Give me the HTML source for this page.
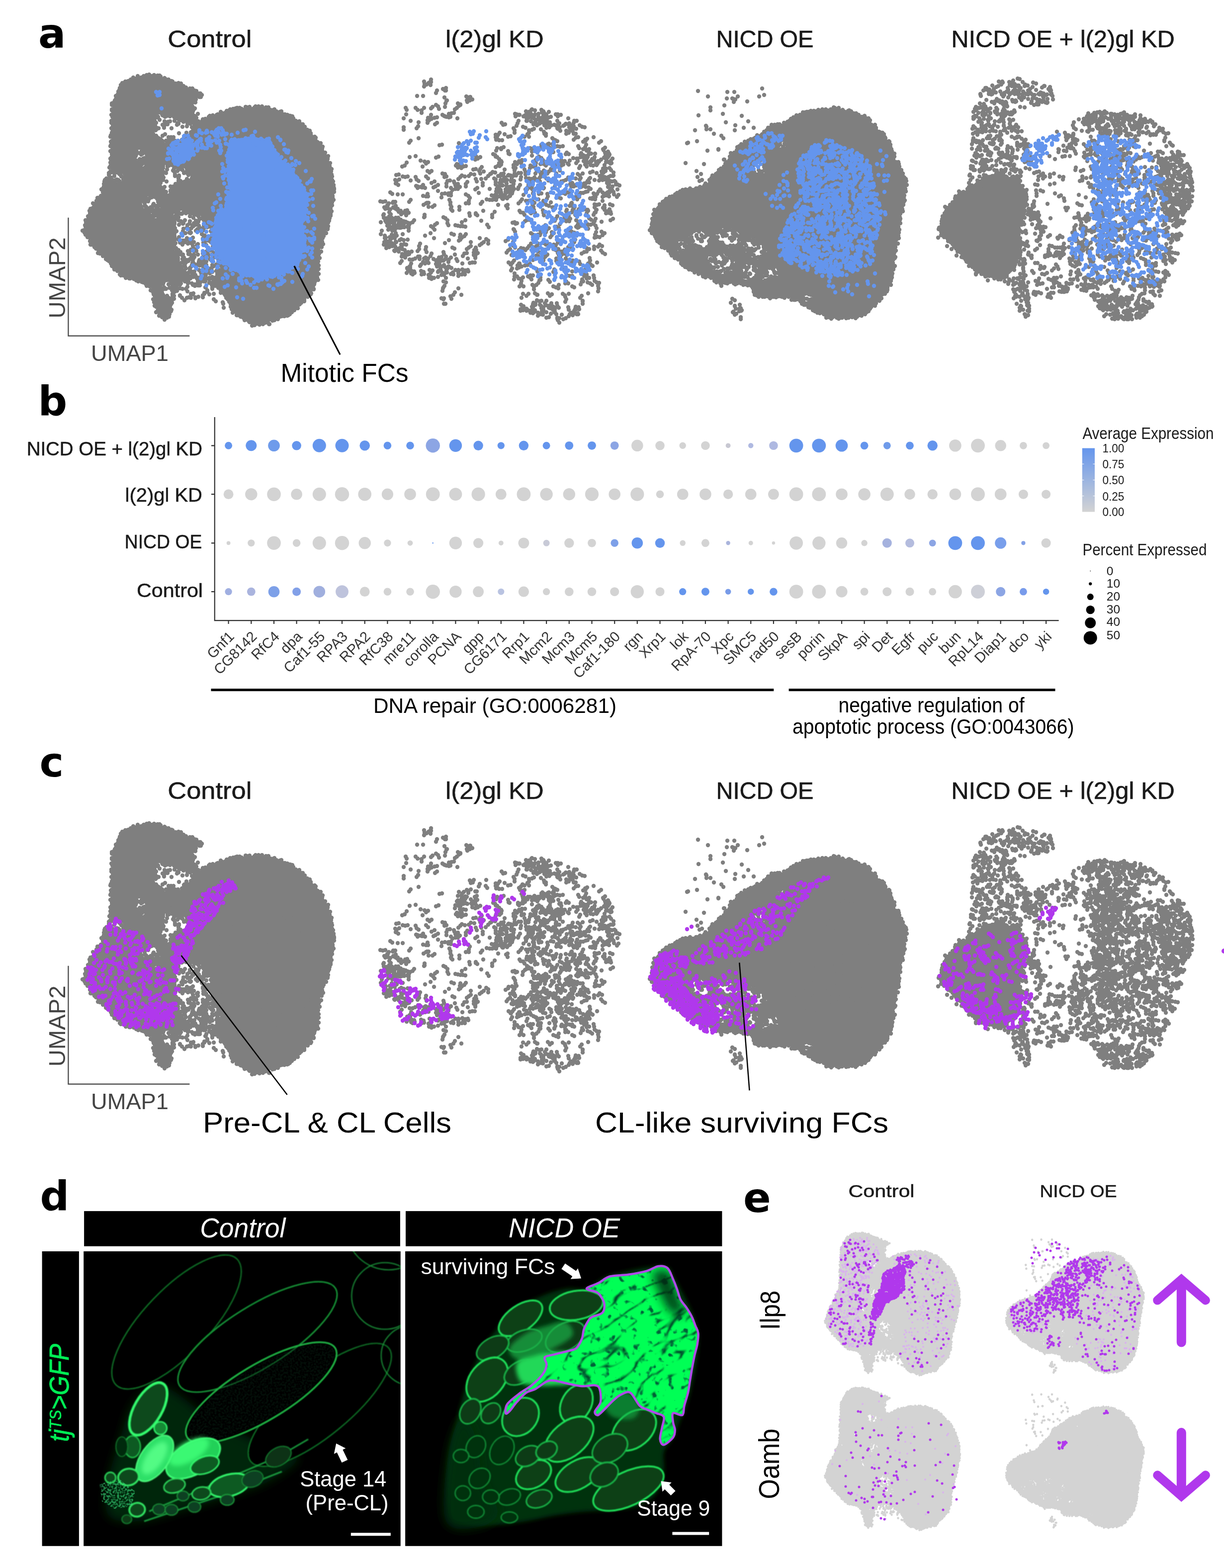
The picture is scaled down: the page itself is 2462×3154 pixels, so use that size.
<!DOCTYPE html><html><head><meta charset="utf-8"><title>Figure</title><style>html,body{margin:0;padding:0;background:#fff;overflow:hidden}svg{display:block}</style></head><body><svg width="2462" height="3154" viewBox="0 0 2462 3154" font-family='"Liberation Sans", Arial, Helvetica, sans-serif'><defs><g id="G_ctrl"><path d="M246.8 168.7C255.4 160.4 268.3 157.2 279 154.2C289.8 151.2 300.5 149.6 311.3 151C322 152.3 332.8 158.2 343.5 162.3C354.3 166.3 365.1 170.6 375.8 175.2C386.6 179.7 405.6 185.1 408.1 189.7C410.5 194.2 393.5 196.4 390.3 202.6C387.1 208.8 387.9 220.6 388.7 226.8C389.5 233 392.5 236.7 395.2 239.7C397.8 242.6 400 245.6 404.8 244.5C409.7 243.4 415.6 236.7 424.2 233.2C432.8 229.7 445.7 226.2 456.5 223.5C467.2 220.9 478 218.4 488.7 217.1C499.5 215.8 510.2 214.9 521 215.5C531.7 216 542.5 217.4 553.2 220.3C564 223.3 574.7 226.8 585.5 233.2C596.2 239.7 608.6 250.4 617.7 259C626.9 267.6 633.3 275.2 640.3 284.8C647.3 294.5 654.8 305.3 659.7 317.1C664.5 328.9 667.2 344 669.4 355.8C671.5 367.6 673.1 377.3 672.6 388.1C672 398.8 668.3 409.6 666.1 420.3C664 431.1 662.4 441.8 659.7 452.6C657 463.3 653.2 474.1 650 484.8C646.8 495.6 641.9 505.3 640.3 517.1C638.7 528.9 642.5 544 640.3 555.8C638.2 567.6 633.9 578.4 627.4 588.1C621 597.7 608.6 606.3 601.6 613.9C594.6 621.4 593.5 628.4 585.5 633.2C577.4 638.1 564 640.8 553.2 642.9C542.5 645.1 531.7 646.7 521 646.1C510.2 645.6 497.3 642.9 488.7 639.7C480.1 636.5 473.7 632.2 469.4 626.8C465.1 621.4 466.7 614.4 462.9 607.4C459.1 600.4 453.2 591.3 446.8 584.8C440.3 578.4 432.8 573 424.2 568.7C415.6 564.4 404.3 560.1 395.2 559C386 558 376.3 559 369.4 562.3C362.4 565.5 357 572.5 353.2 578.4C349.5 584.3 348.4 591.8 346.8 597.7C345.2 603.7 344.1 608 343.5 613.9C343 619.8 345.7 628.4 343.5 633.2C341.4 638.1 334.9 642.9 330.6 642.9C326.3 642.9 321 639.1 317.7 633.2C314.5 627.3 313.4 616 311.3 607.4C309.1 598.8 309.1 588.6 304.8 581.6C300.5 574.6 294.1 569.2 285.5 565.5C276.9 561.7 261.8 562.8 253.2 559C244.6 555.3 240.3 548.8 233.9 542.9C227.4 537 221.5 530.5 214.5 523.5C207.5 516.6 198.4 508.5 191.9 501C185.5 493.4 179.8 484.3 175.8 478.4C171.8 472.5 167.7 471.9 167.7 465.5C167.7 459 173.4 447.2 175.8 439.7C178.2 432.2 179.6 426.2 182.3 420.3C184.9 414.4 188.2 409.6 191.9 404.2C195.7 398.8 202.2 394 204.8 388.1C207.5 382.2 205.4 375.2 208.1 368.7C210.8 362.3 218.5 356.9 221 349.4C223.4 341.8 222 338.6 222.6 323.5C223.1 308.5 223.4 278.9 224.2 259C225 239.1 223.7 219.2 227.4 204.2C231.2 189.1 238.2 177 246.8 168.7Z" stroke="none"/><path d="M311.3 236.5C314.5 230 323.1 229.5 330.6 230C338.2 230.5 347.8 237 356.5 239.7C365.1 242.4 376.6 241.8 382.3 246.1C387.9 250.4 391.4 259.6 390.3 265.5C389.2 271.4 382.5 278.1 375.8 281.6C369.1 285.1 358.6 285.9 350 286.5C341.4 287 330.6 287.8 324.2 284.8C317.7 281.9 313.4 276.8 311.3 268.7C309.1 260.6 308.1 242.9 311.3 236.5Z" fill="#fff" stroke="none"/><path d="M330.6 333.2C337.1 327.3 351.1 330.5 359.7 333.2C368.3 335.9 379.6 344 382.3 349.4C384.9 354.7 380.6 362.3 375.8 365.5C371 368.7 359.1 364.9 353.2 368.7C347.3 372.5 344.6 384.8 340.3 388.1C336 391.3 330.6 391.3 327.4 388.1C324.2 384.8 320.4 377.8 321 368.7C321.5 359.6 324.2 339.1 330.6 333.2Z" fill="#fff" stroke="none"/><path d="M350 430C354.3 424.1 367.2 423 375.8 423.5C384.4 424.1 394.1 428.4 401.6 433.2C409.1 438.1 415.6 446.1 421 452.6C426.3 459 431.2 463.9 433.9 471.9C436.6 480 435.5 490.8 437.1 501C438.7 511.2 444.6 523 443.5 533.2C442.5 543.4 437.6 557.4 430.6 562.3C423.7 567.1 410.8 564.9 401.6 562.3C392.5 559.6 383.3 553.1 375.8 546.1C368.3 539.1 360.8 529.5 356.5 520.3C352.2 511.2 351.1 501.5 350 491.3C348.9 481.1 350 469.2 350 459C350 448.8 345.7 435.9 350 430Z" fill="#fff" stroke="none"/><path d="M324.2 571.9C327.2 568.2 339.2 566 343.5 568.7C347.8 571.4 350.5 583.2 350 588.1C349.5 592.9 344.4 597.2 340.3 597.7C336.3 598.3 328.5 595.6 325.8 591.3C323.1 587 321.2 575.7 324.2 571.9Z" fill="#fff" stroke="none"/><path d="M285.5 404.2C286.6 397.7 298.4 393.4 304.8 394.5C311.3 395.6 321.5 403.7 324.2 410.6C326.9 417.6 325.3 432.7 321 436.5C316.7 440.2 304.3 438.6 298.4 433.2C292.5 427.8 284.4 410.6 285.5 404.2Z" fill="#fff" stroke="none"/><path d="M272.6 304.2C275.8 301 285.5 299.9 288.7 304.2C291.9 308.5 293.5 324.6 291.9 330C290.3 335.4 282.8 337.5 279 336.5C275.3 335.4 270.4 328.9 269.4 323.5C268.3 318.2 269.4 307.4 272.6 304.2Z" fill="#fff" stroke="none"/><path d="M224.2 349.4C226.9 346.1 239.8 344 243.5 346.1C247.3 348.3 249.5 359 246.8 362.3C244.1 365.5 231.2 367.6 227.4 365.5C223.7 363.3 221.5 352.6 224.2 349.4Z" fill="#fff" stroke="none"/><path d="M491.9 639.7C494.6 638.6 510.8 645.6 521 646.1C531.2 646.7 550.5 641.8 553.2 642.9C555.9 644 545.2 651 537.1 652.6C529 654.2 512.4 654.7 504.8 652.6C497.3 650.4 489.2 640.8 491.9 639.7Z" fill="#fff" stroke="none"/><path d="M246 167h0M252 164h0M256 164h0M258 163h0M263 160h0M268 156h0M274 158h0M277 153h0M284 156h0M289 153h0M295 151h0M299 151h0M300 150h0M306 153h0M310 151h0M317 152h0M321 152h0M323 154h0M331 157h0M333 159h0M339 160h0M345 163h0M347 164h0M353 168h0M359 167h0M364 168h0M366 173h0M369 173h0M374 176h0M382 178h0M387 178h0M391 182h0M395 183h0M401 188h0M403 188h0M406 191h0M404 195h0M401 195h0M394 200h0M388 202h0M388 206h0M387 214h0M388 216h0M388 224h0M387 227h0M391 233h0M395 237h0M394 239h0M399 244h0M407 243h0M408 240h0M413 239h0M420 235h0M422 233h0M428 232h0M436 231h0M438 230h0M444 225h0M449 228h0M454 226h0M456 223h0M459 223h0M463 220h0M469 219h0M474 218h0M477 217h0M482 217h0M486 219h0M494 215h0M497 216h0M502 215h0M509 219h0M512 216h0M514 214h0M520 214h0M527 214h0M528 219h0M535 216h0M540 216h0M544 221h0M550 221h0M552 220h0M556 224h0M563 225h0M566 224h0M573 230h0M578 231h0M582 233h0M584 233h0M588 234h0M590 238h0M595 243h0M602 244h0M606 250h0M609 250h0M609 252h0M613 255h0M618 261h0M623 263h0M625 268h0M625 271h0M633 275h0M635 277h0M635 283h0M639 286h0M645 288h0M645 295h0M649 295h0M648 299h0M654 307h0M653 311h0M660 314h0M659 317h0M659 320h0M664 328h0M663 334h0M664 338h0M667 340h0M666 345h0M667 351h0M668 355h0M668 362h0M670 365h0M671 372h0M671 376h0M672 379h0M672 381h0M672 386h0M669 394h0M669 397h0M671 402h0M668 407h0M668 413h0M665 416h0M665 419h0M667 425h0M665 431h0M665 434h0M663 439h0M662 444h0M660 448h0M660 455h0M659 459h0M659 461h0M656 469h0M656 469h0M651 475h0M649 479h0M648 486h0M650 491h0M646 495h0M647 497h0M646 506h0M642 510h0M641 512h0M643 519h0M639 522h0M640 526h0M639 531h0M641 534h0M641 541h0M638 545h0M641 551h0M638 558h0M640 563h0M635 564h0M632 571h0M632 572h0M631 581h0M631 582h0M626 590h0M625 592h0M619 592h0M619 597h0M612 603h0M612 606h0M606 609h0M603 612h0M601 613h0M599 620h0M594 620h0M592 624h0M587 628h0M583 632h0M580 634h0M578 635h0M572 636h0M566 636h0M561 638h0M559 642h0M552 643h0M551 641h0M546 643h0M539 646h0M534 645h0M531 648h0M525 647h0M522 647h0M516 644h0M510 642h0M505 645h0M501 641h0M496 643h0M495 641h0M488 638h0M484 637h0M479 634h0M476 634h0M476 630h0M468 629h0M467 621h0M464 617h0M464 612h0M461 607h0M458 602h0M455 599h0M453 594h0M451 591h0M450 589h0M448 586h0M444 584h0M439 579h0M438 575h0M433 575h0M426 573h0M426 569h0M421 569h0M413 566h0M410 566h0M406 564h0M400 563h0M396 560h0M389 557h0M383 560h0M378 563h0M375 562h0M370 563h0M366 563h0M364 570h0M360 572h0M357 573h0M354 577h0M349 582h0M351 587h0M350 595h0M347 597h0M346 604h0M346 609h0M344 612h0M342 617h0M345 623h0M344 626h0M341 632h0M340 637h0M336 639h0M331 643h0M326 638h0M324 635h0M320 635h0M314 628h0M317 625h0M314 617h0M311 615h0M310 608h0M308 602h0M311 595h0M309 592h0M308 588h0M303 584h0M301 576h0M295 575h0M293 571h0M288 568h0M285 567h0M278 566h0M278 562h0M274 564h0M269 561h0M262 560h0M260 560h0M253 559h0M248 554h0M243 554h0M241 552h0M236 545h0M234 541h0M230 542h0M229 538h0M225 535h0M223 530h0M219 525h0M216 523h0M213 521h0M207 515h0M207 512h0M201 510h0M197 509h0M198 503h0M193 500h0M190 497h0M185 492h0M182 492h0M181 485h0M181 485h0M176 477h0M172 472h0M170 468h0M166 464h0M169 463h0M172 456h0M171 453h0M173 447h0M172 443h0M178 438h0M177 435h0M181 429h0M180 424h0M182 420h0M187 418h0M189 410h0M187 409h0M194 404h0M196 398h0M198 398h0M203 394h0M207 387h0M204 381h0M207 379h0M209 375h0M209 370h0M210 365h0M211 362h0M214 359h0M219 352h0M219 348h0M222 345h0M220 337h0M222 334h0M222 327h0M223 321h0M222 319h0M225 315h0M225 310h0M222 304h0M225 302h0M222 294h0M223 292h0M223 285h0M224 284h0M222 275h0M223 272h0M225 267h0M226 265h0M224 258h0M227 254h0M226 249h0M224 247h0M224 243h0M226 235h0M224 231h0M227 229h0M225 222h0M225 220h0M225 211h0M225 208h0M229 206h0M231 202h0M234 194h0M233 193h0M238 184h0M240 181h0M241 177h0M243 171h0M333 250h0M339 276h0M376 254h0M315 257h0M341 282h0M327 251h0M344 276h0M370 281h0M338 245h0M387 265h0M332 270h0M336 246h0M384 266h0M330 257h0M342 244h0M345 258h0M375 272h0M376 274h0M359 249h0M337 250h0M327 273h0M331 234h0M314 261h0M337 285h0M332 235h0M319 258h0M367 255h0M330 254h0M360 268h0M370 278h0M378 247h0M356 251h0M331 244h0M323 280h0M357 248h0M351 243h0M375 267h0M349 276h0M314 247h0M321 241h0M388 263h0M314 236h0M318 235h0M317 236h0M326 230h0M327 232h0M329 229h0M332 229h0M336 233h0M343 232h0M342 234h0M350 235h0M351 236h0M359 240h0M357 238h0M363 242h0M368 240h0M369 245h0M374 243h0M377 248h0M381 247h0M383 249h0M388 257h0M386 256h0M390 260h0M387 268h0M387 270h0M385 274h0M383 271h0M377 277h0M379 282h0M373 282h0M371 282h0M366 281h0M365 287h0M358 284h0M360 288h0M352 283h0M353 290h0M346 283h0M346 285h0M342 287h0M338 283h0M334 283h0M327 287h0M326 283h0M320 281h0M319 278h0M314 273h0M315 275h0M308 269h0M313 262h0M314 259h0M312 258h0M312 253h0M311 251h0M311 248h0M311 243h0M308 241h0M351 346h0M349 343h0M350 339h0M329 357h0M327 357h0M352 335h0M360 338h0M352 336h0M352 354h0M333 387h0M367 342h0M376 348h0M334 348h0M352 351h0M331 385h0M331 376h0M328 362h0M360 353h0M374 364h0M327 388h0M360 355h0M370 348h0M343 375h0M348 343h0M371 347h0M340 333h0M359 357h0M329 346h0M361 334h0M327 353h0M335 365h0M357 344h0M359 359h0M329 385h0M336 341h0M328 334h0M337 335h0M337 332h0M338 334h0M346 332h0M350 333h0M355 335h0M354 336h0M356 333h0M362 334h0M363 340h0M366 340h0M376 340h0M374 346h0M379 348h0M384 347h0M379 352h0M376 360h0M379 363h0M372 368h0M374 366h0M370 366h0M363 364h0M359 364h0M356 370h0M355 371h0M353 370h0M349 375h0M349 379h0M343 383h0M346 383h0M343 385h0M334 386h0M333 391h0M329 387h0M329 383h0M323 383h0M324 378h0M323 376h0M321 371h0M323 368h0M322 363h0M324 357h0M323 355h0M323 354h0M324 344h0M325 347h0M328 338h0M326 334h0M415 511h0M415 526h0M356 505h0M384 537h0M427 547h0M360 452h0M360 428h0M429 536h0M409 538h0M409 463h0M359 437h0M380 482h0M352 459h0M376 523h0M384 468h0M430 509h0M353 481h0M391 531h0M382 521h0M400 454h0M350 452h0M421 559h0M350 492h0M396 534h0M367 492h0M382 539h0M377 453h0M415 493h0M360 512h0M415 533h0M409 473h0M388 478h0M369 460h0M434 493h0M385 546h0M372 487h0M400 528h0M420 513h0M383 469h0M412 526h0M366 484h0M422 504h0M362 488h0M368 465h0M416 541h0M364 445h0M373 469h0M399 446h0M381 450h0M441 525h0M360 477h0M442 534h0M419 484h0M368 512h0M360 452h0M386 428h0M387 533h0M415 493h0M409 488h0M363 507h0M388 526h0M435 483h0M404 527h0M389 455h0M418 546h0M422 521h0M430 518h0M410 487h0M379 511h0M359 482h0M423 522h0M409 458h0M390 487h0M408 480h0M413 553h0M367 514h0M423 477h0M354 499h0M359 503h0M401 523h0M398 512h0M428 496h0M370 518h0M387 529h0M383 431h0M376 479h0M351 482h0M389 520h0M383 460h0M371 526h0M370 535h0M387 453h0M426 512h0M394 502h0M383 512h0M427 537h0M394 464h0M401 441h0M428 473h0M385 459h0M390 449h0M376 458h0M378 490h0M390 512h0M412 474h0M437 542h0M435 532h0M411 458h0M359 443h0M372 531h0M382 445h0M435 533h0M407 532h0M413 548h0M424 540h0M368 520h0M400 526h0M391 546h0M402 460h0M372 443h0M396 432h0M394 444h0M396 493h0M400 543h0M394 502h0M412 540h0M385 482h0M410 512h0M414 553h0M398 491h0M417 510h0M382 543h0M384 489h0M399 530h0M370 484h0M390 500h0M427 464h0M427 480h0M397 461h0M397 559h0M411 533h0M381 468h0M378 505h0M409 532h0M433 499h0M355 465h0M351 450h0M436 508h0M412 533h0M435 508h0M408 510h0M415 506h0M414 453h0M412 487h0M367 429h0M422 550h0M411 475h0M427 533h0M403 459h0M378 482h0M380 483h0M410 553h0M355 502h0M354 440h0M426 503h0M351 477h0M405 554h0M389 438h0M410 453h0M417 457h0M417 542h0M409 522h0M393 553h0M379 525h0M395 432h0M384 503h0M391 517h0M384 513h0M409 482h0M386 533h0M438 532h0M403 464h0M416 538h0M381 508h0M406 466h0M390 547h0M385 519h0M406 548h0M426 463h0M350 460h0M390 505h0M426 547h0M426 544h0M404 462h0M430 535h0M414 550h0M382 435h0M402 534h0M369 528h0M407 518h0M394 452h0M374 528h0M424 487h0M422 456h0M404 548h0M433 496h0M395 505h0M368 450h0M367 521h0M384 502h0M388 495h0M364 430h0M360 511h0M406 471h0M431 491h0M403 460h0M423 483h0M439 530h0M427 557h0M374 429h0M369 449h0M358 431h0M402 544h0M393 555h0M353 427h0M354 428h0M355 431h0M359 428h0M366 430h0M370 425h0M372 422h0M379 427h0M378 422h0M381 425h0M390 431h0M393 426h0M396 432h0M399 435h0M399 431h0M406 439h0M408 437h0M411 443h0M410 443h0M414 444h0M418 447h0M419 450h0M424 452h0M427 457h0M424 465h0M428 469h0M434 471h0M431 472h0M431 479h0M437 480h0M435 482h0M438 486h0M437 488h0M434 491h0M438 498h0M435 504h0M436 504h0M436 507h0M442 511h0M438 515h0M439 522h0M439 526h0M439 529h0M444 528h0M443 532h0M440 534h0M440 543h0M443 546h0M435 545h0M439 546h0M437 551h0M437 552h0M434 558h0M428 559h0M429 562h0M421 562h0M423 560h0M417 560h0M410 564h0M410 560h0M402 559h0M402 562h0M397 558h0M396 560h0M394 557h0M387 551h0M387 552h0M384 547h0M381 547h0M378 549h0M374 540h0M374 540h0M372 536h0M365 537h0M364 529h0M362 530h0M357 526h0M358 523h0M354 522h0M358 519h0M354 515h0M353 511h0M350 508h0M356 502h0M352 499h0M351 492h0M353 489h0M348 485h0M348 486h0M347 478h0M351 475h0M347 474h0M351 470h0M351 463h0M353 464h0M347 456h0M350 455h0M348 449h0M349 446h0M351 447h0M348 441h0M352 435h0M352 437h0M334 581h0M346 584h0M344 579h0M330 578h0M326 584h0M331 581h0M341 579h0M324 569h0M328 571h0M329 568h0M339 572h0M343 570h0M346 571h0M348 569h0M347 575h0M349 579h0M349 587h0M351 586h0M347 591h0M347 593h0M339 599h0M334 597h0M336 595h0M328 593h0M326 589h0M323 585h0M324 583h0M323 578h0M322 576h0M318 420h0M308 422h0M303 417h0M309 414h0M298 405h0M294 416h0M300 419h0M307 415h0M297 427h0M319 413h0M303 425h0M290 404h0M291 409h0M299 423h0M309 430h0M317 416h0M314 426h0M315 414h0M316 424h0M315 419h0M308 412h0M316 431h0M309 410h0M285 404h0M290 401h0M291 401h0M294 398h0M300 400h0M302 396h0M303 393h0M305 397h0M311 396h0M316 400h0M318 406h0M322 404h0M321 411h0M321 407h0M324 414h0M326 420h0M323 425h0M322 426h0M323 428h0M320 433h0M320 440h0M318 436h0M311 434h0M309 435h0M306 437h0M305 434h0M298 434h0M300 429h0M296 429h0M292 422h0M296 423h0M291 414h0M293 415h0M291 414h0M290 407h0M273 314h0M281 320h0M274 310h0M284 324h0M284 306h0M279 330h0M276 326h0M288 323h0M284 311h0M273 305h0M275 305h0M281 308h0M285 304h0M286 302h0M291 305h0M287 309h0M290 318h0M291 321h0M288 319h0M293 325h0M293 329h0M286 330h0M283 336h0M283 334h0M279 336h0M273 336h0M275 333h0M271 328h0M268 320h0M273 322h0M269 319h0M274 311h0M273 311h0M230 354h0M240 350h0M231 363h0M235 361h0M230 349h0M223 347h0M231 347h0M232 345h0M236 347h0M239 344h0M241 348h0M243 348h0M243 353h0M244 355h0M248 361h0M240 364h0M236 362h0M238 362h0M231 367h0M230 363h0M226 363h0M225 361h0M223 357h0M523 647h0M509 650h0M491 641h0M496 639h0M498 638h0M501 645h0M505 644h0M507 644h0M513 645h0M516 642h0M520 644h0M522 647h0M527 645h0M535 647h0M538 647h0M536 643h0M539 645h0M547 643h0M549 644h0M555 641h0M552 644h0M548 645h0M541 652h0M542 652h0M534 649h0M531 650h0M529 652h0M523 651h0M524 650h0M522 653h0M517 651h0M512 654h0M507 649h0M507 655h0M501 647h0M502 648h0M494 643h0M492 644h0M393 206h0M392 218h0M393 235h0M380 206h0M398 229h0M393 235h0M390 220h0M384 222h0M380 598h0M414 578h0M356 585h0M398 574h0M386 570h0M434 606h0M377 577h0M411 591h0M366 599h0M421 592h0M362 580h0M392 575h0M356 580h0M403 568h0M388 592h0M392 572h0M362 594h0M401 574h0M460 604h0M427 578h0M378 570h0M371 604h0M449 611h0M388 573h0M393 598h0M377 563h0M448 608h0M408 594h0M367 581h0M402 574h0M450 619h0M444 589h0M411 589h0M389 590h0M384 591h0M417 584h0M372 566h0M388 592h0M466 622h0M430 602h0M384 599h0M427 581h0M430 591h0M393 600h0M399 597h0M417 587h0M362 573h0M379 567h0M413 578h0M408 598h0M376 599h0M362 595h0M398 566h0M396 572h0M377 586h0M350 601h0M374 581h0" stroke-width="8.4" stroke-linecap="round" fill="none"/></g><g id="B_ctrl"><path d="M462.9 284.8C470.4 277 491.4 277 504.8 276.8C518.3 276.5 535.5 277.6 543.5 283.2C551.6 288.9 547.3 301.8 553.2 310.6C559.1 319.5 571 327.8 579 336.5C587.1 345.1 595.7 353.7 601.6 362.3C607.5 370.9 612.4 378.4 614.5 388.1C616.7 397.7 615.6 409.6 614.5 420.3C613.4 431.1 608.1 441.8 608.1 452.6C608.1 463.3 615.1 474.1 614.5 484.8C614 495.6 608.6 508.5 604.8 517.1C601.1 525.7 597.8 531.1 591.9 536.5C586 541.8 578.5 545.6 569.4 549.4C560.2 553.1 547.8 558 537.1 559C526.3 560.1 515.6 558.5 504.8 555.8C494.1 553.1 482.3 548.3 472.6 542.9C462.9 537.5 453.8 530.5 446.8 523.5C439.8 516.6 433.9 510.1 430.6 501C427.4 491.8 426.3 479.5 427.4 468.7C428.5 458 432.3 445.6 437.1 436.5C441.9 427.3 452.2 424.1 456.5 413.9C460.8 403.7 462.4 390.2 462.9 375.2C463.4 360.1 459.7 338.6 459.7 323.5C459.7 308.5 455.4 292.6 462.9 284.8Z" stroke="none"/><path d="M464 284h0M470 285h0M474 283h0M479 284h0M480 282h0M485 282h0M492 281h0M494 278h0M501 280h0M506 274h0M510 276h0M515 280h0M517 281h0M525 279h0M527 281h0M536 282h0M537 280h0M542 285h0M544 288h0M546 293h0M548 295h0M552 302h0M553 308h0M555 308h0M556 312h0M560 319h0M564 318h0M565 325h0M570 326h0M572 328h0M578 333h0M581 337h0M580 339h0M584 346h0M589 345h0M590 351h0M595 355h0M598 358h0M599 363h0M603 364h0M606 373h0M606 373h0M611 378h0M611 384h0M613 388h0M615 395h0M617 395h0M615 403h0M616 408h0M615 412h0M614 415h0M616 422h0M616 426h0M612 431h0M613 434h0M612 438h0M610 443h0M607 447h0M607 455h0M609 457h0M609 460h0M610 465h0M609 473h0M612 475h0M614 479h0M613 483h0M612 488h0M613 494h0M613 498h0M611 504h0M606 506h0M607 515h0M604 518h0M602 523h0M598 525h0M599 528h0M593 530h0M590 535h0M588 538h0M582 540h0M579 546h0M575 545h0M571 552h0M565 549h0M562 554h0M555 552h0M549 555h0M548 557h0M544 556h0M536 560h0M533 558h0M529 557h0M521 557h0M516 558h0M513 557h0M510 555h0M505 553h0M502 554h0M498 550h0M492 551h0M486 546h0M480 545h0M479 543h0M474 543h0M469 541h0M465 538h0M462 534h0M459 531h0M455 530h0M452 525h0M448 526h0M444 519h0M442 518h0M437 510h0M436 509h0M435 504h0M433 500h0M431 494h0M427 490h0M427 487h0M429 481h0M431 477h0M426 472h0M429 471h0M427 462h0M432 458h0M434 455h0M434 449h0M436 445h0M435 443h0M435 438h0M438 433h0M443 431h0M445 425h0M450 423h0M455 418h0M455 413h0M456 409h0M457 403h0M460 400h0M459 397h0M459 390h0M460 387h0M464 379h0M464 377h0M462 370h0M462 368h0M460 362h0M462 356h0M462 354h0M460 349h0M460 344h0M462 336h0M462 335h0M459 326h0M458 326h0M458 321h0M459 315h0M459 307h0M462 302h0M461 301h0M463 296h0M465 287h0M360 317h0M394 272h0M370 324h0M346 293h0M348 288h0M353 308h0M349 313h0M375 293h0M358 331h0M382 298h0M399 298h0M381 279h0M379 285h0M363 302h0M378 273h0M445 258h0M418 280h0M412 298h0M360 304h0M424 284h0M420 285h0M397 303h0M416 280h0M410 297h0M359 303h0M364 326h0M390 311h0M396 292h0M397 296h0M433 273h0M352 319h0M389 305h0M440 258h0M379 320h0M434 264h0M418 290h0M426 266h0M416 283h0M396 273h0M377 281h0M356 299h0M421 276h0M371 273h0M436 261h0M356 288h0M386 283h0M420 278h0M382 305h0M433 282h0M379 300h0M447 269h0M377 307h0M426 284h0M397 293h0M389 291h0M436 287h0M386 293h0M416 298h0M340 319h0M338 308h0M420 292h0M338 309h0M383 300h0M440 266h0M373 295h0M370 274h0M395 287h0M438 275h0M398 284h0M389 293h0M404 283h0M431 270h0M398 287h0M402 280h0M365 317h0M367 310h0M439 260h0M406 268h0M436 266h0M446 271h0M383 306h0M363 326h0M417 266h0M338 309h0M336 320h0M404 279h0M401 266h0M436 266h0M378 305h0M359 297h0M422 288h0M416 263h0M435 264h0M367 282h0M425 293h0M448 262h0M406 297h0M365 325h0M437 272h0M373 290h0M362 313h0M353 316h0M401 262h0M406 291h0M343 305h0M347 300h0M375 284h0M414 267h0M352 329h0M354 322h0M382 303h0M382 284h0M363 306h0M343 303h0M346 306h0M363 297h0M347 299h0M349 323h0M363 324h0M362 319h0M367 314h0M349 317h0M345 292h0M339 299h0M364 293h0M367 290h0M368 319h0M374 282h0M350 309h0M369 314h0M379 296h0M379 302h0M386 300h0M358 283h0M350 316h0M372 286h0M355 286h0M347 290h0M354 329h0M362 304h0M376 311h0M347 311h0M355 287h0M376 285h0M368 301h0M380 319h0M382 294h0M387 306h0M350 322h0M349 289h0M361 291h0M363 325h0M372 315h0M357 319h0M378 314h0M358 283h0M371 322h0M355 309h0M379 300h0M368 302h0M354 289h0M355 322h0M369 293h0M373 301h0M371 320h0M347 292h0M387 297h0M349 324h0M369 325h0M357 304h0M386 305h0M380 287h0M361 320h0M350 297h0M342 307h0M382 305h0M357 326h0M383 313h0M360 328h0M356 313h0M370 298h0M364 313h0M384 304h0M356 329h0M372 307h0M360 317h0M354 285h0M345 309h0M367 281h0M357 317h0M370 293h0M376 293h0M365 300h0M379 313h0M357 328h0M374 314h0M351 287h0M367 321h0M378 296h0M344 305h0M382 287h0M375 287h0M352 298h0M347 294h0M354 301h0M357 298h0M360 322h0M370 319h0M353 286h0M376 303h0M366 313h0M415 466h0M397 467h0M405 464h0M420 503h0M377 461h0M415 517h0M388 534h0M365 470h0M406 555h0M406 519h0M416 481h0M429 526h0M383 481h0M419 475h0M398 497h0M408 546h0M367 474h0M362 483h0M395 540h0M408 505h0M388 504h0M417 538h0M415 495h0M426 546h0M414 536h0M407 543h0M411 509h0M466 281h0M542 525h0M465 328h0M454 289h0M559 573h0M588 375h0M564 282h0M596 364h0M530 519h0M548 369h0M478 442h0M452 515h0M450 530h0M589 432h0M409 510h0M500 279h0M548 493h0M537 388h0M521 449h0M454 539h0M625 365h0M513 302h0M507 479h0M566 406h0M481 320h0M495 350h0M447 496h0M522 401h0M448 486h0M447 345h0M532 485h0M628 500h0M569 491h0M569 462h0M463 374h0M440 463h0M484 549h0M588 406h0M437 510h0M511 579h0M613 515h0M512 524h0M532 423h0M450 340h0M567 564h0M629 400h0M572 383h0M590 530h0M451 448h0M490 262h0M594 513h0M509 273h0M608 431h0M547 545h0M514 465h0M449 338h0M612 382h0M426 450h0M508 448h0M549 487h0M504 281h0M511 388h0M558 489h0M457 469h0M562 411h0M541 279h0M455 386h0M585 525h0M549 498h0M628 518h0M457 559h0M453 476h0M618 465h0M615 344h0M628 488h0M445 519h0M439 424h0M426 513h0M608 555h0M531 524h0M518 459h0M540 517h0M528 353h0M494 261h0M594 521h0M508 298h0M553 326h0M501 295h0M628 435h0M483 289h0M571 533h0M487 357h0M579 307h0M542 575h0M562 452h0M522 406h0M496 456h0M552 555h0M572 516h0M614 529h0M560 533h0M502 542h0M504 487h0M460 356h0M483 364h0M629 470h0M618 505h0M576 347h0M460 392h0M607 556h0M478 508h0M582 546h0M586 431h0M426 525h0M474 461h0M487 432h0M525 469h0M527 562h0M496 554h0M562 571h0M468 551h0M443 400h0M561 482h0M575 502h0M459 342h0M408 482h0M450 343h0M626 467h0M539 471h0M540 483h0M472 280h0M486 305h0M428 418h0M627 481h0M465 507h0M443 291h0M472 391h0M562 403h0M571 290h0M618 369h0M594 332h0M600 518h0M557 349h0M555 448h0M555 317h0M630 383h0M553 443h0M453 280h0M486 492h0M434 513h0M460 377h0M523 295h0M459 516h0M468 382h0M579 331h0M447 330h0M491 377h0M551 411h0M556 529h0M456 269h0M503 296h0M508 489h0M513 315h0M455 401h0M485 410h0M619 438h0M574 441h0M621 428h0M457 314h0M602 328h0M616 408h0M507 362h0M449 473h0M486 298h0M630 414h0M553 425h0M574 432h0M456 420h0M542 469h0M435 518h0M621 498h0M601 378h0M454 452h0M452 271h0M504 304h0M446 501h0M537 562h0M495 478h0M456 413h0M520 565h0M516 579h0M546 329h0M595 324h0M476 390h0M481 475h0M439 526h0M462 406h0M532 489h0M523 447h0M456 313h0M538 405h0M497 546h0M555 537h0M620 391h0M469 352h0M499 430h0M599 519h0M553 424h0M554 448h0M588 549h0M534 318h0M562 342h0M457 377h0M523 478h0M419 498h0M547 411h0M558 517h0M559 488h0M552 317h0M624 512h0M456 398h0M497 569h0M572 375h0M556 506h0M452 345h0M496 395h0M420 447h0M620 445h0M484 486h0M503 316h0M513 265h0M559 311h0M487 570h0M580 529h0M551 464h0M565 571h0M447 506h0M471 342h0M592 453h0M599 541h0M538 323h0M570 347h0M442 484h0M463 488h0M480 428h0M476 394h0M513 342h0M547 484h0M463 514h0M571 369h0M516 320h0M617 440h0M562 383h0M568 333h0M587 518h0M423 448h0M446 487h0M588 514h0M455 289h0M556 441h0M537 294h0M549 337h0M462 396h0M525 493h0M409 493h0M453 353h0M550 482h0M544 550h0M449 359h0M555 343h0M581 526h0M568 568h0M586 359h0M475 492h0M415 456h0M521 308h0M618 542h0M509 323h0M429 423h0M523 376h0M568 430h0M514 341h0M557 331h0M476 413h0M567 508h0M488 403h0M545 293h0M507 464h0M466 271h0M432 409h0M545 356h0M418 501h0M581 400h0M580 303h0M440 431h0M442 506h0M501 368h0M462 498h0M609 551h0M511 568h0M542 352h0M510 490h0M572 301h0M426 521h0M480 339h0M461 410h0M600 363h0M442 499h0M481 320h0M499 524h0M602 444h0M542 549h0M623 365h0M599 523h0M463 377h0M489 373h0M489 295h0M454 552h0M497 464h0M608 503h0M458 556h0M571 503h0M590 341h0M554 382h0M527 368h0M592 370h0M598 533h0M620 499h0M559 470h0M529 406h0M480 512h0M583 540h0M451 369h0M460 291h0M478 267h0M587 332h0M574 323h0M509 389h0M588 567h0M474 463h0M609 411h0M611 496h0M474 541h0M535 293h0M538 527h0M522 415h0M498 543h0M556 326h0M486 376h0M624 484h0M410 450h0M502 490h0M501 289h0M523 524h0M585 374h0M453 499h0M588 330h0M502 382h0M566 559h0M448 356h0M478 495h0M445 435h0M518 475h0M634 440h0M586 318h0M613 437h0M578 539h0M486 557h0M450 267h0M518 549h0M520 560h0M532 305h0M548 518h0M500 453h0M462 348h0M499 425h0M510 289h0M568 500h0M457 341h0M522 316h0M542 551h0M449 448h0M569 501h0M567 488h0M465 529h0M621 402h0M587 478h0M435 407h0M550 581h0M480 506h0M459 323h0M439 391h0M545 357h0M475 422h0M444 414h0M504 573h0M515 564h0M511 323h0M539 306h0M441 283h0M565 571h0M495 373h0M500 373h0M562 385h0M437 538h0M599 494h0M484 462h0M615 389h0M502 355h0M530 473h0M572 565h0M599 514h0M539 477h0M481 564h0M529 389h0M444 296h0M610 517h0M513 419h0M486 548h0M483 431h0M617 465h0M512 366h0M492 456h0M584 343h0M488 384h0M486 554h0M527 348h0M479 524h0M439 482h0M415 519h0M572 491h0M530 556h0M502 321h0M575 536h0M491 289h0M604 502h0M540 574h0M566 462h0M444 456h0M558 572h0M503 385h0M460 334h0M566 316h0M443 308h0M483 497h0M504 514h0M535 405h0M606 453h0M480 387h0M621 536h0M614 440h0M491 482h0M584 425h0M498 475h0M534 494h0M497 569h0M544 361h0M489 346h0M612 515h0M585 524h0M632 481h0M476 503h0M463 456h0M438 536h0M515 348h0M618 503h0M436 505h0M535 552h0M538 397h0M466 296h0M604 402h0M570 342h0M571 468h0M569 328h0M554 349h0M488 556h0M501 443h0M589 504h0M508 538h0M495 565h0M511 297h0M576 306h0M559 276h0M631 434h0M574 301h0M550 380h0M459 522h0M510 410h0M569 494h0M481 560h0M445 303h0M445 420h0M480 312h0M618 412h0M584 340h0M612 457h0M627 508h0M548 431h0M600 402h0M589 479h0M575 334h0M509 524h0M439 480h0M530 390h0M441 303h0M511 418h0M464 378h0M530 505h0M539 311h0M607 378h0M434 447h0M626 383h0M529 360h0M548 441h0M622 480h0M486 565h0M549 434h0M602 475h0M485 454h0M530 325h0M519 297h0M596 475h0M561 558h0M632 478h0M627 360h0M498 550h0M539 525h0M443 528h0M464 543h0M521 363h0M626 390h0M564 281h0M427 500h0M464 307h0M486 473h0M632 460h0M553 311h0M570 437h0M415 545h0M477 598h0M415 574h0M475 578h0M452 577h0M394 538h0M448 560h0M489 601h0M458 574h0M404 560h0M321 191h0M325 218h0M314 185h0M317 192h0M321 185h0" stroke-width="8.4" stroke-linecap="round" fill="none"/></g><g id="P_ctrl"><path d="M331 484h0M199 479h0M180 453h0M233 362h0M311 499h0M267 377h0M297 436h0M212 428h0M233 399h0M297 389h0M246 493h0M251 374h0M183 461h0M188 451h0M262 383h0M297 450h0M347 521h0M259 371h0M261 368h0M300 495h0M279 557h0M231 352h0M280 501h0M236 494h0M239 498h0M334 481h0M242 489h0M237 534h0M342 515h0M334 471h0M354 483h0M350 466h0M207 455h0M261 415h0M240 453h0M281 389h0M222 452h0M265 433h0M271 401h0M316 496h0M318 455h0M267 423h0M225 429h0M304 522h0M261 502h0M210 440h0M237 408h0M238 508h0M214 514h0M294 490h0M290 494h0M221 353h0M238 347h0M297 555h0M233 364h0M321 504h0M262 422h0M221 448h0M305 539h0M331 533h0M253 433h0M331 538h0M251 382h0M253 428h0M283 396h0M240 509h0M233 491h0M288 382h0M286 405h0M281 468h0M231 348h0M231 483h0M284 453h0M229 432h0M238 541h0M216 470h0M241 348h0M321 520h0M221 512h0M213 479h0M317 527h0M274 426h0M219 507h0M187 442h0M240 436h0M266 404h0M303 455h0M267 450h0M240 531h0M237 414h0M286 465h0M223 358h0M191 486h0M271 413h0M232 528h0M234 433h0M246 376h0M295 488h0M254 430h0M214 516h0M256 525h0M241 503h0M352 492h0M298 450h0M259 384h0M202 483h0M301 397h0M286 378h0M266 410h0M274 370h0M261 477h0M195 408h0M299 461h0M287 513h0M278 389h0M254 524h0M277 507h0M239 439h0M354 523h0M347 556h0M327 456h0M253 524h0M300 458h0M200 405h0M342 533h0M346 520h0M274 476h0M302 443h0M319 441h0M223 505h0M302 428h0M212 388h0M266 451h0M311 535h0M237 386h0M235 503h0M295 430h0M269 374h0M266 515h0M207 500h0M237 521h0M290 447h0M241 468h0M211 437h0M218 525h0M274 474h0M334 515h0M298 521h0M252 490h0M189 431h0M266 373h0M243 373h0M204 468h0M206 445h0M272 438h0M265 526h0M315 467h0M272 388h0M278 484h0M240 447h0M182 483h0M274 503h0M217 358h0M217 359h0M262 395h0M226 442h0M240 515h0M232 364h0M302 513h0M248 547h0M244 409h0M267 438h0M253 511h0M327 446h0M203 430h0M295 464h0M257 468h0M216 464h0M240 536h0M289 480h0M330 444h0M194 407h0M305 502h0M208 483h0M294 486h0M231 473h0M233 368h0M297 404h0M273 520h0M240 380h0M245 451h0M248 367h0M269 406h0M252 390h0M292 525h0M244 508h0M222 364h0M177 440h0M253 509h0M222 374h0M268 434h0M348 539h0M215 465h0M254 543h0M227 470h0M227 499h0M193 445h0M268 370h0M217 393h0M283 532h0M301 470h0M264 381h0M253 402h0M281 406h0M222 483h0M264 391h0M191 453h0M265 500h0M241 431h0M218 521h0M286 385h0M359 484h0M323 464h0M203 397h0M287 383h0M257 499h0M188 487h0M189 446h0M293 493h0M250 423h0M302 504h0M293 429h0M278 454h0M353 513h0M311 499h0M348 525h0M319 445h0M229 422h0M321 527h0M330 489h0M277 387h0M233 362h0M199 499h0M232 529h0M227 399h0M252 424h0M280 452h0M216 403h0M323 494h0M274 521h0M199 460h0M220 429h0M206 497h0M278 513h0M289 473h0M345 521h0M277 412h0M189 414h0M304 547h0M292 487h0M348 513h0M254 442h0M190 478h0M299 538h0M263 414h0M254 516h0M184 440h0M248 529h0M318 470h0M215 408h0M263 428h0M292 452h0M231 475h0M233 342h0M250 526h0M302 555h0M329 470h0M242 398h0M273 423h0M263 430h0M322 473h0M191 473h0M335 559h0M337 488h0M327 539h0M216 468h0M241 406h0M314 477h0M233 461h0M346 466h0M343 466h0M257 463h0M308 555h0M288 446h0M290 458h0M304 550h0M293 518h0M215 425h0M212 497h0M270 474h0M231 470h0M351 513h0M268 426h0M235 519h0M203 464h0M317 548h0M263 548h0M245 462h0M232 374h0M195 407h0M303 469h0M266 372h0M326 522h0M315 512h0M290 525h0M328 545h0M229 492h0M300 529h0M277 401h0M217 460h0M302 490h0M316 444h0M190 417h0M187 488h0M296 534h0M247 440h0M215 515h0M305 514h0M271 495h0M194 425h0M225 402h0M231 403h0M334 482h0M261 424h0M345 549h0M255 466h0M219 363h0M265 511h0M199 436h0M242 527h0M193 481h0M431 319h0M412 315h0M403 350h0M372 405h0M406 339h0M370 414h0M440 276h0M393 339h0M390 340h0M400 307h0M385 355h0M418 299h0M430 302h0M348 402h0M426 313h0M402 304h0M430 335h0M418 296h0M374 422h0M439 317h0M374 395h0M383 399h0M460 265h0M416 334h0M371 411h0M446 301h0M378 388h0M432 299h0M440 297h0M385 325h0M366 401h0M359 404h0M377 359h0M418 308h0M347 421h0M420 345h0M384 361h0M406 323h0M361 430h0M375 363h0M369 380h0M368 397h0M413 293h0M449 278h0M359 423h0M470 279h0M386 392h0M349 440h0M383 365h0M354 425h0M470 275h0M421 284h0M357 444h0M349 394h0M409 354h0M450 284h0M383 400h0M371 366h0M400 341h0M391 335h0M400 331h0M472 277h0M396 346h0M422 330h0M381 349h0M406 334h0M374 414h0M352 401h0M353 416h0M421 341h0M440 283h0M419 322h0M368 398h0M428 325h0M418 292h0M384 379h0M377 372h0M387 336h0M406 336h0M394 312h0M361 430h0M404 361h0M388 391h0M372 418h0M416 322h0M430 281h0M378 361h0M400 306h0M456 282h0M430 328h0M355 450h0M411 294h0M459 280h0M412 351h0M349 420h0M362 376h0M447 284h0M435 280h0M431 321h0M394 366h0M417 337h0M449 276h0M356 428h0M386 338h0M393 325h0M364 420h0M388 321h0M417 329h0M398 367h0M355 437h0M467 269h0M447 289h0M396 352h0M384 401h0M456 288h0M417 345h0M384 376h0M453 274h0M413 317h0M423 317h0M405 314h0M425 295h0M408 293h0M379 402h0M474 281h0M390 375h0M358 422h0M387 318h0M467 279h0M418 329h0M392 372h0M375 396h0M465 273h0M436 326h0M414 312h0M370 425h0M420 287h0M422 342h0M438 285h0M377 415h0M401 305h0M435 280h0M385 351h0M436 322h0M449 295h0M357 380h0M357 403h0M432 331h0M361 377h0M424 341h0M376 393h0M384 351h0M427 298h0M378 410h0M383 377h0M451 280h0M413 341h0M427 320h0M389 327h0M352 448h0M358 400h0M448 282h0M412 304h0M457 282h0M471 275h0M443 303h0M386 325h0M398 369h0M350 398h0M371 399h0M374 368h0M396 311h0M363 426h0M384 364h0M373 386h0M386 339h0M391 322h0M346 421h0M371 418h0M461 283h0M346 421h0M354 408h0M370 425h0M378 370h0M433 304h0M449 295h0M443 300h0M414 292h0M354 409h0M375 373h0M414 325h0M400 364h0M444 301h0M419 344h0M374 410h0M373 396h0M408 342h0M449 310h0M390 356h0M414 334h0M396 334h0M352 403h0M392 312h0M379 353h0M473 281h0M371 413h0M448 282h0M365 428h0M350 428h0M395 346h0M377 403h0M463 286h0M403 322h0M360 412h0M361 377h0M358 412h0M420 305h0M392 343h0M428 294h0M421 321h0M385 375h0M427 315h0M377 358h0M414 302h0M391 308h0M347 425h0M433 324h0M406 359h0M381 349h0M370 380h0M411 351h0M365 396h0M363 427h0M459 279h0M420 294h0M354 427h0M437 293h0M387 387h0M380 340h0M438 303h0M379 408h0M446 268h0M413 294h0M436 284h0M394 366h0M364 425h0M442 311h0M460 273h0M432 325h0M351 423h0M457 272h0M395 341h0M354 433h0M392 351h0M364 406h0M354 443h0M391 334h0M380 361h0M351 440h0M362 430h0M401 340h0M397 360h0M416 327h0M311 529h0M341 526h0M282 527h0M294 525h0M311 532h0M315 526h0M285 539h0M316 544h0M310 528h0M339 523h0M248 546h0M300 524h0M327 546h0M282 542h0M309 533h0M344 530h0M307 515h0M323 555h0M275 530h0M292 524h0M313 537h0M331 512h0M335 542h0M305 533h0M296 525h0M299 556h0M266 540h0M264 554h0M256 544h0M297 527h0M240 536h0M293 553h0M267 552h0M258 543h0M315 536h0M244 535h0M343 531h0M297 532h0M336 541h0M272 525h0M331 530h0M303 539h0M318 519h0M309 542h0M345 536h0M330 535h0M257 532h0M240 541h0M257 547h0M251 546h0M304 547h0M312 531h0M337 553h0M322 542h0M262 558h0M271 553h0M312 554h0M326 534h0M278 552h0M309 538h0M232 535h0M321 546h0M280 541h0M297 560h0M291 538h0M286 532h0M313 516h0M313 559h0M321 539h0M242 538h0M336 555h0M253 549h0M327 535h0M333 520h0M271 537h0M317 534h0M267 555h0M277 532h0M257 536h0M315 529h0M310 536h0M265 539h0M249 555h0M263 537h0M339 534h0M258 541h0M244 537h0M308 515h0M296 527h0M320 542h0M339 542h0M315 552h0M238 532h0M264 535h0M335 540h0M319 550h0M264 543h0M275 535h0M294 545h0M251 554h0M274 560h0M322 519h0M241 535h0M272 549h0M289 560h0M331 519h0M298 538h0M304 527h0M322 540h0M329 515h0M332 537h0M306 523h0M314 532h0M317 541h0M306 539h0M316 528h0M288 535h0M320 514h0M292 524h0M301 524h0M337 529h0M336 549h0M176 465h0M186 445h0M183 462h0M187 453h0M188 479h0M190 471h0M181 480h0M190 485h0M188 470h0M180 462h0M182 449h0M191 471h0M187 463h0M184 470h0M181 443h0M190 479h0M179 460h0M187 445h0M187 448h0M188 454h0M183 443h0M191 475h0" stroke-width="8.4" stroke-linecap="round" fill="none"/></g><g id="GE_ctrl"><path d="M246.8 168.7C255.4 160.4 268.3 157.2 279 154.2C289.8 151.2 300.5 149.6 311.3 151C322 152.3 332.8 158.2 343.5 162.3C354.3 166.3 365.1 170.6 375.8 175.2C386.6 179.7 405.6 185.1 408.1 189.7C410.5 194.2 393.5 196.4 390.3 202.6C387.1 208.8 387.9 220.6 388.7 226.8C389.5 233 392.5 236.7 395.2 239.7C397.8 242.6 400 245.6 404.8 244.5C409.7 243.4 415.6 236.7 424.2 233.2C432.8 229.7 445.7 226.2 456.5 223.5C467.2 220.9 478 218.4 488.7 217.1C499.5 215.8 510.2 214.9 521 215.5C531.7 216 542.5 217.4 553.2 220.3C564 223.3 574.7 226.8 585.5 233.2C596.2 239.7 608.6 250.4 617.7 259C626.9 267.6 633.3 275.2 640.3 284.8C647.3 294.5 654.8 305.3 659.7 317.1C664.5 328.9 667.2 344 669.4 355.8C671.5 367.6 673.1 377.3 672.6 388.1C672 398.8 668.3 409.6 666.1 420.3C664 431.1 662.4 441.8 659.7 452.6C657 463.3 653.2 474.1 650 484.8C646.8 495.6 641.9 505.3 640.3 517.1C638.7 528.9 642.5 544 640.3 555.8C638.2 567.6 633.9 578.4 627.4 588.1C621 597.7 608.6 606.3 601.6 613.9C594.6 621.4 593.5 628.4 585.5 633.2C577.4 638.1 564 640.8 553.2 642.9C542.5 645.1 531.7 646.7 521 646.1C510.2 645.6 497.3 642.9 488.7 639.7C480.1 636.5 473.7 632.2 469.4 626.8C465.1 621.4 466.7 614.4 462.9 607.4C459.1 600.4 453.2 591.3 446.8 584.8C440.3 578.4 432.8 573 424.2 568.7C415.6 564.4 404.3 560.1 395.2 559C386 558 376.3 559 369.4 562.3C362.4 565.5 357 572.5 353.2 578.4C349.5 584.3 348.4 591.8 346.8 597.7C345.2 603.7 344.1 608 343.5 613.9C343 619.8 345.7 628.4 343.5 633.2C341.4 638.1 334.9 642.9 330.6 642.9C326.3 642.9 321 639.1 317.7 633.2C314.5 627.3 313.4 616 311.3 607.4C309.1 598.8 309.1 588.6 304.8 581.6C300.5 574.6 294.1 569.2 285.5 565.5C276.9 561.7 261.8 562.8 253.2 559C244.6 555.3 240.3 548.8 233.9 542.9C227.4 537 221.5 530.5 214.5 523.5C207.5 516.6 198.4 508.5 191.9 501C185.5 493.4 179.8 484.3 175.8 478.4C171.8 472.5 167.7 471.9 167.7 465.5C167.7 459 173.4 447.2 175.8 439.7C178.2 432.2 179.6 426.2 182.3 420.3C184.9 414.4 188.2 409.6 191.9 404.2C195.7 398.8 202.2 394 204.8 388.1C207.5 382.2 205.4 375.2 208.1 368.7C210.8 362.3 218.5 356.9 221 349.4C223.4 341.8 222 338.6 222.6 323.5C223.1 308.5 223.4 278.9 224.2 259C225 239.1 223.7 219.2 227.4 204.2C231.2 189.1 238.2 177 246.8 168.7Z" stroke="none"/><path d="M326 245.8C327.9 242 333.1 241.6 337.6 242C342.1 242.3 347.9 246.2 353.1 247.8C358.2 249.4 365.2 249.1 368.6 251.6C372 254.2 374.1 259.7 373.4 263.3C372.8 266.8 368.7 270.8 364.7 272.9C360.7 275 354.4 275.5 349.2 275.8C344.1 276.2 337.6 276.6 333.7 274.9C329.9 273.1 327.3 270 326 265.2C324.7 260.4 324.1 249.7 326 245.8Z" fill="#fff" stroke="none"/><path d="M337.9 344.7C341.8 341.1 350.2 343.1 355.3 344.7C360.5 346.3 367.3 351.1 368.9 354.4C370.5 357.6 367.9 362.1 365 364C362.1 366 355 363.7 351.5 366C347.9 368.2 346.3 375.6 343.7 377.6C341.1 379.5 337.9 379.5 336 377.6C334 375.6 331.8 371.5 332.1 366C332.4 360.5 334 348.2 337.9 344.7Z" fill="#fff" stroke="none"/><path d="M367.8 454.5C370.3 451 378.1 450.3 383.3 450.6C388.4 451 394.2 453.5 398.7 456.5C403.3 459.4 407.1 464.2 410.3 468.1C413.6 471.9 416.5 474.8 418.1 479.7C419.7 484.5 419.1 491 420 497.1C421 503.2 424.5 510.3 423.9 516.5C423.3 522.6 420.3 531 416.2 533.9C412 536.8 404.2 535.5 398.7 533.9C393.3 532.3 387.8 528.4 383.3 524.2C378.7 520 374.2 514.2 371.6 508.7C369.1 503.2 368.4 497.4 367.8 491.3C367.1 485.2 367.8 478.1 367.8 471.9C367.8 465.8 365.2 458.1 367.8 454.5Z" fill="#fff" stroke="none"/><path d="M329.2 576.6C331 574.3 338.3 573 340.8 574.6C343.4 576.3 345 583.4 344.7 586.3C344.4 589.2 341.3 591.7 338.9 592.1C336.5 592.4 331.8 590.8 330.2 588.2C328.6 585.6 327.5 578.8 329.2 576.6Z" fill="#fff" stroke="none"/><path d="M294 408.8C294.6 405 301.7 402.4 305.6 403C309.5 403.7 315.6 408.5 317.2 412.7C318.8 416.9 317.9 425.9 315.3 428.2C312.7 430.5 305.3 429.5 301.7 426.3C298.2 423 293.4 412.7 294 408.8Z" fill="#fff" stroke="none"/><path d="M275.7 310.4C277.6 308.5 283.4 307.8 285.4 310.4C287.3 313 288.3 322.6 287.3 325.9C286.3 329.1 281.8 330.4 279.5 329.7C277.3 329.1 274.4 325.2 273.7 322C273.1 318.8 273.7 312.3 275.7 310.4Z" fill="#fff" stroke="none"/><path d="M228.7 351.9C230.3 350 238.1 348.7 240.3 350C242.6 351.3 243.9 357.7 242.3 359.7C240.6 361.6 232.9 362.9 230.6 361.6C228.4 360.3 227.1 353.9 228.7 351.9Z" fill="#fff" stroke="none"/><path d="M503.8 642.5C505.4 641.9 515.1 646.1 521.2 646.4C527.4 646.7 539 643.8 540.6 644.5C542.2 645.1 535.7 649.3 530.9 650.3C526.1 651.2 516.1 651.5 511.5 650.3C507 649 502.2 643.2 503.8 642.5Z" fill="#fff" stroke="none"/><path d="M247 170h0M251 165h0M255 166h0M261 161h0M264 160h0M267 156h0M274 154h0M281 152h0M285 155h0M287 153h0M295 153h0M297 155h0M301 154h0M306 151h0M310 152h0M318 154h0M319 157h0M326 156h0M331 155h0M335 160h0M340 162h0M341 162h0M347 165h0M352 166h0M358 168h0M364 169h0M365 170h0M369 175h0M378 173h0M380 179h0M387 182h0M392 180h0M392 182h0M399 183h0M402 187h0M409 188h0M402 192h0M397 194h0M393 201h0M392 200h0M392 209h0M390 211h0M391 215h0M387 224h0M387 229h0M392 229h0M391 236h0M393 241h0M401 241h0M405 243h0M412 242h0M415 239h0M417 238h0M426 233h0M429 232h0M435 231h0M437 229h0M441 225h0M447 228h0M453 223h0M456 224h0M461 222h0M466 223h0M472 221h0M476 221h0M478 218h0M483 217h0M489 216h0M496 218h0M497 218h0M505 215h0M508 218h0M511 218h0M518 215h0M519 217h0M525 215h0M530 218h0M537 220h0M541 217h0M543 216h0M547 219h0M552 220h0M556 223h0M562 223h0M568 225h0M569 229h0M578 231h0M580 230h0M586 231h0M591 237h0M593 237h0M595 241h0M602 243h0M604 245h0M609 252h0M612 255h0M613 255h0M615 259h0M619 261h0M623 269h0M629 269h0M633 272h0M632 277h0M639 279h0M642 285h0M644 288h0M643 291h0M649 297h0M651 299h0M651 304h0M657 310h0M656 314h0M657 317h0M660 323h0M663 328h0M662 329h0M665 337h0M663 343h0M669 345h0M668 352h0M671 357h0M670 362h0M670 363h0M671 369h0M670 374h0M670 378h0M673 385h0M672 390h0M670 393h0M672 399h0M669 400h0M671 407h0M669 410h0M665 416h0M666 422h0M666 426h0M665 431h0M662 437h0M663 439h0M660 441h0M662 449h0M661 451h0M658 459h0M658 464h0M653 468h0M652 472h0M653 473h0M651 481h0M652 483h0M649 491h0M645 496h0M648 498h0M643 501h0M642 507h0M643 515h0M641 519h0M640 523h0M638 526h0M638 530h0M642 535h0M639 541h0M640 544h0M638 552h0M640 554h0M638 560h0M639 563h0M633 568h0M633 577h0M632 577h0M629 583h0M630 589h0M625 590h0M621 595h0M617 598h0M612 601h0M614 604h0M608 609h0M606 612h0M601 615h0M597 618h0M593 620h0M590 625h0M590 627h0M587 631h0M583 637h0M577 638h0M574 637h0M569 636h0M564 641h0M559 640h0M551 643h0M549 644h0M542 644h0M542 643h0M536 647h0M531 645h0M525 646h0M519 644h0M515 644h0M514 644h0M509 644h0M505 644h0M499 641h0M492 641h0M488 641h0M483 638h0M480 634h0M477 634h0M476 629h0M472 629h0M468 622h0M465 619h0M464 614h0M465 608h0M461 604h0M456 600h0M453 595h0M455 592h0M448 588h0M445 585h0M442 581h0M440 582h0M433 578h0M432 574h0M428 569h0M423 569h0M419 570h0M414 567h0M411 565h0M405 562h0M402 559h0M394 557h0M390 559h0M387 562h0M379 561h0M373 563h0M369 561h0M368 563h0M361 569h0M362 570h0M355 577h0M352 581h0M349 582h0M349 590h0M346 594h0M349 600h0M347 601h0M345 607h0M342 613h0M345 619h0M342 622h0M341 631h0M345 633h0M342 639h0M333 638h0M329 644h0M327 640h0M323 637h0M317 634h0M319 626h0M315 621h0M315 617h0M314 613h0M314 608h0M310 605h0M310 596h0M305 594h0M304 589h0M307 582h0M303 579h0M298 576h0M292 570h0M291 568h0M284 566h0M280 563h0M278 564h0M273 564h0M267 562h0M262 560h0M259 562h0M252 560h0M248 553h0M246 554h0M241 552h0M239 545h0M235 545h0M229 542h0M227 535h0M224 533h0M221 529h0M216 527h0M216 525h0M211 522h0M206 515h0M202 514h0M202 509h0M199 505h0M193 507h0M194 499h0M190 497h0M187 495h0M185 492h0M182 488h0M177 484h0M175 480h0M175 476h0M172 469h0M168 467h0M167 461h0M171 458h0M171 453h0M174 448h0M175 446h0M175 440h0M177 437h0M178 429h0M180 426h0M181 423h0M185 417h0M187 410h0M189 409h0M190 407h0M196 400h0M196 395h0M201 393h0M203 388h0M204 384h0M207 378h0M209 374h0M206 369h0M211 366h0M215 360h0M218 356h0M219 351h0M223 349h0M221 344h0M221 338h0M223 335h0M220 328h0M225 322h0M222 319h0M222 317h0M225 308h0M222 303h0M223 299h0M224 298h0M221 289h0M222 286h0M222 282h0M223 279h0M226 275h0M224 269h0M222 264h0M226 261h0M223 253h0M227 251h0M226 243h0M226 238h0M227 238h0M225 229h0M227 230h0M227 222h0M226 219h0M229 213h0M226 211h0M227 204h0M229 201h0M235 195h0M236 190h0M237 188h0M242 183h0M243 179h0M246 175h0M351 255h0M326 260h0M343 269h0M358 265h0M365 268h0M349 261h0M364 259h0M349 258h0M361 267h0M342 268h0M344 265h0M344 272h0M344 254h0M347 262h0M328 260h0M368 261h0M360 267h0M346 246h0M350 259h0M343 259h0M348 275h0M363 255h0M327 246h0M332 243h0M335 242h0M340 242h0M342 247h0M344 241h0M352 247h0M354 250h0M360 248h0M364 249h0M366 253h0M368 251h0M369 254h0M371 262h0M370 267h0M373 267h0M369 268h0M367 276h0M360 274h0M355 273h0M356 276h0M349 277h0M343 272h0M340 276h0M335 275h0M333 273h0M333 271h0M330 270h0M325 262h0M328 262h0M327 259h0M326 256h0M323 253h0M355 358h0M354 345h0M355 358h0M337 372h0M344 353h0M342 362h0M343 357h0M356 356h0M357 350h0M334 364h0M359 349h0M334 367h0M357 350h0M347 347h0M335 356h0M354 361h0M356 361h0M337 347h0M341 344h0M348 348h0M350 344h0M355 343h0M358 349h0M360 349h0M364 352h0M371 352h0M367 357h0M366 365h0M359 363h0M355 364h0M354 369h0M351 369h0M346 372h0M343 381h0M337 377h0M334 380h0M333 374h0M330 371h0M332 368h0M335 364h0M332 357h0M336 352h0M339 353h0M337 347h0M372 497h0M373 508h0M394 517h0M398 499h0M393 519h0M407 519h0M382 493h0M398 499h0M393 464h0M416 497h0M409 512h0M403 527h0M371 478h0M377 504h0M380 453h0M375 465h0M398 489h0M397 472h0M373 455h0M376 484h0M377 489h0M377 512h0M372 505h0M410 491h0M408 526h0M418 521h0M392 493h0M415 482h0M382 453h0M379 462h0M407 487h0M374 481h0M383 455h0M412 500h0M384 520h0M399 529h0M407 511h0M406 514h0M379 459h0M372 496h0M409 486h0M378 486h0M402 522h0M406 505h0M413 518h0M403 519h0M377 504h0M383 491h0M396 529h0M385 525h0M408 498h0M410 496h0M370 469h0M404 480h0M390 519h0M415 513h0M393 495h0M374 505h0M379 513h0M406 464h0M405 532h0M413 490h0M414 529h0M389 509h0M388 465h0M393 462h0M394 459h0M409 468h0M403 504h0M379 503h0M399 502h0M378 490h0M415 502h0M381 478h0M395 493h0M393 475h0M393 455h0M386 457h0M386 494h0M410 493h0M415 534h0M375 507h0M371 455h0M399 500h0M374 479h0M388 512h0M412 508h0M378 489h0M387 502h0M407 489h0M397 521h0M373 500h0M386 514h0M408 485h0M376 514h0M407 498h0M410 530h0M381 508h0M413 473h0M412 481h0M393 500h0M413 485h0M397 463h0M365 453h0M368 454h0M376 452h0M381 452h0M385 448h0M386 449h0M389 456h0M392 456h0M398 458h0M404 462h0M408 466h0M407 469h0M412 467h0M412 472h0M418 473h0M421 481h0M419 483h0M418 486h0M421 490h0M421 496h0M417 494h0M424 499h0M424 504h0M420 505h0M423 513h0M421 513h0M421 523h0M423 522h0M419 526h0M419 529h0M415 534h0M410 533h0M409 534h0M400 533h0M399 532h0M395 532h0M392 528h0M392 525h0M389 523h0M384 525h0M380 522h0M381 517h0M373 513h0M377 512h0M373 508h0M370 507h0M371 505h0M367 497h0M370 498h0M368 493h0M365 488h0M367 485h0M366 477h0M366 477h0M369 475h0M367 465h0M370 462h0M369 459h0M333 588h0M336 590h0M342 584h0M335 584h0M326 579h0M331 576h0M335 574h0M341 573h0M340 580h0M344 579h0M348 584h0M340 588h0M338 592h0M337 587h0M331 589h0M328 583h0M329 583h0M312 415h0M296 412h0M313 414h0M303 419h0M304 425h0M300 416h0M302 417h0M303 412h0M315 420h0M305 412h0M297 408h0M299 405h0M302 403h0M309 402h0M312 406h0M310 408h0M317 412h0M319 413h0M318 414h0M319 421h0M317 423h0M317 428h0M310 431h0M308 428h0M304 428h0M299 426h0M301 420h0M297 416h0M292 415h0M285 322h0M280 326h0M277 322h0M279 322h0M278 310h0M278 307h0M288 310h0M285 311h0M284 315h0M290 319h0M286 326h0M284 326h0M281 331h0M280 323h0M272 319h0M273 316h0M272 316h0M232 359h0M240 359h0M225 353h0M235 352h0M237 350h0M243 350h0M240 355h0M242 357h0M240 363h0M236 358h0M230 363h0M227 357h0M529 647h0M503 639h0M509 641h0M511 644h0M516 642h0M521 647h0M524 644h0M527 645h0M530 647h0M532 648h0M536 645h0M542 642h0M540 645h0M537 646h0M528 651h0M525 650h0M521 652h0M521 652h0M513 647h0M512 647h0M510 648h0M509 647h0M391 235h0M386 214h0M391 227h0M387 220h0M393 237h0M377 222h0M386 218h0M394 212h0M382 588h0M405 577h0M352 590h0M438 598h0M431 578h0M397 565h0M387 573h0M401 576h0M447 589h0M384 591h0M396 571h0M392 583h0M412 593h0M390 590h0M441 592h0M439 595h0M438 594h0M419 589h0M417 598h0M361 599h0M435 580h0M412 577h0M386 598h0M357 576h0M425 588h0M441 610h0M393 601h0M366 602h0M427 577h0M460 606h0M423 586h0M431 575h0M465 622h0M372 577h0M408 570h0M351 602h0M380 593h0M393 597h0M365 589h0M454 616h0M376 564h0M414 586h0M422 589h0M440 590h0M403 575h0M393 599h0M393 579h0M401 571h0M376 571h0M399 590h0M360 578h0M457 617h0M386 577h0M351 597h0M415 575h0M364 599h0M384 568h0" stroke-width="8.4" stroke-linecap="round" fill="none"/></g><g id="G_l2gl"><path d="M920 238h0M851 193h0M863 242h0M868 239h0M899 202h0M903 236h0M898 235h0M893 233h0M826 283h0M823 287h0M867 160h0M865 165h0M866 171h0M812 261h0M812 256h0M897 177h0M897 182h0M870 215h0M947 199h0M943 196h0M938 194h0M838 258h0M841 254h0M826 243h0M861 237h0M860 242h0M860 247h0M939 202h0M944 199h0M946 195h0M879 182h0M877 187h0M877 211h0M881 214h0M883 219h0M898 203h0M896 208h0M812 238h0M906 235h0M842 278h0M866 236h0M867 231h0M879 236h0M874 237h0M940 205h0M945 202h0M950 200h0M921 208h0M926 210h0M895 182h0M891 179h0M867 218h0M895 215h0M890 231h0M895 234h0M853 164h0M854 169h0M853 174h0M879 247h0M875 250h0M894 196h0M926 211h0M816 217h0M818 221h0M858 170h0M862 167h0M867 165h0M842 246h0M817 230h0M853 217h0M915 220h0M919 217h0M923 213h0M913 227h0M908 228h0M903 229h0M836 217h0M840 221h0M848 227h0M848 222h0M839 193h0M929 552h0M990 432h0M990 437h0M784 477h0M785 482h0M916 380h0M919 375h0M921 370h0M947 487h0M873 479h0M898 375h0M834 549h0M830 552h0M856 518h0M861 520h0M943 409h0M943 404h0M827 530h0M825 535h0M905 363h0M925 477h0M926 472h0M919 330h0M924 331h0M929 331h0M906 412h0M908 416h0M908 422h0M836 314h0M854 432h0M853 437h0M857 355h0M797 439h0M916 315h0M922 315h0M927 314h0M923 544h0M859 408h0M912 552h0M907 551h0M892 507h0M893 511h0M936 443h0M866 469h0M788 438h0M783 435h0M888 517h0M883 518h0M924 422h0M924 416h0M857 395h0M971 373h0M971 368h0M824 316h0M958 315h0M928 338h0M932 335h0M937 334h0M815 518h0M854 436h0M836 356h0M838 361h0M842 364h0M958 508h0M958 503h0M957 498h0M893 600h0M1000 395h0M998 390h0M998 385h0M777 494h0M772 492h0M819 540h0M821 545h0M818 549h0M923 288h0M775 405h0M770 406h0M765 405h0M920 376h0M916 373h0M914 368h0M986 350h0M982 354h0M868 368h0M916 543h0M922 543h0M846 376h0M840 375h0M824 522h0M881 384h0M780 413h0M780 419h0M988 349h0M995 426h0M903 483h0M781 450h0M777 447h0M939 509h0M934 510h0M884 292h0M889 291h0M898 369h0M900 364h0M908 470h0M913 472h0M906 412h0M906 407h0M904 402h0M851 527h0M855 530h0M960 378h0M956 381h0M820 512h0M816 508h0M819 423h0M822 428h0M822 457h0M823 452h0M793 448h0M792 453h0M788 457h0M980 452h0M983 457h0M879 536h0M896 611h0M890 585h0M891 580h0M894 575h0M959 365h0M957 360h0M861 359h0M854 325h0M799 422h0M802 426h0M801 372h0M797 369h0M972 424h0M888 397h0M882 315h0M877 317h0M780 449h0M965 479h0M791 493h0M795 496h0M798 500h0M957 431h0M902 392h0M907 393h0M794 442h0M799 441h0M804 442h0M895 489h0M947 495h0M943 498h0M939 501h0M934 475h0M929 478h0M926 482h0M881 372h0M876 375h0M872 377h0M910 498h0M914 500h0M967 410h0M811 428h0M807 431h0M860 344h0M861 326h0M857 329h0M937 471h0M885 521h0M889 524h0M944 429h0M945 434h0M855 474h0M997 361h0M997 366h0M985 380h0M922 580h0M965 493h0M969 490h0M973 487h0M966 340h0M969 336h0M790 476h0M787 480h0M840 505h0M915 588h0M912 593h0M942 408h0M937 409h0M777 499h0M780 494h0M779 489h0M955 528h0M950 528h0M945 529h0M837 374h0M840 378h0M947 350h0M943 354h0M978 481h0M982 484h0M982 490h0M870 544h0M867 548h0M864 552h0M989 393h0M913 365h0M937 375h0M937 370h0M940 366h0M802 351h0M797 352h0M935 552h0M817 447h0M812 445h0M954 351h0M868 510h0M814 503h0M816 508h0M961 509h0M957 512h0M956 517h0M855 378h0M897 559h0M964 344h0M966 349h0M970 406h0M844 516h0M889 390h0M895 389h0M879 449h0M875 452h0M862 553h0M793 461h0M789 464h0M833 443h0M830 447h0M825 449h0M846 323h0M803 361h0M798 364h0M796 369h0M862 416h0M863 559h0M868 558h0M873 559h0M822 540h0M845 490h0M843 495h0M843 501h0M802 449h0M804 453h0M806 458h0M931 515h0M826 363h0M789 390h0M785 387h0M819 539h0M824 536h0M793 460h0M798 458h0M935 355h0M792 453h0M790 448h0M850 335h0M915 512h0M916 453h0M921 454h0M823 406h0M826 402h0M956 321h0M961 319h0M966 316h0M857 497h0M856 502h0M858 507h0M936 456h0M931 455h0M926 455h0M809 335h0M814 333h0M862 408h0M857 409h0M852 412h0M774 474h0M774 479h0M892 437h0M896 439h0M900 443h0M963 388h0M861 395h0M860 390h0M777 439h0M775 444h0M893 611h0M892 602h0M888 600h0M954 503h0M953 508h0M953 513h0M890 349h0M895 350h0M898 355h0M818 327h0M810 355h0M815 356h0M922 360h0M926 356h0M929 353h0M910 382h0M907 378h0M810 391h0M785 487h0M779 486h0M929 447h0M941 543h0M936 544h0M849 377h0M851 372h0M820 355h0M977 359h0M906 596h0M908 601h0M892 578h0M994 359h0M997 371h0M1001 375h0M1003 380h0M979 401h0M985 402h0M973 345h0M899 548h0M957 429h0M960 433h0M867 455h0M871 458h0M874 462h0M968 360h0M874 365h0M956 519h0M794 479h0M794 474h0M796 469h0M910 424h0M907 420h0M853 520h0M894 356h0M828 506h0M797 367h0M795 362h0M795 406h0M790 408h0M900 449h0M902 453h0M907 388h0M902 389h0M952 341h0M957 340h0M925 376h0M921 380h0M874 413h0M870 416h0M928 593h0M821 507h0M823 511h0M945 398h0M942 394h0M937 391h0M968 444h0M851 394h0M771 433h0M868 561h0M941 520h0M932 547h0M921 337h0M917 333h0M782 443h0M892 566h0M897 568h0M800 391h0M923 484h0M809 511h0M813 514h0M809 501h0M804 499h0M808 448h0M803 451h0M864 347h0M868 344h0M812 483h0M788 444h0M810 471h0M768 464h0M811 445h0M794 457h0M789 495h0M797 487h0M801 438h0M782 461h0M776 484h0M807 492h0M776 478h0M782 409h0M817 433h0M806 498h0M809 457h0M783 451h0M803 458h0M820 482h0M772 431h0M766 471h0M798 442h0M796 438h0M782 495h0M804 499h0M784 438h0M788 489h0M789 476h0M793 504h0M812 451h0M820 448h0M794 505h0M788 472h0M804 483h0M796 420h0M792 418h0M810 449h0M791 406h0M793 444h0M813 491h0M808 497h0M793 491h0M779 454h0M766 447h0M807 481h0M784 457h0M783 438h0M773 417h0M796 414h0M785 441h0M806 442h0M786 431h0M819 456h0M773 487h0M800 420h0M794 463h0M806 442h0M788 491h0M783 497h0M817 492h0M816 446h0M822 459h0M785 421h0M793 492h0M775 420h0M785 444h0M817 431h0M781 462h0M791 417h0M822 464h0M796 454h0M813 457h0M779 447h0M793 451h0M783 427h0M796 486h0M802 506h0M806 424h0M772 438h0M791 442h0M779 413h0M798 474h0M815 424h0M833 546h0M835 520h0M830 522h0M877 524h0M845 535h0M882 545h0M887 545h0M884 526h0M879 523h0M860 526h0M862 529h0M859 525h0M872 521h0M864 543h0M808 516h0M814 516h0M932 549h0M936 546h0M942 546h0M881 547h0M847 532h0M888 523h0M883 524h0M903 536h0M908 539h0M902 527h0M903 522h0M907 518h0M852 547h0M845 535h0M848 546h0M828 545h0M827 550h0M897 516h0M896 521h0M892 524h0M866 515h0M847 545h0M895 537h0M891 549h0M888 553h0M930 530h0M920 525h0M918 521h0M898 545h0M898 540h0M893 533h0M888 536h0M886 541h0M808 525h0M805 529h0M812 514h0M902 536h0M900 540h0M825 539h0M922 555h0M922 550h0M921 545h0M853 551h0M848 552h0M893 553h0M896 549h0M898 544h0M825 535h0M884 532h0M886 537h0M881 557h0M930 542h0M841 516h0M844 521h0M911 548h0M877 531h0M885 526h0M880 525h0M1093 232h0M1117 295h0M1068 229h0M1210 345h0M1217 297h0M1213 300h0M1162 350h0M1166 353h0M1168 358h0M1170 595h0M1167 599h0M1094 519h0M1093 524h0M1055 275h0M1180 555h0M1152 422h0M1150 427h0M1000 298h0M998 303h0M1082 490h0M1147 388h0M1210 446h0M1035 550h0M1035 556h0M1132 294h0M999 398h0M994 398h0M990 402h0M1110 592h0M1106 595h0M1104 459h0M1100 462h0M1098 467h0M1183 452h0M1225 309h0M1223 305h0M1200 459h0M1198 454h0M1087 563h0M1087 558h0M1211 495h0M1146 632h0M1216 418h0M1082 298h0M1077 299h0M1226 387h0M1102 290h0M1099 294h0M1155 468h0M1150 468h0M1111 278h0M1114 281h0M1152 415h0M1154 420h0M1067 629h0M1151 555h0M1146 555h0M1141 554h0M1089 508h0M1092 504h0M1097 502h0M1028 532h0M1027 353h0M1032 354h0M1089 318h0M1000 395h0M995 393h0M1069 443h0M1111 417h0M1116 417h0M1091 354h0M1176 256h0M1144 591h0M1182 543h0M1177 542h0M1141 504h0M1136 502h0M1198 440h0M1196 445h0M997 271h0M997 276h0M998 281h0M1171 255h0M1103 295h0M1107 298h0M1112 298h0M1012 251h0M1016 250h0M1096 331h0M1091 329h0M1140 470h0M1057 351h0M1057 346h0M1055 341h0M1124 528h0M1120 524h0M1045 515h0M1200 422h0M1198 427h0M1068 244h0M1012 353h0M1016 357h0M1140 422h0M1110 473h0M1107 477h0M1123 501h0M1118 503h0M1101 329h0M1098 333h0M1101 390h0M1102 395h0M1100 400h0M1026 501h0M1022 504h0M1019 508h0M1074 394h0M1072 389h0M1073 384h0M1134 505h0M1129 506h0M1047 535h0M1165 396h0M1166 391h0M1099 605h0M1147 370h0M1150 375h0M1088 260h0M1033 461h0M1139 425h0M1143 429h0M1055 432h0M1052 428h0M1047 427h0M996 347h0M991 346h0M1105 256h0M1105 251h0M1144 331h0M1052 591h0M1144 500h0M1148 497h0M1086 613h0M1223 370h0M1223 365h0M1123 231h0M1128 231h0M1080 304h0M1081 299h0M1180 552h0M1175 555h0M1166 361h0M1105 615h0M1161 401h0M1158 396h0M1114 469h0M1110 467h0M1080 604h0M1085 606h0M1002 412h0M1064 495h0M1061 499h0M1057 503h0M1194 276h0M1116 375h0M1069 444h0M1064 442h0M1059 443h0M1121 284h0M1063 237h0M1005 334h0M1044 503h0M1048 499h0M1053 500h0M997 315h0M1087 508h0M1082 506h0M1073 364h0M1139 445h0M1157 398h0M1161 400h0M1113 547h0M1115 542h0M1127 517h0M1124 513h0M1033 337h0M1033 332h0M1023 352h0M1051 621h0M1047 625h0M1018 414h0M1021 419h0M1035 447h0M1040 449h0M1151 546h0M1097 246h0M1196 478h0M1201 476h0M1206 477h0M1166 252h0M1191 573h0M1187 570h0M1182 568h0M1192 345h0M1187 347h0M1013 296h0M1008 298h0M1070 313h0M1086 473h0M1081 475h0M1097 453h0M1044 324h0M1048 328h0M1197 401h0M1198 396h0M1090 226h0M1089 221h0M1158 359h0M1174 324h0M1094 243h0M1089 244h0M1215 394h0M1128 399h0M1123 397h0M1048 613h0M1051 618h0M1052 623h0M1140 307h0M1088 349h0M1093 461h0M1095 466h0M1037 338h0M1179 291h0M1177 296h0M1082 515h0M1052 255h0M1057 257h0M1106 567h0M1103 563h0M1121 639h0M1122 644h0M1125 649h0M1025 387h0M1089 605h0M1006 354h0M1074 384h0M1070 380h0M1163 276h0M1158 277h0M1154 281h0M1238 366h0M1239 371h0M1172 349h0M1121 435h0M1118 440h0M1116 444h0M1057 233h0M1062 235h0M1113 576h0M1118 578h0M1123 580h0M1034 562h0M1015 341h0M1091 516h0M1086 459h0M1029 513h0M1034 513h0M1021 412h0M1172 605h0M1228 443h0M1233 440h0M1154 269h0M1152 264h0M1152 259h0M1058 404h0M1063 404h0M1081 546h0M1079 541h0M1184 305h0M1180 303h0M1108 407h0M1095 252h0M1172 422h0M1177 421h0M1182 422h0M1037 234h0M1036 229h0M1136 594h0M1132 591h0M1093 327h0M1097 331h0M1172 492h0M1168 488h0M1147 440h0M1143 443h0M1138 444h0M1192 535h0M1188 532h0M1183 530h0M1133 364h0M1138 362h0M1002 271h0M1005 267h0M1216 469h0M1212 473h0M1165 338h0M1167 334h0M1089 460h0M1087 464h0M1160 243h0M1155 243h0M1235 391h0M1234 386h0M1201 412h0M1196 411h0M1213 356h0M1210 361h0M1205 363h0M1113 306h0M1109 303h0M1104 302h0M1120 610h0M1121 615h0M1124 619h0M1049 599h0M1140 502h0M1143 497h0M1135 510h0M1130 512h0M1126 514h0M1165 298h0M1163 294h0M1045 530h0M1056 534h0M1061 533h0M1066 531h0M1130 444h0M1134 441h0M1012 394h0M1104 414h0M1099 412h0M1096 409h0M1149 409h0M1096 610h0M1099 614h0M1103 616h0M1039 253h0M1152 374h0M1151 368h0M1124 573h0M1025 310h0M1092 524h0M1070 375h0M1068 370h0M1067 365h0M1060 622h0M1065 625h0M1069 627h0M1186 519h0M1187 524h0M1241 396h0M1244 392h0M1033 258h0M1035 262h0M1035 267h0M1032 494h0M1036 498h0M1122 488h0M1064 275h0M1061 270h0M1170 454h0M1175 454h0M1094 378h0M1146 323h0M1074 259h0M1070 261h0M1047 361h0M1048 356h0M1108 340h0M1180 325h0M1179 330h0M1101 349h0M1104 345h0M1109 342h0M1050 322h0M1159 427h0M1157 432h0M1056 302h0M1197 309h0M1221 368h0M1075 408h0M1242 371h0M1246 373h0M1072 523h0M1067 522h0M1122 509h0M1085 564h0M1009 247h0M1223 390h0M1225 395h0M1103 363h0M1099 359h0M1080 361h0M1072 497h0M1064 236h0M1069 236h0M1074 238h0M1004 320h0M1008 324h0M1137 570h0M1083 401h0M1094 343h0M1091 347h0M1017 485h0M1022 482h0M1053 392h0M1106 491h0M1074 582h0M1074 577h0M1071 573h0M1158 372h0M1117 331h0M1091 374h0M1093 379h0M1063 591h0M1059 595h0M1087 379h0M1242 381h0M1089 389h0M1084 390h0M1200 568h0M1205 569h0M1206 492h0M1203 496h0M1098 269h0M1094 265h0M1040 556h0M1035 556h0M1187 399h0M1192 398h0M1122 234h0M1118 230h0M1060 442h0M1056 445h0M1123 459h0M1089 291h0M1088 296h0M1075 398h0M1121 258h0M1119 253h0M1151 576h0M1155 578h0M1126 451h0M1170 551h0M1175 552h0M1058 358h0M1064 359h0M1069 360h0M1111 290h0M1114 287h0M1117 282h0M1178 386h0M1173 388h0M1168 388h0M1049 325h0M1094 489h0M1098 492h0M1000 274h0M999 279h0M1160 319h0M1185 439h0M1189 442h0M1194 445h0M998 402h0M993 401h0M1070 305h0M1132 388h0M1137 390h0M1071 299h0M1066 298h0M1061 301h0M1140 513h0M1008 300h0M1040 330h0M1036 326h0M1153 318h0M1149 533h0M1142 387h0M1090 626h0M1089 620h0M1088 615h0M1181 279h0M1121 294h0M1126 295h0M1084 360h0M1086 365h0M1146 414h0M1043 560h0M1048 561h0M1052 558h0M1072 367h0M1074 362h0M1075 357h0M1046 372h0M1043 377h0M1023 309h0M1022 304h0M1174 317h0M1173 312h0M1169 308h0M1023 528h0M1135 434h0M1136 439h0M1185 559h0M1180 560h0M1099 639h0M1129 365h0M1077 613h0M1073 616h0M1072 614h0M1073 609h0M1144 434h0M1145 440h0M1145 445h0M1171 562h0M1170 567h0M1168 572h0M1083 569h0M1079 573h0M1113 501h0M1194 389h0M1068 469h0M1072 472h0M1236 364h0M1231 365h0M1109 610h0M1110 615h0M1107 620h0M1150 408h0M1152 413h0M1156 416h0M1028 544h0M1030 540h0M1158 433h0M1126 343h0M1034 524h0M1031 528h0M1027 532h0M1180 429h0M1183 424h0M1043 409h0M1047 405h0M1050 401h0M1079 476h0M1082 472h0M1087 470h0M1049 536h0M1044 538h0M1040 540h0M1067 333h0M1072 335h0M1077 333h0M1017 381h0M1017 386h0M1016 391h0M1183 460h0M1158 269h0M1199 422h0M1196 417h0M1195 496h0M1195 501h0M1081 593h0M1036 466h0M1034 462h0M1100 249h0M1100 244h0M1099 239h0M1209 504h0M1212 508h0M1217 511h0M1183 590h0M1068 429h0M1232 375h0M1229 379h0M1124 459h0M1119 456h0M1144 310h0M1138 310h0M1057 381h0M1061 379h0M1066 377h0M1104 289h0M1066 338h0M1092 328h0M1087 330h0M1119 520h0M1119 525h0M1122 529h0M1032 487h0M1191 400h0M1196 398h0M1020 399h0M1016 395h0M992 310h0M996 312h0M1000 316h0M1116 501h0M1117 496h0M1114 492h0M1043 243h0M1041 248h0M1173 300h0M1178 300h0M1076 428h0M1070 425h0M1071 420h0M1045 424h0M1182 385h0M1094 433h0M1093 428h0M1092 423h0M1150 466h0M1145 468h0M1094 234h0M1090 237h0M1076 624h0M1155 487h0M1157 482h0M1152 524h0M1151 529h0M1015 270h0M1042 380h0M1031 448h0M1037 450h0M1041 534h0M1044 530h0M1079 241h0M1076 246h0M1169 376h0M1173 374h0M1175 369h0M1133 485h0M1005 332h0M1052 624h0M1047 622h0M1053 576h0M1092 322h0M1165 429h0M1167 424h0M1073 416h0M1071 411h0M1072 406h0M1049 565h0M1048 570h0M1078 328h0M1077 322h0M1080 318h0M1077 349h0M1080 344h0M1170 510h0M1175 507h0M1180 506h0M1138 520h0M1142 524h0M1084 498h0M1079 495h0M1228 329h0M1224 326h0M1010 282h0M1004 282h0M1000 279h0M1004 328h0M1002 333h0M997 336h0M1172 611h0M1172 606h0M1185 501h0M1180 499h0M1176 496h0M1121 617h0M1093 404h0M1033 370h0M1032 375h0M1034 380h0M1173 566h0M1138 540h0M1133 538h0M1130 533h0M1190 324h0M1195 321h0M1196 316h0M1148 458h0M1146 463h0M1213 418h0M1216 413h0M1043 348h0M1048 348h0M1164 457h0M1159 456h0M1022 275h0M1027 274h0M1086 357h0M1149 528h0M1154 526h0M1182 451h0M1188 452h0M1193 450h0M1080 593h0M1076 590h0M1045 576h0M1048 571h0M1163 446h0M1159 443h0M1155 628h0M1201 528h0M1118 493h0M1194 449h0M1194 432h0M1196 428h0M1203 586h0M1204 580h0M1203 575h0M1068 490h0M1136 324h0M1131 324h0M1126 327h0M1159 328h0M1162 324h0M1162 319h0M1009 326h0M1008 331h0M1129 333h0M1095 269h0M1098 273h0M1063 371h0M1062 376h0M1060 381h0M1069 562h0M1066 558h0M1159 373h0M1154 375h0M1149 375h0M1165 448h0M1162 452h0M1162 458h0M1100 513h0M1097 516h0M1084 315h0M1081 319h0M1062 556h0M1067 554h0M1072 554h0M1102 590h0M1142 329h0M1144 267h0M1139 269h0M1035 343h0M1035 349h0M1038 353h0M1213 339h0M1212 344h0M1101 512h0M1220 393h0M1079 514h0M1080 519h0M1143 357h0M1086 248h0M1120 354h0M1119 349h0M1165 526h0M1167 531h0M1168 311h0M1168 316h0M1086 346h0M1088 351h0M1087 356h0M1213 470h0M1210 466h0M1143 570h0M1139 566h0M1114 422h0M1113 417h0M1147 360h0M1220 322h0M1217 318h0M1161 430h0M1162 425h0M1164 421h0M1137 597h0M1139 602h0M1137 607h0M1074 422h0M1070 418h0M1106 246h0M1101 247h0M1129 322h0M1133 326h0M1133 331h0M1111 342h0M1232 413h0M1227 411h0M1194 554h0M1195 559h0M1196 565h0M1225 371h0M1223 376h0M1064 262h0M1064 267h0M1061 271h0M1072 612h0M1077 610h0M1199 477h0M1197 472h0M1199 467h0M1056 232h0M1154 247h0M1121 243h0M1125 248h0M1091 224h0M1060 235h0M1145 256h0M1053 234h0M1121 251h0M1070 220h0M1126 256h0M1145 248h0M1135 252h0M1078 242h0M1136 251h0M1138 249h0M1104 236h0M1145 264h0M1148 261h0M1091 238h0M1089 246h0M1060 243h0M1059 243h0M1093 235h0M1121 232h0M1102 236h0M1075 232h0M1159 259h0M1150 252h0M1069 221h0M1086 245h0M1104 246h0M1154 254h0M1146 253h0M1115 251h0M1122 259h0M1083 229h0M1099 230h0M1045 231h0M1094 226h0M1088 242h0M1084 249h0M1060 240h0M1147 261h0M1043 231h0M1039 230h0M1077 246h0M1062 226h0M1100 242h0M1108 235h0M1133 253h0M1147 252h0M1091 246h0M1076 222h0M1139 263h0M1104 225h0M1093 224h0M1073 250h0M1062 229h0M1076 230h0M1058 224h0M1064 225h0M1143 250h0M1104 249h0M1059 237h0M1127 263h0M1150 256h0M1122 256h0M1080 252h0M1099 257h0M1122 230h0M1099 241h0M1087 241h0M1109 252h0M1143 238h0M1083 235h0M1189 309h0M1184 311h0M1182 316h0M1191 320h0M1188 324h0M1187 329h0M1215 358h0M1216 422h0M1221 425h0M1209 356h0M1211 350h0M1214 347h0M1215 317h0M1220 316h0M1225 313h0M1185 367h0M1178 283h0M1205 411h0M1199 327h0M1200 332h0M1219 389h0M1215 392h0M1212 396h0M1199 331h0M1209 321h0M1205 325h0M1202 329h0M1205 287h0M1209 284h0M1209 356h0M1213 359h0M1234 353h0M1234 347h0M1217 361h0M1216 356h0M1185 300h0M1233 354h0M1228 354h0M1224 356h0M1180 335h0M1177 331h0M1181 314h0M1212 387h0M1206 354h0M1208 359h0M1212 362h0M1178 314h0M1180 319h0M1219 326h0M1218 344h0M1219 339h0M1216 332h0M1200 348h0M1207 381h0M1226 338h0M1229 342h0M1219 429h0M1224 428h0M1229 430h0M1201 390h0M1204 385h0M1208 382h0M1203 324h0M1222 387h0M1226 384h0M1231 382h0M1218 312h0M1217 307h0M1214 302h0M1212 404h0M1187 358h0M1218 357h0M1196 394h0M1193 399h0M1226 311h0M1223 316h0M1232 319h0M1229 323h0M1230 328h0M1196 362h0M1193 333h0M1188 332h0M1226 421h0M1228 426h0M1177 281h0M1173 285h0M1218 359h0M1223 360h0M1227 364h0M1185 360h0M1182 364h0M1179 368h0M1188 380h0M1184 377h0M1178 376h0M1015 395h0M1007 392h0M1030 389h0M1002 354h0M1029 359h0M999 380h0M1025 394h0M1026 381h0M1012 400h0M1008 373h0M1002 380h0M1025 376h0M1013 349h0M1027 382h0M1031 385h0M1028 363h0M1034 380h0M1019 369h0M1031 383h0M1020 382h0M1009 372h0M1026 394h0M1011 364h0M1019 374h0M1014 364h0M1012 400h0M1022 353h0M1005 368h0M1006 353h0M1028 375h0M1004 376h0M1024 395h0M1015 359h0M1000 381h0M1008 350h0M1019 387h0M1007 362h0M1005 395h0M1020 362h0M1012 361h0M1028 365h0M1011 400h0M1008 387h0M1034 364h0M1028 365h0M1005 387h0M1011 373h0M1007 382h0M1007 373h0M1007 383h0M1010 392h0M1010 399h0M1163 632h0M1093 618h0M1160 632h0M1158 617h0M1051 623h0M1148 630h0M1093 623h0M1071 620h0M1119 632h0M1082 629h0M1092 633h0M1143 618h0M1104 619h0M1059 621h0M1164 618h0M1144 636h0M1115 628h0M1165 622h0M1144 623h0M1133 642h0M1138 640h0M1130 633h0M1157 621h0M1099 628h0M1088 632h0M1155 625h0M1082 635h0M1053 616h0M1104 638h0M1116 622h0M1121 641h0M1072 630h0M1149 629h0M1112 623h0M1162 630h0M1125 640h0M1070 624h0M1113 617h0M1116 627h0M1159 622h0M1093 626h0M1152 634h0M1074 628h0M1059 625h0M1108 631h0M1070 617h0" stroke-width="8.4" stroke-linecap="round" fill="none"/></g><g id="B_l2gl"><path d="M1173 479h0M1072 508h0M1076 504h0M1089 321h0M1089 327h0M1128 389h0M1132 385h0M1136 382h0M1112 299h0M1110 304h0M1184 538h0M1181 533h0M1113 359h0M1109 363h0M1049 335h0M1054 333h0M1169 541h0M1167 546h0M1169 551h0M1091 461h0M1093 466h0M1039 477h0M1037 472h0M1096 465h0M1113 500h0M1112 495h0M1107 492h0M1064 423h0M1059 422h0M1125 520h0M1051 455h0M1052 449h0M1140 468h0M1142 473h0M1067 403h0M1070 408h0M1091 378h0M1089 374h0M1087 369h0M1030 478h0M1075 296h0M1080 299h0M1085 301h0M1113 423h0M1117 419h0M1087 527h0M1087 522h0M1045 514h0M1041 511h0M1081 364h0M1083 455h0M1082 373h0M1082 378h0M1085 382h0M1145 471h0M1145 476h0M1130 523h0M1106 315h0M1103 319h0M1105 523h0M1178 446h0M1096 473h0M1106 328h0M1177 483h0M1182 485h0M1184 490h0M1155 532h0M1157 527h0M1159 523h0M1093 296h0M1093 301h0M1081 479h0M1081 474h0M1124 532h0M1126 527h0M1072 477h0M1094 355h0M1097 351h0M1097 345h0M1143 544h0M1138 542h0M1118 351h0M1106 300h0M1104 305h0M1159 389h0M1161 384h0M1138 549h0M1097 426h0M1174 490h0M1136 433h0M1141 432h0M1145 429h0M1046 510h0M1046 505h0M1111 379h0M1155 559h0M1151 558h0M1091 412h0M1087 409h0M1083 303h0M1083 298h0M1126 374h0M1122 370h0M1120 365h0M1167 472h0M1172 472h0M1149 392h0M1145 395h0M1074 390h0M1074 395h0M1175 417h0M1169 417h0M1061 409h0M1091 372h0M1095 369h0M1056 518h0M1053 513h0M1183 535h0M1132 348h0M1130 430h0M1126 428h0M1109 366h0M1113 363h0M1117 379h0M1122 381h0M1125 386h0M1128 311h0M1081 461h0M1077 459h0M1072 456h0M1125 354h0M1120 354h0M1078 340h0M1073 425h0M1068 426h0M1066 523h0M1068 518h0M1072 514h0M1176 489h0M1171 491h0M1166 490h0M1073 478h0M1039 508h0M1036 512h0M1032 514h0M1117 501h0M1173 534h0M1099 454h0M1098 459h0M1095 464h0M1113 328h0M1118 325h0M1122 323h0M1069 442h0M1064 440h0M1060 437h0M1100 328h0M1105 329h0M1110 331h0M1044 315h0M1042 310h0M1126 473h0M1050 506h0M1042 313h0M1143 504h0M1063 349h0M1064 344h0M1124 483h0M1152 493h0M1083 413h0M1087 416h0M1063 367h0M1065 372h0M1056 308h0M1052 311h0M1091 542h0M1086 543h0M1146 357h0M1146 362h0M1089 521h0M1090 526h0M1092 531h0M1097 532h0M1109 530h0M1108 525h0M1152 396h0M1154 400h0M1123 336h0M1126 340h0M1123 330h0M1116 367h0M1086 411h0M1064 394h0M1152 535h0M1148 533h0M1143 530h0M1154 473h0M1100 486h0M1031 479h0M1035 483h0M1056 322h0M1170 543h0M1174 545h0M1179 546h0M1054 299h0M1115 296h0M1114 291h0M1114 286h0M1090 523h0M1086 526h0M1072 325h0M1075 330h0M1053 290h0M1050 286h0M1046 284h0M1130 555h0M1059 364h0M1081 317h0M1069 421h0M1064 423h0M1059 424h0M1178 433h0M1183 435h0M1166 423h0M1152 503h0M1070 448h0M1075 449h0M1086 552h0M1082 556h0M1138 413h0M1125 312h0M1129 316h0M1119 413h0M1115 563h0M1117 558h0M1116 553h0M1026 493h0M1031 490h0M1111 334h0M1078 480h0M1137 506h0M1140 373h0M1044 280h0M1048 277h0M1051 273h0M1091 289h0M1095 292h0M1071 498h0M1069 503h0M1168 485h0M1167 490h0M1168 495h0M1106 538h0M1101 540h0M1089 521h0M1090 516h0M1090 510h0M1084 378h0M1078 379h0M1075 383h0M1129 442h0M1104 427h0M1103 432h0M1072 450h0M1073 398h0M1098 454h0M1093 456h0M1088 458h0M1180 486h0M1176 489h0M1176 495h0M1115 343h0M1116 338h0M1114 333h0M1152 350h0M1150 355h0M1074 396h0M1077 473h0M1120 482h0M1120 477h0M1167 445h0M1098 404h0M1103 497h0M1108 495h0M1023 479h0M1139 502h0M1141 507h0M1142 512h0M1151 385h0M1147 382h0M1138 464h0M1143 461h0M1147 458h0M1128 448h0M1132 444h0M1101 360h0M1081 321h0M1158 426h0M1158 431h0M1161 436h0M1061 543h0M1059 548h0M1058 384h0M1059 379h0M1089 510h0M1094 509h0M1126 514h0M1124 509h0M1166 376h0M1166 377h0M1167 372h0M1116 456h0M1117 461h0M1080 401h0M1130 555h0M1174 481h0M1110 443h0M1110 438h0M1106 434h0M1051 297h0M1049 292h0M1083 339h0M1045 517h0M1040 519h0M1139 436h0M1150 514h0M1132 557h0M1138 557h0M1135 386h0M1160 541h0M1158 546h0M1161 495h0M1166 493h0M1170 489h0M1059 527h0M1054 525h0M1175 497h0M1137 474h0M1143 474h0M1052 308h0M1056 304h0M1075 502h0M1071 506h0M1098 296h0M1146 493h0M1150 489h0M1149 484h0M1140 546h0M1135 545h0M1077 521h0M1068 535h0M1073 538h0M1077 540h0M1161 370h0M1166 370h0M1125 391h0M1120 393h0M1119 398h0M1160 474h0M1161 469h0M1061 303h0M1062 298h0M1107 309h0M1106 315h0M1107 320h0M1124 468h0M1186 543h0M1182 539h0M1178 536h0M1121 529h0M1125 532h0M1130 533h0M1125 463h0M1065 426h0M1156 414h0M1169 419h0M1167 414h0M1105 552h0M1097 508h0M1165 431h0M1166 426h0M1136 560h0M1137 565h0M1060 418h0M1065 421h0M1066 426h0M1036 496h0M1034 492h0M1081 307h0M1076 304h0M1156 482h0M1153 477h0M1149 474h0M1164 373h0M1167 368h0M1175 453h0M1170 451h0M1072 371h0M1072 366h0M1128 491h0M1130 487h0M1067 418h0M1072 482h0M1074 487h0M1091 501h0M1113 388h0M1108 387h0M1037 478h0M1079 487h0M1074 486h0M1138 528h0M1143 527h0M1146 522h0M1160 524h0M1083 344h0M1083 339h0M1034 510h0M1031 506h0M1101 437h0M1074 462h0M1080 462h0M1084 459h0M1158 540h0M1162 544h0M1107 448h0M1111 445h0M1115 442h0M1153 501h0M1089 523h0M1085 520h0M1080 520h0M1099 325h0M1104 323h0M1109 323h0M1117 358h0M1118 353h0M1103 359h0M1107 362h0M1118 549h0M1117 544h0M1083 386h0M1152 358h0M1128 415h0M1127 420h0M1128 440h0M1173 417h0M1172 422h0M1144 503h0M1058 387h0M1088 552h0M1083 553h0M1097 296h0M1102 298h0M1139 433h0M1088 490h0M1092 487h0M1094 482h0M1173 404h0M1171 409h0M1051 286h0M1055 284h0M1138 538h0M1139 555h0M1134 558h0M1129 558h0M1122 382h0M1137 487h0M1103 500h0M1098 502h0M1123 304h0M1117 362h0M1119 366h0M1117 371h0M1167 431h0M1172 453h0M1176 456h0M1179 460h0M1087 414h0M1081 433h0M1076 434h0M1113 469h0M1135 384h0M1138 380h0M1165 394h0M1091 505h0M1091 510h0M1154 470h0M1049 311h0M1052 306h0M1052 301h0M1115 562h0M1052 516h0M1054 512h0M1079 504h0M1082 501h0M1087 498h0M1129 541h0M1131 536h0M1131 531h0M1136 473h0M1132 477h0M1131 482h0M1125 369h0M1130 368h0M923 312h0M915 321h0M950 319h0M926 317h0M933 288h0M960 304h0M950 314h0M937 311h0M952 308h0M928 304h0M936 302h0M957 306h0M950 307h0M947 303h0M932 312h0M956 300h0M948 311h0M928 328h0M942 289h0M955 306h0M955 310h0M956 287h0M916 315h0M929 310h0M950 307h0M928 328h0M933 304h0M939 284h0M940 312h0M922 316h0M959 296h0M931 306h0M921 296h0M919 307h0M928 295h0M924 307h0M935 309h0M930 291h0M928 326h0M959 287h0M942 290h0M921 305h0M956 309h0M939 298h0M925 323h0M932 323h0M928 303h0M956 306h0M931 312h0M936 297h0M933 303h0M929 300h0M937 324h0M947 283h0M955 298h0M978 264h0M980 280h0M977 276h0M947 270h0M945 265h0M963 277h0M965 272h0M951 269h0M953 264h0" stroke-width="8.4" stroke-linecap="round" fill="none"/></g><g id="P_l2gl"><path d="M850 531h0M835 498h0M898 530h0M901 526h0M863 524h0M825 482h0M824 492h0M794 496h0M870 512h0M866 514h0M842 516h0M843 521h0M775 456h0M819 544h0M814 544h0M810 547h0M872 516h0M772 486h0M773 481h0M868 511h0M867 506h0M867 501h0M846 518h0M771 479h0M770 474h0M898 521h0M900 516h0M872 515h0M869 520h0M871 516h0M767 475h0M771 472h0M834 552h0M805 531h0M807 535h0M880 514h0M882 519h0M887 528h0M886 522h0M883 519h0M889 534h0M886 538h0M820 505h0M824 508h0M805 510h0M768 448h0M772 445h0M785 457h0M868 550h0M773 447h0M858 529h0M823 503h0M764 458h0M770 459h0M859 506h0M795 465h0M800 466h0M805 467h0M839 490h0M838 495h0M835 499h0M807 471h0M803 469h0M805 537h0M767 454h0M841 529h0M839 534h0M835 537h0M819 497h0M818 492h0M830 533h0M904 539h0M900 542h0M895 542h0M894 536h0M893 541h0M801 520h0M892 534h0M897 536h0M902 535h0M822 540h0M833 484h0M829 486h0M824 489h0M830 534h0M774 471h0M777 467h0M906 538h0M911 538h0M788 475h0M793 474h0M877 546h0M872 543h0M867 544h0M867 523h0M812 487h0M890 539h0M889 544h0M836 483h0M803 486h0M855 528h0M832 486h0M827 488h0M798 487h0M793 489h0M872 521h0M870 516h0M847 550h0M845 555h0M841 557h0M989 342h0M994 341h0M998 333h0M999 328h0M977 326h0M979 321h0M984 319h0M1034 303h0M1030 300h0M945 370h0M948 365h0M947 360h0M968 334h0M964 330h0M971 347h0M968 352h0M967 357h0M1054 292h0M1051 288h0M984 339h0M981 335h0M975 321h0M979 318h0M1009 300h0M993 295h0M992 300h0M993 305h0M919 397h0M914 395h0M965 344h0M971 344h0M933 383h0M996 340h0M934 393h0M936 388h0M923 388h0M924 393h0M1006 307h0M1006 302h0M1008 297h0M992 344h0M998 343h0M997 324h0M1002 326h0M941 394h0M937 390h0M933 387h0" stroke-width="8.4" stroke-linecap="round" fill="none"/></g><g id="G_nicd"><path d="M1309.4 462.6C1308.8 452.9 1311 434.1 1315.8 423.9C1320.6 413.7 1329.2 407.7 1338.4 401.3C1347.5 394.8 1358.3 389.5 1370.6 385.2C1383 380.9 1403.4 378.7 1412.6 375.5C1421.7 372.3 1420.6 370.6 1425.5 365.8C1430.3 361 1434.1 354 1441.6 346.5C1449.1 338.9 1463.7 329.2 1470.6 320.6C1477.6 312 1476 301.8 1483.5 294.8C1491.1 287.8 1507.2 283.5 1515.8 278.7C1524.4 273.9 1528.7 270.1 1535.2 265.8C1541.6 261.5 1547 256.1 1554.5 252.9C1562 249.7 1572.8 249.7 1580.3 246.5C1587.8 243.2 1591.6 237.3 1599.7 233.5C1607.7 229.8 1620.1 226 1628.7 223.9C1637.3 221.7 1642.2 221.7 1651.3 220.6C1660.4 219.6 1673.9 216.9 1683.5 217.4C1693.2 218 1699.7 220.6 1709.4 223.9C1719 227.1 1733.5 231.9 1741.6 236.8C1749.7 241.6 1751.3 246.5 1757.7 252.9C1764.2 259.4 1774.4 268.5 1780.3 275.5C1786.2 282.5 1790 287.3 1793.2 294.8C1796.5 302.4 1796.5 313.1 1799.7 320.6C1802.9 328.2 1808.8 332.5 1812.6 340C1816.3 347.5 1821.2 356.1 1822.3 365.8C1823.3 375.5 1820.6 387.3 1819 398.1C1817.4 408.8 1814.2 421.7 1812.6 430.3C1811 438.9 1810.4 441.6 1809.4 449.7C1808.3 457.7 1807.7 468.5 1806.1 478.7C1804.5 488.9 1801.3 500.2 1799.7 511C1798.1 521.7 1798.1 532.5 1796.5 543.2C1794.8 554 1793.8 566.3 1790 575.5C1786.2 584.6 1779.2 591.1 1773.9 598.1C1768.5 605.1 1764.2 611.5 1757.7 617.4C1751.3 623.3 1743.2 629.8 1735.2 633.5C1727.1 637.3 1719 638.9 1709.4 640C1699.7 641.1 1686.2 641.1 1677.1 640C1668 638.9 1662.6 636.8 1654.5 633.5C1646.5 630.3 1636.8 625.5 1628.7 620.6C1620.6 615.8 1614.2 608.3 1606.1 604.5C1598.1 600.8 1590 599.1 1580.3 598.1C1570.6 597 1557.7 598.6 1548.1 598.1C1538.4 597.5 1528.7 598.6 1522.3 594.8C1515.8 591.1 1514.7 579.2 1509.4 575.5C1504 571.7 1496.5 573.3 1490 572.3C1483.5 571.2 1477.1 569 1470.6 569C1464.2 569 1457.2 573.3 1451.3 572.3C1445.4 571.2 1440.5 565.3 1435.2 562.6C1429.8 559.9 1427.1 559.9 1419 556.1C1411 552.4 1396.5 545.9 1386.8 540C1377.1 534.1 1369 527.1 1361 520.6C1352.9 514.2 1345.4 507.7 1338.4 501.3C1331.4 494.8 1323.9 488.4 1319 481.9C1314.2 475.5 1309.9 472.3 1309.4 462.6Z" stroke="none"/><path d="M1386.8 469C1390.5 464.7 1405.1 461.5 1412.6 462.6C1420.1 463.7 1429.2 469.6 1431.9 475.5C1434.6 481.4 1433 493.8 1428.7 498.1C1424.4 502.4 1412.6 502.9 1406.1 501.3C1399.7 499.7 1393.2 493.8 1390 488.4C1386.8 483 1383 473.3 1386.8 469Z" fill="#fff" stroke="none"/><path d="M1444.8 462.6C1449.7 458.8 1463.1 457.2 1470.6 459.4C1478.2 461.5 1487.8 469.6 1490 475.5C1492.2 481.4 1488.4 491.1 1483.5 494.8C1478.7 498.6 1468 500.2 1461 498.1C1454 495.9 1444.3 487.8 1441.6 481.9C1438.9 476 1440 466.3 1444.8 462.6Z" fill="#fff" stroke="none"/><path d="M1499.7 481.9C1504 478.7 1515.3 478.7 1522.3 481.9C1529.2 485.2 1539.5 494.8 1541.6 501.3C1543.8 507.7 1540 518 1535.2 520.6C1530.3 523.3 1519 520.6 1512.6 517.4C1506.1 514.2 1498.6 507.2 1496.5 501.3C1494.3 495.4 1495.4 485.2 1499.7 481.9Z" fill="#fff" stroke="none"/><path d="M1428.7 511C1434.1 506.7 1449.7 505.6 1457.7 507.7C1465.8 509.9 1474.9 517.4 1477.1 523.9C1479.2 530.3 1476 542.2 1470.6 546.5C1465.3 550.8 1452.4 551.8 1444.8 549.7C1437.3 547.5 1428.2 540 1425.5 533.5C1422.8 527.1 1423.3 515.3 1428.7 511Z" fill="#fff" stroke="none"/><path d="M1483.5 530.3C1486.2 524.9 1502.4 524.9 1509.4 527.1C1516.3 529.2 1524.4 537.8 1525.5 543.2C1526.6 548.6 1521.2 556.7 1515.8 559.4C1510.4 562 1498.6 564.2 1493.2 559.4C1487.8 554.5 1480.9 535.7 1483.5 530.3Z" fill="#fff" stroke="none"/><path d="M1535.2 540C1539.5 536.2 1552.9 534.1 1557.7 536.8C1562.6 539.5 1565.8 551.3 1564.2 556.1C1562.6 561 1553.4 565.3 1548.1 565.8C1542.7 566.3 1534.1 563.7 1531.9 559.4C1529.8 555.1 1530.9 543.8 1535.2 540Z" fill="#fff" stroke="none"/><path d="M1361 488.4C1363.1 484.6 1376.6 485.2 1380.3 488.4C1384.1 491.6 1385.7 504 1383.5 507.7C1381.4 511.5 1371.2 514.2 1367.4 511C1363.7 507.7 1358.8 492.2 1361 488.4Z" fill="#fff" stroke="none"/><path d="M1515.8 320.6C1519 315.8 1531.4 316.3 1535.2 320.6C1538.9 324.9 1541.6 341.6 1538.4 346.5C1535.2 351.3 1519.6 354 1515.8 349.7C1512 345.4 1512.6 325.5 1515.8 320.6Z" fill="#fff" stroke="none"/><path d="M1561 281.9C1564.2 279.8 1577.1 279.8 1580.3 281.9C1583.5 284.1 1583.5 292.7 1580.3 294.8C1577.1 297 1564.2 297 1561 294.8C1557.7 292.7 1557.7 284.1 1561 281.9Z" fill="#fff" stroke="none"/><path d="M1612.6 591.6C1615.8 589.5 1628.7 589.5 1631.9 591.6C1635.2 593.8 1635.2 602.4 1631.9 604.5C1628.7 606.7 1615.8 606.7 1612.6 604.5C1609.4 602.4 1609.4 593.8 1612.6 591.6Z" fill="#fff" stroke="none"/><path d="M1307 463h0M1310 458h0M1311 451h0M1312 448h0M1313 445h0M1312 440h0M1314 431h0M1315 430h0M1316 422h0M1317 423h0M1325 419h0M1326 417h0M1327 411h0M1333 406h0M1337 404h0M1340 400h0M1343 400h0M1347 396h0M1349 397h0M1352 395h0M1358 391h0M1362 388h0M1367 387h0M1368 385h0M1373 382h0M1379 381h0M1384 382h0M1388 379h0M1394 382h0M1400 379h0M1402 379h0M1408 376h0M1415 376h0M1417 373h0M1419 369h0M1428 368h0M1427 362h0M1431 358h0M1433 353h0M1440 350h0M1443 348h0M1446 342h0M1450 339h0M1453 339h0M1456 335h0M1459 329h0M1463 326h0M1467 322h0M1472 321h0M1473 316h0M1476 313h0M1477 307h0M1482 302h0M1483 301h0M1483 296h0M1487 294h0M1491 290h0M1497 291h0M1498 285h0M1505 283h0M1509 281h0M1510 280h0M1516 279h0M1519 277h0M1523 272h0M1530 273h0M1533 270h0M1537 265h0M1541 265h0M1542 262h0M1545 257h0M1548 257h0M1552 251h0M1558 251h0M1564 250h0M1568 250h0M1577 247h0M1579 249h0M1584 245h0M1588 243h0M1591 239h0M1596 236h0M1602 232h0M1605 234h0M1609 231h0M1615 226h0M1620 226h0M1623 225h0M1627 225h0M1631 223h0M1637 223h0M1641 224h0M1646 221h0M1653 222h0M1654 220h0M1661 220h0M1664 222h0M1671 220h0M1677 216h0M1679 217h0M1685 219h0M1687 217h0M1695 221h0M1697 224h0M1706 223h0M1708 222h0M1712 224h0M1717 228h0M1722 228h0M1727 231h0M1733 235h0M1739 233h0M1741 237h0M1747 238h0M1750 242h0M1749 247h0M1753 251h0M1760 251h0M1762 257h0M1762 261h0M1768 265h0M1770 266h0M1775 267h0M1778 270h0M1780 276h0M1781 278h0M1788 284h0M1789 285h0M1791 291h0M1791 296h0M1793 300h0M1794 304h0M1799 309h0M1799 315h0M1797 321h0M1802 326h0M1807 326h0M1808 330h0M1809 335h0M1813 342h0M1813 343h0M1816 349h0M1816 354h0M1819 357h0M1822 360h0M1823 364h0M1824 372h0M1822 373h0M1821 380h0M1822 385h0M1817 387h0M1819 393h0M1818 397h0M1820 403h0M1818 406h0M1817 412h0M1814 417h0M1815 421h0M1816 425h0M1811 430h0M1810 437h0M1811 440h0M1810 443h0M1811 449h0M1807 456h0M1809 462h0M1807 465h0M1808 468h0M1807 474h0M1808 479h0M1804 481h0M1806 490h0M1805 490h0M1801 497h0M1802 504h0M1799 508h0M1798 513h0M1801 517h0M1800 519h0M1797 522h0M1796 529h0M1800 535h0M1798 537h0M1797 542h0M1795 550h0M1794 553h0M1794 558h0M1793 560h0M1792 565h0M1790 570h0M1792 573h0M1785 579h0M1785 583h0M1784 586h0M1780 591h0M1775 592h0M1773 600h0M1769 600h0M1769 605h0M1762 610h0M1760 615h0M1760 615h0M1752 618h0M1750 621h0M1747 626h0M1743 628h0M1740 632h0M1733 635h0M1728 634h0M1724 637h0M1721 640h0M1714 638h0M1707 639h0M1704 639h0M1702 640h0M1694 639h0M1691 639h0M1687 641h0M1683 639h0M1675 638h0M1672 641h0M1667 638h0M1662 639h0M1661 634h0M1657 632h0M1649 630h0M1644 629h0M1639 626h0M1635 624h0M1635 624h0M1629 619h0M1626 618h0M1620 613h0M1617 613h0M1613 611h0M1610 606h0M1605 602h0M1600 603h0M1597 603h0M1592 603h0M1586 597h0M1578 599h0M1573 597h0M1570 596h0M1565 596h0M1561 598h0M1557 597h0M1554 597h0M1549 600h0M1544 596h0M1538 597h0M1534 597h0M1526 597h0M1522 594h0M1518 593h0M1516 587h0M1516 583h0M1514 579h0M1511 575h0M1504 574h0M1500 572h0M1495 573h0M1490 570h0M1483 570h0M1479 572h0M1476 570h0M1469 567h0M1465 568h0M1463 570h0M1459 569h0M1451 575h0M1449 570h0M1441 568h0M1437 565h0M1436 560h0M1430 559h0M1426 556h0M1419 558h0M1414 556h0M1413 552h0M1405 551h0M1404 547h0M1397 548h0M1394 542h0M1392 543h0M1386 542h0M1382 538h0M1378 537h0M1373 533h0M1370 530h0M1370 528h0M1364 522h0M1360 519h0M1357 519h0M1351 514h0M1349 510h0M1348 506h0M1344 504h0M1337 499h0M1334 497h0M1331 497h0M1329 490h0M1326 488h0M1322 485h0M1320 480h0M1318 476h0M1317 473h0M1311 469h0M1412 485h0M1401 475h0M1404 480h0M1424 470h0M1419 475h0M1401 473h0M1394 485h0M1402 495h0M1419 467h0M1398 493h0M1408 499h0M1406 497h0M1422 497h0M1411 481h0M1425 497h0M1411 473h0M1409 497h0M1429 491h0M1406 501h0M1431 479h0M1403 496h0M1424 498h0M1426 485h0M1417 477h0M1391 477h0M1429 495h0M1410 485h0M1384 471h0M1389 466h0M1391 469h0M1396 465h0M1400 463h0M1406 466h0M1407 463h0M1416 462h0M1415 464h0M1420 466h0M1424 472h0M1422 471h0M1429 473h0M1435 476h0M1432 480h0M1429 481h0M1431 487h0M1427 492h0M1427 494h0M1429 500h0M1424 498h0M1422 500h0M1418 501h0M1416 502h0M1413 501h0M1406 502h0M1406 496h0M1398 493h0M1395 497h0M1393 493h0M1390 485h0M1392 482h0M1391 481h0M1388 480h0M1385 472h0M1462 460h0M1488 478h0M1447 466h0M1454 475h0M1468 479h0M1466 460h0M1473 483h0M1453 467h0M1475 494h0M1489 479h0M1473 495h0M1453 467h0M1456 494h0M1479 470h0M1460 474h0M1472 484h0M1478 476h0M1482 494h0M1462 473h0M1474 463h0M1452 470h0M1459 466h0M1453 489h0M1474 470h0M1477 480h0M1471 478h0M1480 472h0M1464 463h0M1477 466h0M1468 495h0M1457 473h0M1444 464h0M1449 462h0M1450 463h0M1458 462h0M1460 460h0M1465 458h0M1464 459h0M1468 462h0M1475 463h0M1473 464h0M1476 469h0M1478 465h0M1481 472h0M1485 475h0M1491 472h0M1486 483h0M1489 481h0M1486 490h0M1486 493h0M1484 495h0M1477 496h0M1476 495h0M1471 498h0M1469 494h0M1462 496h0M1458 498h0M1456 493h0M1453 490h0M1453 488h0M1452 492h0M1449 488h0M1443 485h0M1439 482h0M1444 477h0M1442 477h0M1443 468h0M1445 464h0M1536 514h0M1514 502h0M1505 508h0M1506 500h0M1516 513h0M1531 516h0M1536 512h0M1508 504h0M1532 507h0M1521 486h0M1509 483h0M1513 512h0M1520 501h0M1512 500h0M1511 508h0M1497 502h0M1514 488h0M1498 502h0M1538 503h0M1530 519h0M1501 494h0M1526 498h0M1517 504h0M1523 489h0M1525 493h0M1517 492h0M1535 507h0M1536 506h0M1496 483h0M1500 483h0M1505 483h0M1514 484h0M1515 482h0M1518 485h0M1523 479h0M1526 487h0M1529 484h0M1529 489h0M1535 491h0M1536 497h0M1537 502h0M1540 502h0M1539 503h0M1537 507h0M1541 511h0M1539 515h0M1537 522h0M1533 518h0M1527 518h0M1525 517h0M1520 518h0M1517 520h0M1510 521h0M1508 514h0M1506 509h0M1508 506h0M1503 503h0M1497 504h0M1493 502h0M1495 499h0M1499 491h0M1498 490h0M1496 486h0M1457 530h0M1432 525h0M1456 525h0M1455 518h0M1437 518h0M1463 540h0M1460 520h0M1440 530h0M1472 539h0M1455 517h0M1439 513h0M1444 537h0M1435 538h0M1452 534h0M1475 522h0M1452 513h0M1471 538h0M1456 541h0M1462 524h0M1451 529h0M1438 527h0M1431 523h0M1439 522h0M1439 527h0M1446 527h0M1447 549h0M1467 518h0M1459 527h0M1467 540h0M1437 538h0M1434 514h0M1472 521h0M1473 525h0M1441 512h0M1439 526h0M1430 509h0M1435 509h0M1437 509h0M1437 507h0M1440 508h0M1444 509h0M1447 509h0M1451 509h0M1459 508h0M1461 511h0M1462 512h0M1468 513h0M1471 520h0M1472 520h0M1477 520h0M1480 522h0M1473 531h0M1478 533h0M1472 534h0M1470 538h0M1475 540h0M1468 550h0M1470 548h0M1463 546h0M1462 549h0M1459 548h0M1451 545h0M1450 546h0M1448 546h0M1442 546h0M1437 546h0M1437 546h0M1430 542h0M1431 537h0M1427 539h0M1423 533h0M1428 533h0M1429 523h0M1425 526h0M1429 521h0M1428 512h0M1501 539h0M1489 545h0M1491 545h0M1519 543h0M1487 539h0M1492 549h0M1499 550h0M1488 538h0M1505 529h0M1503 540h0M1516 537h0M1500 548h0M1492 536h0M1509 551h0M1506 537h0M1491 539h0M1498 536h0M1508 550h0M1495 537h0M1493 557h0M1502 542h0M1516 543h0M1487 530h0M1488 533h0M1493 530h0M1492 527h0M1498 529h0M1501 525h0M1508 530h0M1510 529h0M1513 527h0M1513 529h0M1519 536h0M1517 535h0M1519 541h0M1527 543h0M1521 546h0M1524 547h0M1521 554h0M1517 559h0M1515 561h0M1510 563h0M1509 563h0M1504 558h0M1503 556h0M1498 557h0M1492 557h0M1492 554h0M1488 555h0M1491 551h0M1487 547h0M1487 544h0M1485 539h0M1486 533h0M1558 549h0M1537 548h0M1540 554h0M1537 542h0M1543 554h0M1551 556h0M1557 546h0M1547 561h0M1544 563h0M1541 543h0M1548 539h0M1535 542h0M1550 538h0M1558 557h0M1543 548h0M1534 543h0M1538 541h0M1540 540h0M1545 535h0M1554 541h0M1556 539h0M1556 537h0M1556 538h0M1558 547h0M1561 549h0M1564 549h0M1565 559h0M1561 558h0M1559 561h0M1553 563h0M1550 562h0M1546 569h0M1547 561h0M1541 565h0M1539 564h0M1530 561h0M1534 557h0M1532 551h0M1531 544h0M1532 547h0M1376 509h0M1381 501h0M1374 504h0M1367 501h0M1377 495h0M1366 493h0M1377 491h0M1382 501h0M1361 489h0M1363 492h0M1369 491h0M1370 490h0M1379 487h0M1378 489h0M1380 495h0M1384 497h0M1384 502h0M1386 506h0M1383 508h0M1378 507h0M1377 512h0M1371 514h0M1371 512h0M1369 506h0M1368 506h0M1367 500h0M1363 499h0M1360 493h0M1526 342h0M1532 345h0M1522 324h0M1519 324h0M1521 317h0M1523 319h0M1528 324h0M1528 317h0M1533 321h0M1537 323h0M1536 331h0M1537 334h0M1537 333h0M1537 336h0M1541 341h0M1537 343h0M1532 348h0M1528 347h0M1527 350h0M1520 352h0M1522 351h0M1517 352h0M1517 346h0M1513 345h0M1512 339h0M1514 336h0M1516 331h0M1515 331h0M1516 323h0M1569 290h0M1563 281h0M1565 283h0M1569 284h0M1571 283h0M1573 281h0M1579 282h0M1579 285h0M1578 289h0M1582 291h0M1576 297h0M1575 295h0M1565 293h0M1567 292h0M1558 292h0M1561 288h0M1558 288h0M1617 600h0M1615 594h0M1619 591h0M1623 590h0M1627 592h0M1631 593h0M1635 593h0M1635 594h0M1632 602h0M1633 605h0M1631 607h0M1627 603h0M1623 601h0M1616 605h0M1614 601h0M1615 601h0M1609 595h0M1421 260h0M1456 321h0M1445 300h0M1398 262h0M1423 303h0M1476 205h0M1451 273h0M1401 344h0M1410 350h0M1429 216h0M1407 364h0M1477 185h0M1454 229h0M1455 278h0M1420 253h0M1505 244h0M1457 212h0M1468 315h0M1470 308h0M1416 330h0M1537 191h0M1421 255h0M1402 284h0M1445 301h0M1479 252h0M1533 178h0M1424 194h0M1403 356h0M1473 198h0M1460 246h0M1429 222h0M1527 194h0M1479 200h0M1457 321h0M1382 288h0M1436 269h0M1496 257h0M1462 198h0M1516 257h0M1475 199h0M1412 362h0M1379 328h0M1405 232h0M1503 204h0M1492 233h0M1478 262h0M1404 183h0M1384 287h0M1429 260h0M1484 194h0M1463 185h0M1478 604h0M1491 625h0M1487 626h0M1475 627h0M1478 633h0M1490 620h0M1473 601h0M1490 642h0M1492 624h0M1481 631h0M1478 615h0M1478 616h0M1490 638h0M1488 613h0M1470 609h0M1487 621h0M1480 621h0M1474 628h0" stroke-width="8.4" stroke-linecap="round" fill="none"/></g><g id="B_nicd"><path d="M1699 382h0M1727 459h0M1646 336h0M1727 461h0M1683 292h0M1747 349h0M1705 518h0M1681 388h0M1647 377h0M1702 477h0M1662 434h0M1694 376h0M1729 486h0M1681 369h0M1700 455h0M1648 344h0M1704 365h0M1695 371h0M1624 543h0M1695 518h0M1740 489h0M1719 331h0M1621 370h0M1717 390h0M1676 300h0M1694 549h0M1728 495h0M1652 478h0M1654 416h0M1686 540h0M1707 532h0M1632 300h0M1722 410h0M1723 443h0M1629 367h0M1755 494h0M1671 529h0M1704 364h0M1669 391h0M1685 518h0M1744 403h0M1731 420h0M1762 479h0M1679 416h0M1630 449h0M1728 331h0M1682 441h0M1605 475h0M1616 449h0M1685 554h0M1742 412h0M1613 332h0M1742 364h0M1668 438h0M1612 525h0M1644 380h0M1637 531h0M1583 470h0M1636 514h0M1742 423h0M1595 452h0M1593 442h0M1614 458h0M1743 350h0M1624 519h0M1658 471h0M1584 470h0M1756 480h0M1694 419h0M1587 475h0M1676 360h0M1607 468h0M1649 344h0M1715 536h0M1769 413h0M1610 361h0M1641 377h0M1633 349h0M1657 330h0M1761 469h0M1652 466h0M1664 511h0M1685 532h0M1683 499h0M1766 460h0M1602 481h0M1636 373h0M1683 388h0M1713 493h0M1688 511h0M1709 319h0M1753 421h0M1613 426h0M1636 296h0M1712 533h0M1579 461h0M1616 314h0M1634 421h0M1747 353h0M1680 533h0M1700 360h0M1586 463h0M1592 450h0M1723 434h0M1683 487h0M1638 506h0M1730 435h0M1614 538h0M1628 324h0M1605 499h0M1699 298h0M1585 495h0M1673 431h0M1650 457h0M1753 359h0M1752 507h0M1757 369h0M1710 528h0M1713 495h0M1770 439h0M1603 413h0M1667 355h0M1736 332h0M1750 487h0M1703 326h0M1764 391h0M1604 504h0M1709 475h0M1744 434h0M1586 472h0M1713 494h0M1655 367h0M1650 489h0M1653 406h0M1720 322h0M1766 444h0M1750 531h0M1687 546h0M1688 439h0M1717 337h0M1615 440h0M1719 403h0M1734 445h0M1733 465h0M1629 322h0M1745 503h0M1660 410h0M1660 319h0M1694 405h0M1651 303h0M1580 508h0M1643 360h0M1600 491h0M1649 373h0M1748 463h0M1682 411h0M1670 318h0M1703 325h0M1692 482h0M1607 510h0M1742 501h0M1721 527h0M1722 384h0M1604 483h0M1646 408h0M1700 310h0M1651 448h0M1660 443h0M1634 504h0M1687 443h0M1734 320h0M1683 346h0M1728 511h0M1670 303h0M1625 448h0M1723 463h0M1706 476h0M1720 525h0M1748 503h0M1641 400h0M1640 408h0M1716 386h0M1659 476h0M1661 465h0M1691 458h0M1648 422h0M1667 459h0M1732 461h0M1687 516h0M1576 482h0M1721 519h0M1680 530h0M1662 416h0M1749 526h0M1678 488h0M1671 353h0M1685 383h0M1741 500h0M1713 435h0M1675 401h0M1705 424h0M1694 346h0M1720 469h0M1721 512h0M1639 299h0M1760 442h0M1673 405h0M1651 418h0M1672 477h0M1710 337h0M1660 528h0M1577 503h0M1649 306h0M1680 399h0M1731 514h0M1685 403h0M1745 371h0M1578 465h0M1642 342h0M1648 462h0M1620 492h0M1638 328h0M1637 401h0M1672 439h0M1710 538h0M1657 471h0M1665 490h0M1623 432h0M1699 401h0M1638 328h0M1729 513h0M1712 319h0M1754 370h0M1698 347h0M1592 457h0M1667 360h0M1715 385h0M1600 417h0M1633 296h0M1703 400h0M1707 428h0M1738 341h0M1582 495h0M1629 328h0M1600 513h0M1702 534h0M1661 500h0M1614 358h0M1646 292h0M1763 422h0M1681 355h0M1649 457h0M1676 339h0M1761 401h0M1681 526h0M1732 503h0M1758 389h0M1676 294h0M1680 350h0M1658 351h0M1610 478h0M1683 400h0M1680 298h0M1759 391h0M1701 347h0M1654 536h0M1674 344h0M1702 373h0M1586 506h0M1676 483h0M1611 531h0M1630 518h0M1751 480h0M1693 470h0M1621 458h0M1660 513h0M1644 419h0M1650 343h0M1626 506h0M1689 382h0M1727 531h0M1592 443h0M1659 287h0M1621 418h0M1603 525h0M1635 316h0M1723 441h0M1762 470h0M1651 345h0M1611 421h0M1662 523h0M1691 552h0M1610 402h0M1668 502h0M1750 498h0M1644 458h0M1623 334h0M1667 413h0M1665 458h0M1710 460h0M1590 526h0M1670 311h0M1623 536h0M1671 491h0M1675 546h0M1662 282h0M1759 391h0M1622 369h0M1741 358h0M1701 484h0M1704 392h0M1662 285h0M1626 379h0M1684 331h0M1721 520h0M1662 331h0M1734 373h0M1743 422h0M1638 413h0M1739 440h0M1653 534h0M1695 443h0M1729 429h0M1622 325h0M1738 436h0M1728 399h0M1648 441h0M1614 514h0M1721 367h0M1617 380h0M1668 312h0M1724 512h0M1697 374h0M1698 438h0M1721 458h0M1751 525h0M1638 338h0M1639 413h0M1613 450h0M1572 483h0M1699 413h0M1719 329h0M1750 376h0M1735 452h0M1627 529h0M1625 493h0M1730 414h0M1702 539h0M1747 354h0M1664 488h0M1585 503h0M1729 450h0M1626 473h0M1744 381h0M1591 460h0M1699 504h0M1740 410h0M1723 309h0M1692 297h0M1683 532h0M1594 510h0M1567 497h0M1693 462h0M1643 420h0M1610 324h0M1750 344h0M1719 361h0M1621 515h0M1733 529h0M1655 471h0M1739 341h0M1611 485h0M1674 483h0M1719 443h0M1701 459h0M1744 372h0M1638 409h0M1658 452h0M1664 489h0M1640 381h0M1741 381h0M1742 456h0M1660 364h0M1657 451h0M1762 429h0M1648 451h0M1732 497h0M1628 311h0M1691 537h0M1711 447h0M1714 495h0M1685 475h0M1662 524h0M1643 328h0M1637 304h0M1728 525h0M1722 472h0M1634 481h0M1728 416h0M1632 510h0M1621 404h0M1751 475h0M1721 455h0M1591 492h0M1714 379h0M1682 552h0M1637 402h0M1729 357h0M1616 513h0M1714 302h0M1698 352h0M1716 400h0M1624 395h0M1759 449h0M1610 518h0M1642 503h0M1620 518h0M1590 529h0M1649 413h0M1679 308h0M1610 362h0M1584 520h0M1650 371h0M1673 309h0M1711 338h0M1694 472h0M1580 472h0M1578 515h0M1749 474h0M1742 334h0M1723 362h0M1642 425h0M1752 389h0M1749 334h0M1619 425h0M1715 375h0M1569 514h0M1721 476h0M1714 538h0M1611 320h0M1690 448h0M1644 510h0M1587 527h0M1749 401h0M1708 452h0M1616 313h0M1638 498h0M1633 441h0M1668 500h0M1662 416h0M1762 408h0M1662 538h0M1615 349h0M1751 491h0M1691 457h0M1723 525h0M1592 467h0M1638 313h0M1661 338h0M1685 549h0M1616 328h0M1700 390h0M1664 478h0M1685 449h0M1647 495h0M1734 369h0M1713 320h0M1729 441h0M1686 470h0M1611 366h0M1746 424h0M1716 335h0M1764 473h0M1684 499h0M1616 372h0M1674 342h0M1735 395h0M1640 323h0M1584 466h0M1698 512h0M1591 500h0M1629 501h0M1677 344h0M1657 384h0M1636 447h0M1649 294h0M1656 488h0M1592 529h0M1711 528h0M1727 485h0M1752 394h0M1750 335h0M1718 537h0M1742 336h0M1759 451h0M1663 532h0M1623 423h0M1645 329h0M1651 384h0M1747 334h0M1723 497h0M1649 535h0M1668 400h0M1606 466h0M1703 349h0M1615 416h0M1620 519h0M1732 325h0M1691 531h0M1702 525h0M1691 305h0M1744 487h0M1645 391h0M1608 487h0M1708 478h0M1758 425h0M1688 514h0M1740 381h0M1670 479h0M1653 535h0M1724 308h0M1572 494h0M1743 332h0M1652 306h0M1695 339h0M1695 385h0M1646 467h0M1675 291h0M1670 350h0M1653 516h0M1746 358h0M1613 447h0M1672 535h0M1627 356h0M1633 342h0M1685 553h0M1700 444h0M1688 512h0M1712 366h0M1727 431h0M1614 521h0M1627 349h0M1769 452h0M1685 328h0M1723 341h0M1721 328h0M1615 443h0M1667 402h0M1647 308h0M1662 415h0M1672 455h0M1632 367h0M1754 475h0M1647 505h0M1584 458h0M1589 485h0M1647 509h0M1745 440h0M1651 402h0M1682 544h0M1695 376h0M1735 396h0M1586 475h0M1717 522h0M1698 373h0M1750 402h0M1608 328h0M1639 520h0M1706 509h0M1687 307h0M1702 317h0M1683 548h0M1715 546h0M1675 311h0M1694 400h0M1659 547h0M1691 426h0M1584 448h0M1723 406h0M1634 463h0M1699 489h0M1680 496h0M1702 493h0M1726 400h0M1673 372h0M1644 401h0M1737 391h0M1658 426h0M1611 449h0M1685 450h0M1625 498h0M1644 320h0M1611 433h0M1609 487h0M1609 534h0M1669 283h0M1751 436h0M1671 539h0M1686 442h0M1659 415h0M1666 391h0M1748 419h0M1634 310h0M1671 555h0M1691 535h0M1708 490h0M1744 323h0M1630 336h0M1735 409h0M1724 320h0M1719 518h0M1703 409h0M1569 480h0M1626 524h0M1679 543h0M1677 410h0M1668 305h0M1589 505h0M1630 369h0M1567 494h0M1648 536h0M1692 467h0M1620 315h0M1591 434h0M1674 355h0M1692 487h0M1740 391h0M1643 395h0M1610 527h0M1598 494h0M1584 496h0M1748 525h0M1626 475h0M1701 314h0M1739 364h0M1739 443h0M1617 522h0M1614 444h0M1749 349h0M1595 519h0M1631 368h0M1592 505h0M1693 347h0M1691 511h0M1731 507h0M1659 463h0M1696 407h0M1685 547h0M1687 418h0M1587 515h0M1661 459h0M1646 375h0M1749 379h0M1701 503h0M1654 398h0M1681 442h0M1668 309h0M1693 380h0M1664 467h0M1717 382h0M1696 326h0M1606 426h0M1651 371h0M1768 409h0M1590 439h0M1720 443h0M1622 312h0M1623 485h0M1649 444h0M1620 498h0M1671 524h0M1632 519h0M1646 359h0M1742 369h0M1659 317h0M1733 447h0M1609 511h0M1602 508h0M1758 513h0M1620 404h0M1601 472h0M1665 495h0M1625 382h0M1706 432h0M1717 460h0M1599 492h0M1633 460h0M1727 464h0M1698 465h0M1670 525h0M1657 473h0M1750 371h0M1727 436h0M1692 419h0M1690 441h0M1661 345h0M1653 440h0M1704 420h0M1737 497h0M1736 396h0M1636 472h0M1689 371h0M1697 437h0M1623 429h0M1708 427h0M1687 486h0M1729 339h0M1665 458h0M1619 401h0M1702 481h0M1625 518h0M1707 539h0M1727 517h0M1578 489h0M1739 402h0M1708 378h0M1719 359h0M1628 369h0M1616 387h0M1666 304h0M1714 320h0M1690 456h0M1705 504h0M1734 419h0M1599 459h0M1741 462h0M1696 477h0M1716 467h0M1725 504h0M1736 424h0M1671 333h0M1635 489h0M1642 548h0M1764 436h0M1765 427h0M1647 292h0M1667 549h0M1695 306h0M1619 430h0M1610 439h0M1594 500h0M1701 466h0M1679 548h0M1598 470h0M1657 444h0M1579 489h0M1663 535h0M1756 377h0M1765 463h0M1770 441h0M1655 384h0M1716 519h0M1604 449h0M1714 479h0M1694 497h0M1752 469h0M1607 350h0M1634 362h0M1696 405h0M1696 404h0M1627 404h0M1626 389h0M1746 360h0M1635 371h0M1592 447h0M1758 478h0M1637 348h0M1702 384h0M1744 516h0M1703 359h0M1644 451h0M1747 441h0M1658 451h0M1669 436h0M1613 461h0M1604 341h0M1745 518h0M1652 465h0M1726 321h0M1671 507h0M1668 424h0M1676 409h0M1647 511h0M1703 412h0M1662 360h0M1661 392h0M1616 478h0M1635 355h0M1656 438h0M1713 323h0M1687 330h0M1751 509h0M1716 467h0M1587 518h0M1739 410h0M1706 517h0M1665 542h0M1630 490h0M1719 342h0M1635 533h0M1674 403h0M1620 473h0M1647 358h0M1754 506h0M1708 414h0M1702 454h0M1609 326h0M1647 541h0M1684 482h0M1620 330h0M1638 455h0M1655 323h0M1667 355h0M1670 313h0M1653 512h0M1617 498h0M1662 431h0M1645 525h0M1609 337h0M1751 389h0M1610 388h0M1633 298h0M1628 459h0M1687 477h0M1581 515h0M1744 390h0M1678 396h0M1673 331h0M1735 336h0M1614 523h0M1680 513h0M1750 416h0M1604 471h0M1737 430h0M1707 444h0M1616 439h0M1682 435h0M1672 540h0M1676 396h0M1753 499h0M1610 461h0M1726 513h0M1651 526h0M1651 367h0M1649 536h0M1629 489h0M1630 313h0M1649 464h0M1603 483h0M1694 553h0M1740 342h0M1649 348h0M1640 350h0M1582 457h0M1719 384h0M1727 465h0M1659 458h0M1750 531h0M1733 314h0M1610 478h0M1735 334h0M1734 336h0M1754 395h0M1639 369h0M1637 515h0M1743 392h0M1707 454h0M1645 298h0M1632 382h0M1720 417h0M1699 397h0M1682 330h0M1678 390h0M1667 338h0M1582 502h0M1629 317h0M1719 370h0M1680 421h0M1702 390h0M1644 541h0M1655 458h0M1702 509h0M1578 472h0M1698 480h0M1682 390h0M1714 345h0M1586 443h0M1616 493h0M1597 495h0M1710 474h0M1681 508h0M1683 398h0M1666 417h0M1658 492h0M1601 523h0M1724 497h0M1673 348h0M1639 292h0M1744 369h0M1684 318h0M1669 549h0M1657 447h0M1653 330h0M1737 384h0M1666 490h0M1732 392h0M1665 438h0M1764 431h0M1602 413h0M1655 394h0M1751 472h0M1644 513h0M1682 342h0M1700 485h0M1704 365h0M1585 488h0M1633 402h0M1743 468h0M1680 330h0M1652 448h0M1680 552h0M1638 499h0M1728 439h0M1752 351h0M1655 437h0M1676 403h0M1685 411h0M1701 443h0M1625 392h0M1728 312h0M1664 458h0M1580 521h0M1670 445h0M1713 304h0M1737 410h0M1677 403h0M1764 432h0M1739 445h0M1674 284h0M1699 367h0M1753 448h0M1679 371h0M1632 506h0M1699 492h0M1629 309h0M1742 384h0M1627 349h0M1681 545h0M1677 462h0M1753 470h0M1682 417h0M1700 352h0M1639 342h0M1734 484h0M1687 332h0M1719 366h0M1725 312h0M1736 395h0M1637 421h0M1591 506h0M1646 327h0M1736 483h0M1658 320h0M1602 507h0M1730 498h0M1703 522h0M1699 362h0M1685 369h0M1610 467h0M1648 384h0M1623 390h0M1678 537h0M1603 415h0M1719 346h0M1745 423h0M1646 341h0M1674 374h0M1674 344h0M1756 445h0M1712 519h0M1666 423h0M1657 397h0M1716 338h0M1593 446h0M1660 404h0M1629 505h0M1641 487h0M1700 432h0M1673 391h0M1748 350h0M1655 546h0M1660 381h0M1673 335h0M1688 403h0M1715 340h0M1660 308h0M1593 432h0M1665 495h0M1711 320h0M1574 512h0M1654 555h0M1708 536h0M1761 411h0M1667 545h0M1652 350h0M1652 446h0M1722 355h0M1724 362h0M1644 305h0M1655 543h0M1679 393h0M1669 438h0M1729 443h0M1702 321h0M1744 361h0M1671 374h0M1655 383h0M1732 414h0M1612 420h0M1736 344h0M1611 490h0M1760 468h0M1582 461h0M1611 424h0M1639 522h0M1743 329h0M1703 553h0M1621 502h0M1628 306h0M1731 374h0M1705 475h0M1668 332h0M1712 465h0M1639 485h0M1636 382h0M1694 517h0M1681 406h0M1756 470h0M1697 509h0M1652 455h0M1648 421h0M1693 518h0M1761 421h0M1745 353h0M1612 520h0M1653 444h0M1642 540h0M1699 349h0M1680 490h0M1633 390h0M1593 496h0M1606 458h0M1606 435h0M1753 479h0M1579 492h0M1596 510h0M1671 520h0M1686 551h0M1749 465h0M1731 536h0M1607 346h0M1673 437h0M1756 402h0M1695 315h0M1688 332h0M1758 403h0M1635 305h0M1615 363h0M1608 509h0M1748 433h0M1675 301h0M1579 472h0M1708 355h0M1674 485h0M1682 357h0M1603 468h0M1701 317h0M1678 312h0M1687 354h0M1618 503h0M1684 493h0M1710 543h0M1677 383h0M1612 464h0M1581 487h0M1693 481h0M1625 418h0M1618 397h0M1690 429h0M1626 432h0M1663 375h0M1712 533h0M1656 474h0M1745 452h0M1688 342h0M1687 343h0M1663 341h0M1670 558h0M1762 402h0M1718 355h0M1738 411h0M1627 493h0M1615 338h0M1581 481h0M1667 360h0M1588 522h0M1744 347h0M1618 390h0M1590 440h0M1718 426h0M1636 360h0M1644 365h0M1730 403h0M1690 418h0M1687 428h0M1608 457h0M1606 409h0M1643 346h0M1599 485h0M1670 544h0M1677 344h0M1747 523h0M1665 406h0M1734 375h0M1670 294h0M1719 542h0M1741 413h0M1690 437h0M1633 522h0M1591 516h0M1645 301h0M1672 404h0M1713 517h0M1671 310h0M1620 537h0M1688 426h0M1700 433h0M1744 432h0M1591 483h0M1662 383h0M1733 398h0M1750 340h0M1615 520h0M1753 476h0M1598 430h0M1672 300h0M1739 474h0M1654 406h0M1673 359h0M1690 406h0M1665 543h0M1643 521h0M1758 426h0M1606 349h0M1609 346h0M1713 311h0M1643 305h0M1672 374h0M1717 459h0M1656 534h0M1599 475h0M1664 343h0M1671 461h0M1638 328h0M1655 468h0M1574 496h0M1602 436h0M1659 428h0M1672 453h0M1694 491h0M1717 352h0M1675 316h0M1671 523h0M1671 448h0M1669 333h0M1702 489h0M1650 546h0M1737 433h0M1707 492h0M1724 359h0M1654 474h0M1630 487h0M1662 527h0M1705 366h0M1628 421h0M1709 330h0M1693 375h0M1644 420h0M1586 501h0M1604 444h0M1751 449h0M1627 332h0M1693 322h0M1653 533h0M1651 530h0M1607 355h0M1716 395h0M1702 307h0M1682 456h0M1700 331h0M1733 396h0M1679 395h0M1650 361h0M1654 529h0M1692 475h0M1625 539h0M1765 435h0M1635 379h0M1733 340h0M1602 456h0M1594 466h0M1621 494h0M1644 391h0M1707 344h0M1711 330h0M1741 424h0M1747 352h0M1742 442h0M1615 359h0M1729 495h0M1572 474h0M1677 516h0M1621 388h0M1651 418h0M1698 527h0M1724 414h0M1716 342h0M1730 499h0M1758 374h0M1654 538h0M1622 517h0M1634 359h0M1622 464h0M1696 418h0M1638 391h0M1645 494h0M1628 448h0M1640 379h0M1611 525h0M1731 350h0M1728 338h0M1744 389h0M1703 314h0M1617 345h0M1678 371h0M1672 452h0M1751 470h0M1662 479h0M1745 358h0M1702 511h0M1730 350h0M1607 367h0M1596 502h0M1698 358h0M1646 435h0M1642 489h0M1729 416h0M1673 382h0M1608 355h0M1587 510h0M1715 501h0M1584 523h0M1686 500h0M1710 369h0M1658 320h0M1633 301h0M1679 549h0M1673 423h0M1702 412h0M1641 477h0M1756 415h0M1752 422h0M1623 373h0M1689 295h0M1684 387h0M1636 388h0M1630 322h0M1747 358h0M1742 349h0M1667 413h0M1702 418h0M1670 454h0M1608 451h0M1659 469h0M1718 530h0M1614 487h0M1640 508h0M1665 414h0M1733 501h0M1606 490h0M1741 534h0M1660 494h0M1641 310h0M1745 382h0M1697 525h0M1707 534h0M1701 347h0M1631 367h0M1633 523h0M1723 457h0M1612 367h0M1599 449h0M1711 484h0M1635 363h0M1643 296h0M1692 439h0M1607 329h0M1676 518h0M1657 502h0M1727 406h0M1662 377h0M1705 498h0M1699 379h0M1605 363h0M1619 416h0M1755 524h0M1644 532h0M1662 476h0M1701 405h0M1655 512h0M1627 342h0M1659 527h0M1599 470h0M1602 513h0M1748 402h0M1704 416h0M1660 422h0M1694 489h0M1656 454h0M1667 555h0M1574 509h0M1616 340h0M1678 511h0M1664 346h0M1740 454h0M1668 523h0M1686 397h0M1771 428h0M1728 435h0M1586 487h0M1626 525h0M1687 443h0M1621 317h0M1677 419h0M1600 457h0M1686 341h0M1761 455h0M1636 316h0M1670 318h0M1625 340h0M1748 350h0M1619 377h0M1731 377h0M1730 515h0M1671 347h0M1647 376h0M1757 436h0M1682 297h0M1672 516h0M1636 406h0M1733 333h0M1758 453h0M1680 481h0M1705 307h0M1684 332h0M1633 525h0M1677 539h0M1618 419h0M1718 423h0M1665 335h0M1640 445h0M1690 358h0M1695 392h0M1596 521h0M1598 460h0M1630 350h0M1632 358h0M1721 354h0M1630 463h0M1739 387h0M1718 315h0M1651 371h0M1691 345h0M1643 439h0M1749 342h0M1690 411h0M1708 304h0M1642 412h0M1616 353h0M1772 425h0M1743 462h0M1684 428h0M1720 423h0M1591 507h0M1646 436h0M1653 352h0M1743 414h0M1667 383h0M1703 452h0M1615 383h0M1738 440h0M1610 384h0M1594 517h0M1617 371h0M1742 372h0M1689 477h0M1728 392h0M1639 362h0M1725 543h0M1483 341h0M1525 336h0M1489 348h0M1553 290h0M1550 296h0M1488 352h0M1519 298h0M1515 318h0M1501 342h0M1512 337h0M1516 329h0M1498 305h0M1553 282h0M1500 303h0M1571 281h0M1574 273h0M1518 303h0M1505 343h0M1497 355h0M1487 359h0M1522 278h0M1559 279h0M1494 307h0M1512 290h0M1559 276h0M1521 332h0M1557 283h0M1537 287h0M1516 340h0M1524 276h0M1527 296h0M1528 281h0M1536 322h0M1548 297h0M1478 333h0M1556 274h0M1529 320h0M1561 279h0M1496 363h0M1545 291h0M1547 269h0M1514 291h0M1548 294h0M1497 342h0M1532 292h0M1538 273h0M1525 295h0M1566 283h0M1499 325h0M1555 294h0M1534 283h0M1505 330h0M1542 290h0M1522 312h0M1535 299h0M1557 282h0M1505 310h0M1510 287h0M1507 305h0M1509 300h0M1521 299h0M1512 292h0M1495 347h0M1539 277h0M1518 327h0M1521 332h0M1524 324h0M1496 344h0M1533 301h0M1532 307h0M1534 300h0M1507 304h0M1526 304h0M1510 340h0M1525 298h0M1545 268h0M1508 323h0M1501 307h0M1569 281h0M1536 306h0M1499 364h0M1501 337h0M1494 331h0M1503 362h0M1552 268h0M1509 294h0M1504 344h0M1571 278h0M1526 326h0M1508 307h0M1514 317h0M1552 297h0M1489 305h0M1503 335h0M1568 273h0M1531 290h0M1524 282h0M1521 289h0M1495 346h0M1537 325h0M1515 304h0M1533 316h0M1530 330h0M1509 321h0M1501 365h0M1496 330h0M1536 321h0M1570 414h0M1577 379h0M1563 392h0M1578 393h0M1566 386h0M1564 384h0M1576 364h0M1554 395h0M1560 400h0M1569 400h0M1563 418h0M1585 383h0M1568 385h0M1540 390h0M1575 418h0M1576 394h0M1568 372h0M1553 414h0M1584 373h0M1550 400h0M1576 352h0M1588 394h0M1582 366h0M1584 369h0M1583 347h0M1724 573h0M1676 576h0M1745 566h0M1668 566h0M1758 575h0M1706 586h0M1746 571h0M1667 575h0M1704 579h0M1748 596h0M1675 577h0M1706 573h0M1680 588h0M1696 582h0M1714 592h0M1760 550h0M1767 352h0M1787 353h0M1784 363h0M1771 303h0M1779 386h0M1783 314h0M1781 431h0M1774 331h0M1779 353h0M1780 427h0M1764 330h0M1775 334h0M1778 364h0M1776 322h0" stroke-width="8.4" stroke-linecap="round" fill="none"/></g><g id="P_nicd"><path d="M1321 435h0M1360 490h0M1419 564h0M1443 538h0M1367 430h0M1434 553h0M1411 543h0M1362 489h0M1421 564h0M1318 474h0M1335 418h0M1372 516h0M1314 449h0M1413 549h0M1350 415h0M1431 545h0M1369 483h0M1354 498h0M1321 432h0M1372 531h0M1322 451h0M1379 439h0M1372 471h0M1355 406h0M1319 426h0M1310 462h0M1364 466h0M1350 428h0M1337 470h0M1326 482h0M1377 514h0M1387 532h0M1364 511h0M1324 425h0M1334 496h0M1343 474h0M1317 485h0M1322 429h0M1362 408h0M1348 485h0M1317 455h0M1366 447h0M1324 479h0M1373 519h0M1370 423h0M1335 473h0M1390 522h0M1339 431h0M1378 420h0M1326 474h0M1409 558h0M1333 474h0M1343 439h0M1343 445h0M1347 414h0M1367 480h0M1343 419h0M1379 537h0M1323 432h0M1330 470h0M1321 453h0M1370 515h0M1418 538h0M1418 519h0M1370 431h0M1341 413h0M1333 489h0M1362 422h0M1395 508h0M1332 436h0M1370 420h0M1353 515h0M1331 437h0M1339 422h0M1319 439h0M1437 538h0M1366 500h0M1363 525h0M1320 467h0M1363 446h0M1383 503h0M1444 541h0M1356 476h0M1405 544h0M1389 497h0M1369 425h0M1311 457h0M1338 459h0M1372 506h0M1355 486h0M1353 491h0M1367 458h0M1354 490h0M1431 530h0M1379 485h0M1378 536h0M1347 490h0M1410 545h0M1380 521h0M1377 525h0M1318 468h0M1356 510h0M1401 525h0M1350 462h0M1331 490h0M1363 518h0M1379 436h0M1327 423h0M1339 419h0M1375 535h0M1418 552h0M1323 482h0M1439 561h0M1327 478h0M1430 539h0M1350 485h0M1361 413h0M1388 540h0M1359 474h0M1332 496h0M1373 420h0M1420 540h0M1355 513h0M1420 525h0M1356 424h0M1372 494h0M1391 551h0M1409 562h0M1364 498h0M1378 498h0M1443 540h0M1381 525h0M1390 511h0M1337 442h0M1345 476h0M1418 530h0M1356 493h0M1347 425h0M1442 532h0M1444 536h0M1342 453h0M1391 525h0M1380 421h0M1368 516h0M1325 482h0M1318 456h0M1395 502h0M1402 517h0M1355 446h0M1345 427h0M1410 550h0M1393 532h0M1342 487h0M1433 571h0M1353 422h0M1392 549h0M1397 506h0M1378 438h0M1367 472h0M1419 537h0M1375 437h0M1353 481h0M1434 547h0M1333 494h0M1368 449h0M1368 469h0M1376 424h0M1391 502h0M1378 486h0M1441 561h0M1420 566h0M1335 413h0M1438 568h0M1416 539h0M1364 514h0M1384 523h0M1393 549h0M1376 484h0M1330 435h0M1358 480h0M1351 470h0M1340 414h0M1339 428h0M1332 478h0M1333 470h0M1350 513h0M1383 544h0M1384 493h0M1359 519h0M1404 549h0M1390 508h0M1351 513h0M1372 505h0M1415 527h0M1347 473h0M1381 528h0M1407 541h0M1407 544h0M1422 569h0M1329 429h0M1402 506h0M1416 542h0M1334 488h0M1424 524h0M1319 445h0M1337 481h0M1356 480h0M1347 496h0M1427 534h0M1371 480h0M1366 466h0M1393 514h0M1338 423h0M1403 506h0M1332 432h0M1443 545h0M1320 446h0M1351 409h0M1389 531h0M1406 551h0M1369 492h0M1366 473h0M1367 513h0M1431 535h0M1415 509h0M1370 525h0M1371 431h0M1396 532h0M1317 445h0M1416 567h0M1336 457h0M1431 547h0M1340 432h0M1332 495h0M1377 530h0M1383 506h0M1377 428h0M1357 466h0M1375 508h0M1332 484h0M1434 533h0M1425 553h0M1368 437h0M1402 544h0M1312 447h0M1334 488h0M1432 566h0M1361 500h0M1439 542h0M1418 568h0M1315 477h0M1313 453h0M1386 535h0M1338 411h0M1382 494h0M1324 489h0M1348 450h0M1317 465h0M1380 534h0M1340 507h0M1361 496h0M1328 477h0M1408 515h0M1348 514h0M1426 546h0M1326 424h0M1408 515h0M1422 530h0M1357 463h0M1338 449h0M1396 519h0M1368 487h0M1374 514h0M1330 425h0M1315 461h0M1328 415h0M1308 459h0M1392 537h0M1355 423h0M1348 445h0M1328 460h0M1383 545h0M1351 488h0M1328 431h0M1324 467h0M1399 512h0M1353 515h0M1337 490h0M1398 546h0M1382 433h0M1377 534h0M1349 427h0M1330 443h0M1380 536h0M1358 490h0M1354 436h0M1393 534h0M1395 554h0M1415 516h0M1358 503h0M1372 430h0M1356 503h0M1430 520h0M1353 426h0M1373 525h0M1416 530h0M1364 450h0M1368 430h0M1351 497h0M1444 556h0M1418 528h0M1316 448h0M1422 548h0M1392 535h0M1422 554h0M1331 423h0M1438 524h0M1316 464h0M1340 420h0M1388 534h0M1395 529h0M1333 437h0M1372 496h0M1416 535h0M1380 524h0M1369 452h0M1352 489h0M1354 510h0M1436 526h0M1328 490h0M1384 503h0M1356 438h0M1396 514h0M1347 412h0M1434 565h0M1340 504h0M1332 454h0M1354 521h0M1354 483h0M1319 441h0M1347 481h0M1396 548h0M1324 424h0M1416 544h0M1369 464h0M1327 472h0M1419 527h0M1348 470h0M1357 426h0M1342 469h0M1357 462h0M1328 471h0M1349 510h0M1434 535h0M1386 500h0M1369 452h0M1373 470h0M1355 467h0M1383 427h0M1315 483h0M1434 525h0M1333 417h0M1344 479h0M1400 513h0M1343 444h0M1460 419h0M1620 300h0M1513 348h0M1554 324h0M1633 275h0M1427 419h0M1555 347h0M1514 338h0M1571 369h0M1500 371h0M1530 345h0M1628 286h0M1456 397h0M1494 400h0M1522 403h0M1508 395h0M1602 303h0M1619 286h0M1525 325h0M1541 376h0M1471 388h0M1471 382h0M1418 408h0M1513 351h0M1546 342h0M1439 414h0M1447 385h0M1527 394h0M1476 388h0M1456 400h0M1459 378h0M1589 312h0M1596 279h0M1413 427h0M1505 383h0M1478 372h0M1446 417h0M1457 397h0M1564 299h0M1513 354h0M1609 303h0M1502 362h0M1453 374h0M1459 406h0M1584 339h0M1550 350h0M1564 382h0M1583 290h0M1541 365h0M1491 370h0M1413 430h0M1528 373h0M1555 330h0M1505 383h0M1500 384h0M1419 405h0M1470 410h0M1560 357h0M1541 339h0M1666 259h0M1472 394h0M1518 326h0M1478 401h0M1461 402h0M1495 399h0M1634 277h0M1420 425h0M1591 279h0M1486 390h0M1535 338h0M1410 429h0M1573 293h0M1443 379h0M1513 383h0M1532 375h0M1629 273h0M1619 272h0M1472 366h0M1558 323h0M1578 360h0M1536 356h0M1441 385h0M1614 297h0M1606 272h0M1545 363h0M1416 424h0M1461 366h0M1444 402h0M1587 345h0M1483 381h0M1458 415h0M1530 369h0M1557 337h0M1535 331h0M1488 416h0M1599 292h0M1472 369h0M1508 390h0M1469 380h0M1522 353h0M1527 323h0M1632 277h0M1452 406h0M1525 399h0M1414 416h0M1508 343h0M1664 261h0M1498 394h0M1471 410h0M1643 277h0M1620 294h0M1557 339h0M1515 377h0M1490 375h0M1500 411h0M1624 297h0M1452 403h0M1599 325h0M1499 358h0M1575 365h0M1446 411h0M1482 359h0M1550 335h0M1577 321h0M1586 292h0M1555 368h0M1544 378h0M1485 403h0M1445 409h0M1520 344h0M1414 397h0M1394 426h0M1467 386h0M1527 372h0M1437 402h0M1537 358h0M1535 337h0M1586 345h0M1445 406h0M1511 334h0M1511 370h0M1465 383h0M1627 282h0M1519 379h0M1568 301h0M1647 264h0M1525 359h0M1538 325h0M1613 287h0M1499 414h0M1419 400h0M1562 371h0M1481 392h0M1459 410h0M1489 352h0M1594 326h0M1452 386h0M1580 302h0M1511 368h0M1414 424h0M1396 427h0M1492 388h0M1628 275h0M1586 294h0M1418 409h0M1478 374h0M1532 402h0M1400 411h0M1588 317h0M1618 288h0M1524 345h0M1506 349h0M1643 266h0M1564 337h0M1617 275h0M1401 430h0M1495 345h0M1547 387h0M1504 389h0M1526 332h0M1415 432h0M1421 406h0M1420 419h0M1571 374h0M1560 383h0M1513 339h0M1635 272h0M1557 315h0M1518 327h0M1551 341h0M1430 389h0M1653 265h0M1592 295h0M1436 395h0M1528 324h0M1548 391h0M1604 282h0M1529 402h0M1620 299h0M1536 322h0M1456 378h0M1478 416h0M1541 384h0M1485 393h0M1642 267h0M1481 406h0M1564 320h0M1515 358h0M1571 322h0M1658 262h0M1498 362h0M1511 349h0M1606 317h0M1397 428h0M1586 337h0M1532 403h0M1433 430h0M1505 410h0M1489 354h0M1547 317h0M1563 370h0M1486 369h0M1657 259h0M1533 365h0M1438 409h0M1530 403h0M1573 298h0M1472 380h0M1494 411h0M1573 339h0M1407 404h0M1579 296h0M1569 335h0M1604 307h0M1474 371h0M1430 396h0M1495 387h0M1623 286h0M1393 417h0M1414 430h0M1561 318h0M1584 314h0M1527 362h0M1571 331h0M1597 316h0M1532 353h0M1412 418h0M1553 376h0M1427 430h0M1461 409h0M1541 392h0M1408 430h0M1555 330h0M1613 304h0M1549 314h0M1611 269h0M1491 404h0M1594 335h0M1552 340h0M1483 520h0M1482 483h0M1499 484h0M1473 514h0M1467 448h0M1435 469h0M1491 561h0M1448 502h0M1480 506h0M1499 478h0M1468 468h0M1487 534h0M1485 500h0M1489 504h0M1457 510h0M1496 478h0M1446 488h0M1441 471h0M1471 482h0M1477 486h0M1493 526h0M1521 524h0M1485 483h0M1468 555h0M1484 479h0M1502 518h0M1453 528h0M1477 502h0M1458 460h0M1485 533h0M1457 541h0M1497 464h0M1480 467h0M1444 488h0M1438 465h0M1497 467h0M1484 543h0M1468 506h0M1513 510h0M1497 514h0M1432 462h0M1451 535h0M1449 485h0M1494 512h0M1493 523h0M1487 469h0M1486 494h0M1479 501h0M1517 506h0M1490 472h0M1499 563h0M1505 535h0M1464 484h0M1480 451h0M1476 498h0M1459 502h0M1451 506h0M1500 551h0M1451 473h0M1455 526h0M1464 472h0M1471 539h0M1505 495h0M1520 507h0M1496 558h0M1463 540h0M1508 562h0M1466 531h0M1447 468h0M1457 461h0M1443 488h0M1452 511h0M1518 499h0M1451 533h0M1486 553h0M1514 503h0M1499 560h0M1463 503h0M1452 498h0M1465 531h0M1427 470h0M1504 502h0M1473 496h0M1481 552h0M1466 503h0M1499 515h0M1430 483h0M1515 558h0M1471 548h0M1503 518h0M1455 456h0M1484 535h0M1438 475h0M1496 503h0M1472 480h0M1486 516h0M1500 541h0M1476 488h0M1479 531h0M1500 475h0M1500 572h0M1512 524h0M1436 500h0M1500 549h0M1443 524h0M1440 499h0M1504 538h0M1498 481h0M1486 475h0M1430 544h0M1371 482h0M1358 482h0M1382 489h0M1406 482h0M1405 479h0M1402 528h0M1371 482h0M1365 514h0M1403 491h0M1443 512h0M1374 489h0M1427 548h0M1420 498h0M1423 517h0M1426 500h0M1410 472h0M1366 507h0M1433 526h0M1404 474h0M1426 539h0M1419 516h0M1381 502h0M1404 524h0M1401 460h0M1437 550h0M1435 538h0M1433 534h0M1424 472h0M1438 507h0M1425 483h0M1393 523h0M1381 469h0M1358 503h0M1398 520h0M1402 526h0M1372 508h0M1433 517h0M1387 515h0M1425 522h0M1410 527h0M1365 477h0M1380 491h0M1402 469h0M1402 550h0M1418 510h0M1421 470h0M1365 476h0M1431 512h0M1359 466h0M1413 559h0M1414 525h0M1418 471h0M1391 470h0M1376 482h0M1412 501h0M1424 480h0M1423 552h0M1391 477h0M1393 477h0M1362 460h0M1418 544h0M1428 536h0M1439 538h0M1403 542h0M1369 474h0M1432 548h0M1392 477h0M1401 457h0M1417 552h0M1414 534h0M1380 488h0M1432 503h0M1392 531h0M1396 463h0M1373 456h0M1389 498h0M1430 511h0M1414 499h0M1367 512h0M1428 552h0M1423 557h0M1387 450h0M1387 474h0M1383 514h0M1435 496h0M1436 526h0M1385 527h0M1382 514h0M1371 501h0M1391 358h0M1382 363h0" stroke-width="8.4" stroke-linecap="round" fill="none"/></g><g id="GE_nicd"><path d="M1309.4 462.6C1308.8 452.9 1311 434.1 1315.8 423.9C1320.6 413.7 1329.2 407.7 1338.4 401.3C1347.5 394.8 1358.3 389.5 1370.6 385.2C1383 380.9 1403.4 378.7 1412.6 375.5C1421.7 372.3 1420.6 370.6 1425.5 365.8C1430.3 361 1434.1 354 1441.6 346.5C1449.1 338.9 1463.7 329.2 1470.6 320.6C1477.6 312 1476 301.8 1483.5 294.8C1491.1 287.8 1507.2 283.5 1515.8 278.7C1524.4 273.9 1528.7 270.1 1535.2 265.8C1541.6 261.5 1547 256.1 1554.5 252.9C1562 249.7 1572.8 249.7 1580.3 246.5C1587.8 243.2 1591.6 237.3 1599.7 233.5C1607.7 229.8 1620.1 226 1628.7 223.9C1637.3 221.7 1642.2 221.7 1651.3 220.6C1660.4 219.6 1673.9 216.9 1683.5 217.4C1693.2 218 1699.7 220.6 1709.4 223.9C1719 227.1 1733.5 231.9 1741.6 236.8C1749.7 241.6 1751.3 246.5 1757.7 252.9C1764.2 259.4 1774.4 268.5 1780.3 275.5C1786.2 282.5 1790 287.3 1793.2 294.8C1796.5 302.4 1796.5 313.1 1799.7 320.6C1802.9 328.2 1808.8 332.5 1812.6 340C1816.3 347.5 1821.2 356.1 1822.3 365.8C1823.3 375.5 1820.6 387.3 1819 398.1C1817.4 408.8 1814.2 421.7 1812.6 430.3C1811 438.9 1810.4 441.6 1809.4 449.7C1808.3 457.7 1807.7 468.5 1806.1 478.7C1804.5 488.9 1801.3 500.2 1799.7 511C1798.1 521.7 1798.1 532.5 1796.5 543.2C1794.8 554 1793.8 566.3 1790 575.5C1786.2 584.6 1779.2 591.1 1773.9 598.1C1768.5 605.1 1764.2 611.5 1757.7 617.4C1751.3 623.3 1743.2 629.8 1735.2 633.5C1727.1 637.3 1719 638.9 1709.4 640C1699.7 641.1 1686.2 641.1 1677.1 640C1668 638.9 1662.6 636.8 1654.5 633.5C1646.5 630.3 1636.8 625.5 1628.7 620.6C1620.6 615.8 1614.2 608.3 1606.1 604.5C1598.1 600.8 1590 599.1 1580.3 598.1C1570.6 597 1557.7 598.6 1548.1 598.1C1538.4 597.5 1528.7 598.6 1522.3 594.8C1515.8 591.1 1514.7 579.2 1509.4 575.5C1504 571.7 1496.5 573.3 1490 572.3C1483.5 571.2 1477.1 569 1470.6 569C1464.2 569 1457.2 573.3 1451.3 572.3C1445.4 571.2 1440.5 565.3 1435.2 562.6C1429.8 559.9 1427.1 559.9 1419 556.1C1411 552.4 1396.5 545.9 1386.8 540C1377.1 534.1 1369 527.1 1361 520.6C1352.9 514.2 1345.4 507.7 1338.4 501.3C1331.4 494.8 1323.9 488.4 1319 481.9C1314.2 475.5 1309.9 472.3 1309.4 462.6Z" stroke="none"/><path d="M1395.8 474.4C1398.1 471.8 1406.8 469.9 1411.3 470.5C1415.8 471.2 1421.3 474.7 1422.9 478.3C1424.5 481.8 1423.5 489.2 1421 491.8C1418.4 494.4 1411.3 494.7 1407.4 493.8C1403.5 492.8 1399.7 489.2 1397.7 486C1395.8 482.8 1393.5 477 1395.8 474.4Z" fill="#fff" stroke="none"/><path d="M1453 469C1455.9 466.8 1464 465.8 1468.5 467.1C1473 468.4 1478.8 473.2 1480.1 476.8C1481.4 480.3 1479.1 486.1 1476.2 488.4C1473.3 490.6 1466.9 491.6 1462.7 490.3C1458.5 489 1452.7 484.2 1451.1 480.6C1449.5 477.1 1450.1 471.3 1453 469Z" fill="#fff" stroke="none"/><path d="M1507 489.5C1509.6 487.5 1516.3 487.5 1520.5 489.5C1524.7 491.4 1530.9 497.2 1532.2 501.1C1533.4 504.9 1531.2 511.1 1528.3 512.7C1525.4 514.3 1518.6 512.7 1514.7 510.8C1510.9 508.8 1506.3 504.6 1505.1 501.1C1503.8 497.5 1504.4 491.4 1507 489.5Z" fill="#fff" stroke="none"/><path d="M1437.5 518.1C1440.8 515.5 1450.1 514.8 1454.9 516.1C1459.8 517.4 1465.3 521.9 1466.6 525.8C1467.8 529.7 1465.9 536.8 1462.7 539.4C1459.5 541.9 1451.7 542.6 1447.2 541.3C1442.7 540 1437.2 535.5 1435.6 531.6C1434 527.7 1434.3 520.6 1437.5 518.1Z" fill="#fff" stroke="none"/><path d="M1492.3 535.7C1493.9 532.5 1503.6 532.5 1507.8 533.8C1512 535.1 1516.8 540.3 1517.5 543.5C1518.1 546.7 1514.9 551.5 1511.7 553.2C1508.5 554.8 1501.4 556.1 1498.1 553.2C1494.9 550.3 1490.7 539 1492.3 535.7Z" fill="#fff" stroke="none"/><path d="M1540.1 544.6C1542.6 542.4 1550.7 541.1 1553.6 542.7C1556.5 544.3 1558.5 551.4 1557.5 554.3C1556.5 557.2 1551 559.8 1547.8 560.1C1544.6 560.5 1539.4 558.8 1538.1 556.3C1536.8 553.7 1537.5 546.9 1540.1 544.6Z" fill="#fff" stroke="none"/><path d="M1365.8 492.6C1367.1 490.3 1375.2 490.6 1377.4 492.6C1379.7 494.5 1380.6 501.9 1379.4 504.2C1378.1 506.5 1371.9 508.1 1369.7 506.1C1367.4 504.2 1364.5 494.8 1365.8 492.6Z" fill="#fff" stroke="none"/><path d="M1520 326.1C1521.9 323.2 1529.4 323.5 1531.6 326.1C1533.9 328.7 1535.5 338.7 1533.5 341.6C1531.6 344.5 1522.3 346.1 1520 343.5C1517.7 341 1518.1 329 1520 326.1Z" fill="#fff" stroke="none"/><path d="M1564.8 284.5C1566.8 283.2 1574.5 283.2 1576.5 284.5C1578.4 285.8 1578.4 291 1576.5 292.3C1574.5 293.5 1566.8 293.5 1564.8 292.3C1562.9 291 1562.9 285.8 1564.8 284.5Z" fill="#fff" stroke="none"/><path d="M1616.5 594.2C1618.4 592.9 1626.1 592.9 1628.1 594.2C1630 595.5 1630 600.6 1628.1 601.9C1626.1 603.2 1618.4 603.2 1616.5 601.9C1614.5 600.6 1614.5 595.5 1616.5 594.2Z" fill="#fff" stroke="none"/><path d="M1310 462h0M1309 458h0M1311 452h0M1309 449h0M1315 442h0M1313 436h0M1312 436h0M1313 429h0M1316 422h0M1320 421h0M1322 415h0M1326 415h0M1327 410h0M1334 408h0M1336 402h0M1339 401h0M1345 400h0M1346 399h0M1352 393h0M1352 395h0M1359 390h0M1360 388h0M1369 386h0M1372 386h0M1375 386h0M1379 381h0M1385 384h0M1391 380h0M1394 381h0M1398 378h0M1403 376h0M1407 375h0M1413 374h0M1418 373h0M1422 367h0M1425 367h0M1430 362h0M1434 360h0M1435 355h0M1437 351h0M1443 347h0M1448 341h0M1449 340h0M1451 338h0M1457 332h0M1461 331h0M1465 327h0M1468 325h0M1470 322h0M1475 315h0M1477 311h0M1479 310h0M1480 304h0M1482 298h0M1485 295h0M1490 291h0M1491 291h0M1494 291h0M1502 289h0M1503 286h0M1510 281h0M1513 280h0M1514 278h0M1521 277h0M1522 275h0M1526 272h0M1532 266h0M1534 268h0M1538 263h0M1542 262h0M1545 257h0M1551 256h0M1557 253h0M1558 251h0M1565 253h0M1571 249h0M1574 249h0M1582 248h0M1582 246h0M1591 240h0M1591 241h0M1596 235h0M1601 234h0M1604 233h0M1610 232h0M1612 231h0M1621 229h0M1622 226h0M1628 223h0M1631 222h0M1635 221h0M1644 221h0M1647 221h0M1654 221h0M1654 220h0M1661 222h0M1665 220h0M1672 217h0M1674 220h0M1680 220h0M1683 218h0M1691 219h0M1691 218h0M1701 221h0M1706 223h0M1708 222h0M1715 224h0M1721 229h0M1723 232h0M1730 231h0M1731 235h0M1737 233h0M1743 239h0M1745 238h0M1750 243h0M1749 249h0M1752 252h0M1759 254h0M1759 255h0M1766 257h0M1770 264h0M1769 266h0M1776 268h0M1775 275h0M1780 275h0M1782 281h0M1786 283h0M1789 287h0M1789 293h0M1791 296h0M1794 300h0M1797 306h0M1795 309h0M1798 315h0M1799 320h0M1801 324h0M1804 330h0M1807 334h0M1808 338h0M1813 341h0M1813 345h0M1816 350h0M1816 353h0M1819 358h0M1823 361h0M1821 367h0M1822 371h0M1823 376h0M1823 382h0M1819 385h0M1819 391h0M1820 395h0M1817 399h0M1817 401h0M1815 406h0M1815 413h0M1817 414h0M1814 420h0M1814 426h0M1814 430h0M1811 436h0M1810 438h0M1811 443h0M1809 451h0M1807 456h0M1808 462h0M1809 467h0M1805 467h0M1807 476h0M1807 476h0M1804 485h0M1804 487h0M1801 491h0M1801 496h0M1803 502h0M1802 508h0M1797 510h0M1801 517h0M1798 519h0M1798 525h0M1796 531h0M1799 532h0M1798 539h0M1797 545h0M1796 546h0M1794 553h0M1795 556h0M1792 564h0M1792 565h0M1788 570h0M1788 576h0M1788 579h0M1785 583h0M1780 589h0M1779 591h0M1779 595h0M1776 597h0M1772 603h0M1766 606h0M1763 612h0M1759 611h0M1755 617h0M1756 622h0M1752 625h0M1745 628h0M1743 628h0M1741 633h0M1733 634h0M1731 634h0M1727 636h0M1722 639h0M1712 637h0M1709 639h0M1706 639h0M1699 638h0M1696 639h0M1691 642h0M1684 638h0M1682 638h0M1677 639h0M1674 641h0M1670 635h0M1665 636h0M1657 633h0M1656 634h0M1650 630h0M1644 632h0M1640 629h0M1635 625h0M1631 621h0M1628 620h0M1625 616h0M1619 616h0M1617 612h0M1615 610h0M1608 605h0M1604 605h0M1600 602h0M1596 602h0M1590 599h0M1588 598h0M1580 597h0M1574 600h0M1569 600h0M1566 596h0M1563 596h0M1558 597h0M1555 600h0M1546 599h0M1545 600h0M1536 599h0M1535 599h0M1526 597h0M1524 596h0M1518 590h0M1516 588h0M1515 581h0M1513 577h0M1510 576h0M1505 576h0M1501 575h0M1493 573h0M1491 573h0M1484 571h0M1479 569h0M1476 570h0M1473 571h0M1467 571h0M1461 571h0M1457 569h0M1453 575h0M1449 570h0M1442 565h0M1437 563h0M1435 564h0M1431 560h0M1424 557h0M1421 557h0M1417 554h0M1410 550h0M1405 552h0M1405 549h0M1399 548h0M1394 545h0M1391 542h0M1389 539h0M1383 535h0M1379 533h0M1376 532h0M1370 530h0M1371 524h0M1363 525h0M1361 520h0M1359 519h0M1356 516h0M1350 510h0M1348 506h0M1340 505h0M1338 499h0M1333 499h0M1332 493h0M1331 493h0M1328 487h0M1320 488h0M1319 481h0M1315 476h0M1313 473h0M1310 466h0M1415 489h0M1403 489h0M1402 484h0M1406 484h0M1416 476h0M1411 483h0M1402 489h0M1420 480h0M1407 479h0M1405 480h0M1421 479h0M1405 481h0M1398 472h0M1400 472h0M1407 475h0M1406 474h0M1412 472h0M1418 471h0M1422 476h0M1420 476h0M1425 483h0M1425 490h0M1424 489h0M1415 494h0M1413 490h0M1406 495h0M1406 493h0M1401 489h0M1395 485h0M1398 480h0M1395 481h0M1462 480h0M1478 480h0M1472 481h0M1473 477h0M1457 480h0M1468 478h0M1468 480h0M1454 474h0M1475 479h0M1465 474h0M1462 485h0M1470 481h0M1473 479h0M1472 481h0M1455 467h0M1454 467h0M1463 469h0M1466 467h0M1467 467h0M1469 466h0M1473 474h0M1475 476h0M1481 477h0M1476 480h0M1476 483h0M1478 488h0M1474 490h0M1467 489h0M1461 494h0M1463 486h0M1457 485h0M1455 486h0M1453 484h0M1449 476h0M1452 471h0M1512 495h0M1522 503h0M1510 496h0M1511 499h0M1519 501h0M1514 494h0M1512 506h0M1511 503h0M1529 509h0M1525 506h0M1511 504h0M1506 500h0M1506 497h0M1509 487h0M1512 488h0M1517 490h0M1517 487h0M1525 495h0M1528 494h0M1530 500h0M1530 499h0M1531 505h0M1532 510h0M1530 512h0M1525 511h0M1519 508h0M1513 508h0M1512 506h0M1508 502h0M1502 500h0M1508 500h0M1506 493h0M1444 523h0M1456 534h0M1459 532h0M1458 527h0M1440 518h0M1455 531h0M1446 529h0M1445 523h0M1457 531h0M1450 531h0M1442 523h0M1456 533h0M1445 531h0M1439 524h0M1454 525h0M1447 531h0M1435 516h0M1439 516h0M1443 517h0M1450 520h0M1454 516h0M1452 513h0M1459 516h0M1460 523h0M1464 526h0M1469 528h0M1466 529h0M1466 536h0M1464 539h0M1460 538h0M1459 541h0M1458 543h0M1453 538h0M1444 538h0M1443 542h0M1440 537h0M1437 532h0M1438 532h0M1434 524h0M1440 521h0M1508 536h0M1509 542h0M1514 548h0M1508 542h0M1509 551h0M1506 549h0M1500 538h0M1509 537h0M1510 548h0M1498 550h0M1494 539h0M1493 534h0M1503 537h0M1504 537h0M1504 536h0M1510 535h0M1514 543h0M1519 540h0M1519 544h0M1513 552h0M1511 553h0M1511 551h0M1505 555h0M1501 551h0M1499 551h0M1495 547h0M1497 542h0M1492 537h0M1551 553h0M1541 555h0M1552 552h0M1550 556h0M1543 544h0M1547 557h0M1540 547h0M1542 543h0M1547 542h0M1549 542h0M1551 539h0M1553 546h0M1553 553h0M1557 556h0M1556 557h0M1554 560h0M1546 558h0M1543 561h0M1541 558h0M1538 554h0M1537 548h0M1371 499h0M1373 494h0M1374 495h0M1367 491h0M1368 492h0M1377 491h0M1377 491h0M1375 494h0M1377 503h0M1378 503h0M1374 502h0M1368 509h0M1369 505h0M1370 502h0M1369 495h0M1525 336h0M1524 340h0M1521 323h0M1522 323h0M1527 324h0M1535 323h0M1533 328h0M1532 331h0M1531 339h0M1530 339h0M1532 345h0M1522 344h0M1522 340h0M1519 342h0M1522 333h0M1521 332h0M1566 290h0M1568 283h0M1567 287h0M1570 288h0M1577 281h0M1579 289h0M1574 291h0M1572 294h0M1570 292h0M1564 295h0M1565 285h0M1619 597h0M1616 591h0M1617 592h0M1626 595h0M1629 592h0M1628 601h0M1625 605h0M1628 604h0M1623 600h0M1615 602h0M1615 598h0M1444 215h0M1484 198h0M1521 232h0M1398 370h0M1412 195h0M1516 237h0M1424 243h0M1414 242h0M1445 215h0M1414 201h0M1444 318h0M1486 270h0M1515 215h0M1413 306h0M1442 273h0M1413 268h0M1476 196h0M1416 305h0M1410 281h0M1438 306h0M1479 200h0M1384 276h0M1417 312h0M1416 245h0M1480 174h0M1535 219h0M1471 191h0M1407 294h0M1467 183h0M1421 320h0M1471 264h0M1449 252h0M1501 260h0M1445 266h0M1465 295h0M1500 192h0M1539 234h0M1529 203h0M1406 175h0M1501 189h0M1539 223h0M1382 263h0M1385 352h0M1440 174h0M1466 262h0M1428 217h0M1406 267h0M1452 265h0M1484 243h0M1410 289h0M1509 265h0M1476 608h0M1485 619h0M1472 616h0M1473 617h0M1480 603h0M1494 624h0M1486 640h0M1487 638h0M1496 624h0M1479 620h0M1488 631h0M1489 632h0M1490 613h0M1481 611h0M1488 637h0M1493 633h0M1479 616h0M1475 614h0" stroke-width="8.4" stroke-linecap="round" fill="none"/></g><g id="G_both"><path d="M1889.4 462.6C1890.4 454 1896.9 434.6 1902.3 423.9C1907.6 413.1 1913.5 405.6 1921.6 398.1C1929.7 390.5 1940.4 385.2 1950.6 378.7C1960.9 372.3 1972.2 363.7 1982.9 359.4C1993.7 355.1 2003.9 351.8 2015.2 352.9C2026.5 354 2042.6 358.3 2050.6 365.8C2058.7 373.3 2062.5 387.3 2063.5 398.1C2064.6 408.8 2059.2 419.6 2057.1 430.3C2054.9 441.1 2051.7 449.1 2050.6 462.6C2049.6 476 2052.8 497.5 2050.6 511C2048.5 524.4 2043.7 535.2 2037.7 543.2C2031.8 551.3 2022.7 557.2 2015.2 559.4C2007.6 561.5 2000.6 558.3 1992.6 556.1C1984.5 554 1975.4 552.4 1966.8 546.5C1958.2 540.5 1949 529.2 1941 520.6C1932.9 512 1925.9 502.4 1918.4 494.8C1910.9 487.3 1900.6 480.9 1895.8 475.5C1891 470.1 1888.3 471.2 1889.4 462.6Z" stroke="none"/><path d="M1888 461h0M1889 458h0M1893 456h0M1894 450h0M1894 445h0M1895 441h0M1897 437h0M1900 435h0M1900 429h0M1903 425h0M1904 420h0M1907 418h0M1911 412h0M1916 407h0M1916 407h0M1921 399h0M1923 397h0M1925 398h0M1929 392h0M1934 388h0M1938 386h0M1945 386h0M1946 380h0M1952 381h0M1952 376h0M1958 375h0M1962 373h0M1965 370h0M1971 365h0M1976 363h0M1977 359h0M1980 360h0M1989 356h0M1990 359h0M1996 354h0M2000 354h0M2005 355h0M2010 352h0M2016 352h0M2019 356h0M2025 356h0M2031 360h0M2032 362h0M2038 363h0M2043 363h0M2048 363h0M2052 364h0M2050 373h0M2055 376h0M2058 382h0M2059 385h0M2061 391h0M2064 391h0M2064 400h0M2065 401h0M2063 409h0M2062 411h0M2061 415h0M2061 423h0M2061 425h0M2057 432h0M2055 435h0M2054 441h0M2055 446h0M2052 451h0M2055 452h0M2049 459h0M2051 463h0M2052 465h0M2049 472h0M2052 479h0M2049 484h0M2050 489h0M2052 492h0M2052 496h0M2051 500h0M2053 507h0M2052 513h0M2047 515h0M2048 518h0M2043 524h0M2043 527h0M2042 532h0M2040 537h0M2040 543h0M2032 544h0M2029 547h0M2025 553h0M2025 556h0M2020 559h0M2017 557h0M2009 556h0M2005 558h0M2000 560h0M1995 555h0M1992 554h0M1990 555h0M1985 555h0M1977 550h0M1974 551h0M1970 546h0M1965 548h0M1961 542h0M1959 538h0M1956 537h0M1952 532h0M1952 530h0M1946 527h0M1942 522h0M1943 518h0M1938 518h0M1936 515h0M1931 507h0M1926 506h0M1926 501h0M1923 500h0M1919 496h0M1916 491h0M1912 487h0M1907 485h0M1906 480h0M1899 477h0M1898 475h0M1893 473h0M1893 465h0M1898 461h0M1900 457h0M1897 446h0M1903 437h0M1903 443h0M1896 435h0M1904 427h0M1901 416h0M1906 420h0M1923 406h0M1922 395h0M1922 401h0M1929 392h0M1929 385h0M1942 390h0M1949 376h0M1952 375h0M1949 368h0M1955 373h0M1972 378h0M1975 374h0M1985 359h0M1983 353h0M1984 361h0M2003 352h0M2009 349h0M2014 348h0M2018 349h0M2023 355h0M2036 356h0M2025 359h0M2042 357h0M2039 359h0M2057 374h0M2047 372h0M2056 387h0M2065 382h0M2063 387h0M2065 396h0M2063 404h0M2066 412h0M2069 420h0M2067 431h0M2061 438h0M2059 431h0M2056 447h0M2058 447h0M2053 452h0M2042 454h0M2053 465h0M2045 470h0M2049 478h0M2053 486h0M2047 491h0M2060 502h0M2050 503h0M2043 510h0M2053 520h0M2042 524h0M2049 527h0M2039 537h0M2037 541h0M2033 541h0M2022 557h0M2013 562h0M2021 566h0M2008 562h0M1991 552h0M1987 564h0M1990 548h0M1982 556h0M1978 551h0M1963 552h0M1963 550h0M1956 529h0M1949 535h0M1946 527h0M1944 526h0M1934 517h0M1935 510h0M1924 514h0M1927 499h0M1914 501h0M1918 489h0M1905 495h0M1913 486h0M1899 472h0M1902 467h0M1887 478h0M1965 301h0M2085 199h0M1992 228h0M2027 177h0M2052 347h0M1950 353h0M1978 221h0M2014 317h0M2021 258h0M2009 320h0M2062 288h0M2032 332h0M1975 341h0M1975 216h0M2011 242h0M1994 190h0M1975 324h0M2046 290h0M2084 168h0M2028 196h0M2075 204h0M2049 187h0M2074 316h0M2069 309h0M2041 189h0M1979 209h0M2041 169h0M1957 339h0M2040 331h0M2020 261h0M2104 191h0M2089 206h0M2007 203h0M2047 172h0M1957 285h0M2117 193h0M2020 315h0M2032 320h0M1996 172h0M1964 317h0M2036 258h0M2003 226h0M1987 223h0M1999 252h0M2023 340h0M2006 349h0M2004 353h0M1956 259h0M1983 264h0M2079 197h0M1992 227h0M1994 355h0M2056 319h0M1974 342h0M1994 322h0M1972 302h0M1962 222h0M2049 359h0M1971 265h0M2031 314h0M1981 303h0M1992 273h0M2067 172h0M1960 313h0M1964 234h0M1977 282h0M2093 186h0M2086 210h0M2040 174h0M1976 260h0M2034 226h0M2014 170h0M2050 182h0M1984 321h0M2048 190h0M2059 288h0M2017 207h0M1988 305h0M1992 339h0M2006 220h0M2091 201h0M2010 281h0M1972 189h0M2014 271h0M2006 299h0M1984 295h0M2010 273h0M1968 227h0M1982 178h0M2064 189h0M2023 340h0M2015 288h0M2031 249h0M2000 251h0M1978 333h0M2047 301h0M2039 337h0M2052 215h0M2076 190h0M2052 343h0M1977 232h0M2045 254h0M2014 232h0M2014 229h0M2078 166h0M2055 279h0M2007 255h0M2038 332h0M1970 355h0M2035 166h0M2031 230h0M2008 299h0M1957 324h0M2015 283h0M1990 340h0M1991 254h0M2026 267h0M2036 201h0M2057 197h0M2044 188h0M2014 342h0M2031 256h0M2074 323h0M2027 305h0M1971 297h0M2024 207h0M2045 316h0M1985 278h0M2001 244h0M2059 311h0M2015 240h0M2030 165h0M1984 252h0M2004 332h0M1975 337h0M1979 222h0M2010 282h0M2000 342h0M2004 217h0M1989 189h0M2063 305h0M2020 191h0M2056 190h0M2055 201h0M2005 343h0M1976 258h0M1957 269h0M2021 222h0M2060 196h0M2026 214h0M2114 190h0M1955 290h0M2045 341h0M2068 182h0M2062 170h0M2004 324h0M2051 159h0M1988 324h0M2010 310h0M1978 361h0M2009 308h0M2016 234h0M2041 255h0M2089 189h0M1988 243h0M1989 309h0M2008 348h0M2118 200h0M2023 205h0M2019 219h0M2060 283h0M1971 289h0M1976 226h0M2054 346h0M2032 245h0M2046 293h0M2011 244h0M2001 279h0M1964 283h0M1993 308h0M2067 318h0M2031 333h0M2026 228h0M2034 187h0M1962 266h0M2099 202h0M1959 238h0M2038 241h0M2038 333h0M2019 246h0M1988 274h0M2047 158h0M2037 304h0M1996 334h0M1998 263h0M1971 208h0M2027 226h0M2046 364h0M2046 275h0M2068 199h0M1963 327h0M2032 329h0M1986 179h0M2044 204h0M1974 325h0M2060 288h0M1989 184h0M2022 232h0M2037 228h0M2037 342h0M2012 279h0M2048 256h0M1970 238h0M1958 278h0M2017 209h0M1956 357h0M1968 245h0M2091 190h0M2043 316h0M2033 254h0M2027 185h0M2107 199h0M2019 253h0M2109 179h0M2022 344h0M1969 297h0M2016 164h0M2073 187h0M2045 318h0M2089 210h0M2036 308h0M1996 290h0M2045 173h0M2012 184h0M2026 309h0M2034 297h0M2053 354h0M2038 162h0M2028 181h0M2009 164h0M2035 323h0M1971 345h0M2010 202h0M1998 289h0M2004 297h0M2030 240h0M1963 220h0M2052 294h0M1968 217h0M2106 190h0M2061 326h0M1958 239h0M1998 281h0M1961 233h0M1963 308h0M2015 314h0M2046 287h0M1964 286h0M1979 343h0M1989 234h0M2023 208h0M1995 205h0M2026 303h0M2001 224h0M2081 191h0M2021 330h0M2064 298h0M1991 306h0M2037 202h0M2009 244h0M2057 321h0M1999 179h0M2035 230h0M1970 342h0M2061 216h0M2052 197h0M2039 316h0M2053 177h0M2021 229h0M2016 204h0M2020 213h0M2080 211h0M2068 190h0M1993 289h0M1961 257h0M1982 214h0M2042 205h0M1958 254h0M1972 329h0M1999 288h0M2029 257h0M2047 266h0M1952 362h0M2017 166h0M1967 265h0M1982 340h0M2011 350h0M2022 262h0M1981 231h0M2033 317h0M2038 355h0M1966 271h0M1987 241h0M2027 294h0M1990 356h0M1985 219h0M2057 165h0M1983 303h0M2017 223h0M2037 259h0M2077 198h0M1971 287h0M2095 187h0M2099 196h0M2031 190h0M1982 177h0M1953 339h0M2008 173h0M1975 247h0M1971 243h0M2071 340h0M2037 301h0M2012 265h0M2003 264h0M1958 342h0M1997 184h0M1978 182h0M2037 227h0M1994 308h0M2012 268h0M2035 263h0M2098 194h0M1958 225h0M1983 180h0M2067 326h0M2019 191h0M2005 224h0M2041 225h0M2013 291h0M2025 184h0M2061 173h0M2027 294h0M1951 351h0M2035 275h0M2025 212h0M2113 180h0M1991 264h0M2004 349h0M2045 277h0M1983 259h0M1976 231h0M2019 227h0M1976 321h0M2039 225h0M1987 311h0M2046 362h0M2007 229h0M2041 180h0M1979 352h0M2074 207h0M2103 206h0M2005 274h0M1965 219h0M1988 340h0M2066 312h0M1972 190h0M1989 250h0M1962 308h0M1996 255h0M1984 177h0M2069 294h0M1974 257h0M2071 294h0M1973 193h0M2112 175h0M2063 281h0M2050 175h0M1995 184h0M2012 206h0M1984 334h0M2060 187h0M2096 176h0M2067 303h0M1984 201h0M2020 234h0M1991 288h0M2042 345h0M1997 282h0M2018 194h0M1974 251h0M2026 299h0M1979 294h0M2077 175h0M1983 300h0M1998 290h0M2106 207h0M2049 172h0M1992 313h0M2010 307h0M2041 278h0M2013 240h0M2022 312h0M1974 215h0M2084 181h0M2003 186h0M2062 293h0M1971 314h0M1976 290h0M2020 343h0M1955 299h0M2016 307h0M2004 175h0M2038 183h0M2035 173h0M1957 335h0M1987 250h0M2020 187h0M2005 199h0M2028 297h0M1999 181h0M2063 338h0M1957 282h0M2107 206h0M1964 233h0M1958 239h0M2114 182h0M1955 323h0M1990 278h0M2046 354h0M2005 222h0M2055 292h0M1966 311h0M2086 207h0M1992 357h0M2042 183h0M1966 363h0M1994 355h0M1982 327h0M2058 184h0M2062 321h0M2001 204h0M1963 309h0M2019 252h0M2002 226h0M1979 329h0M2037 204h0M2053 291h0M2096 205h0M2044 251h0M1983 229h0M2112 183h0M2063 171h0M2063 315h0M2055 264h0M2068 290h0M1953 334h0M1986 301h0M1967 261h0M2072 179h0M2020 331h0M2013 327h0M1976 266h0M2034 341h0M1977 331h0M1969 284h0M1958 235h0M1996 259h0M1963 215h0M2101 173h0M2006 230h0M2040 222h0M2035 187h0M1980 254h0M2115 188h0M2099 188h0M1996 189h0M1961 219h0M1979 322h0M1972 242h0M1990 180h0M2044 182h0M2086 200h0M2029 318h0M2000 208h0M2050 275h0M2014 315h0M2095 203h0M2060 299h0M2018 241h0M2015 235h0M1992 218h0M2043 263h0M2031 171h0M1979 239h0M1968 296h0M2048 264h0M2100 173h0M2050 196h0M1979 221h0M1993 238h0M2025 317h0M1981 332h0M1970 217h0M2019 262h0M1975 312h0M2002 299h0M2027 330h0M2015 190h0M2043 202h0M2031 349h0M1961 342h0M2125 507h0M2130 508h0M2189 265h0M2191 260h0M2299 241h0M2198 481h0M2069 508h0M2219 382h0M2285 368h0M2281 371h0M2275 371h0M2257 315h0M2261 566h0M2259 570h0M2310 265h0M2306 268h0M2354 424h0M2352 429h0M2306 406h0M2310 402h0M2089 458h0M2084 459h0M2197 300h0M2194 296h0M2341 464h0M2342 469h0M2357 403h0M2362 400h0M2367 398h0M2285 253h0M2280 253h0M2250 323h0M2165 478h0M2296 563h0M2291 560h0M2303 336h0M2347 476h0M2351 480h0M2198 261h0M2193 261h0M2247 262h0M2218 323h0M2221 319h0M2348 439h0M2294 238h0M2294 232h0M2203 540h0M2201 535h0M2312 473h0M2311 478h0M2235 576h0M2237 581h0M2207 308h0M2204 312h0M2231 501h0M2231 496h0M2190 554h0M2321 365h0M2315 366h0M2310 367h0M2207 250h0M2207 245h0M2189 368h0M2318 538h0M2318 543h0M2314 547h0M2342 566h0M2208 314h0M2205 311h0M2204 306h0M2297 445h0M2129 300h0M2153 562h0M2159 562h0M2248 231h0M2217 594h0M2218 600h0M2217 605h0M2287 632h0M2302 412h0M2305 417h0M2096 463h0M2125 559h0M2120 559h0M2348 467h0M2345 471h0M2164 290h0M2162 285h0M2158 281h0M2254 357h0M2258 360h0M2314 320h0M2318 317h0M2323 315h0M2214 571h0M2194 335h0M2196 340h0M2200 342h0M2325 546h0M2379 405h0M2325 534h0M2325 529h0M2387 382h0M2222 385h0M2358 472h0M2361 475h0M2120 571h0M2291 472h0M2289 477h0M2064 469h0M2063 464h0M2187 301h0M2224 517h0M2187 264h0M2136 514h0M2131 512h0M2207 291h0M2203 295h0M2240 557h0M2235 558h0M2289 366h0M2211 453h0M2216 455h0M2263 434h0M2279 577h0M2380 358h0M2382 363h0M2386 366h0M2284 296h0M2280 294h0M2263 350h0M2099 456h0M2343 547h0M2122 498h0M2127 498h0M2132 498h0M2350 422h0M2356 422h0M2212 455h0M2132 519h0M2148 582h0M2143 583h0M2323 594h0M2062 530h0M2093 462h0M2093 457h0M2090 452h0M2180 577h0M2257 509h0M2255 514h0M2343 516h0M2340 512h0M2207 452h0M2212 453h0M2216 457h0M2297 499h0M2328 265h0M2172 531h0M2184 397h0M2273 423h0M2320 271h0M2315 270h0M2209 247h0M2214 246h0M2218 242h0M2169 526h0M2342 384h0M2340 389h0M2240 392h0M2234 391h0M2277 367h0M2280 372h0M2285 374h0M2254 451h0M2249 453h0M2244 452h0M2131 586h0M2250 272h0M2254 268h0M2310 543h0M2360 311h0M2243 273h0M2248 271h0M2251 267h0M2220 597h0M2221 602h0M2222 607h0M2167 484h0M2170 488h0M2170 493h0M2272 524h0M2248 625h0M2249 630h0M2251 335h0M2133 509h0M2109 561h0M2114 563h0M2130 575h0M2135 576h0M2242 457h0M2217 622h0M2365 400h0M2268 625h0M2273 625h0M2246 337h0M2358 528h0M2318 537h0M2138 502h0M2137 507h0M2140 511h0M2343 385h0M2340 390h0M2194 311h0M2194 306h0M2193 301h0M2216 371h0M2220 375h0M2213 430h0M2216 435h0M2218 439h0M2356 481h0M2359 476h0M2364 475h0M2265 551h0M2269 554h0M2165 548h0M2353 521h0M2353 516h0M2381 428h0M2240 565h0M2242 560h0M2293 616h0M2319 323h0M2266 598h0M2222 463h0M2223 458h0M2388 364h0M2276 581h0M2281 580h0M2174 441h0M2307 498h0M2297 591h0M2293 594h0M2291 598h0M2056 531h0M2051 532h0M2128 508h0M2260 439h0M2169 543h0M2170 548h0M2173 552h0M2128 480h0M2132 476h0M2200 401h0M2149 272h0M2148 277h0M2276 349h0M2277 344h0M2279 339h0M2304 450h0M2231 421h0M2248 363h0M2245 379h0M2244 384h0M2240 387h0M2142 314h0M2137 315h0M2155 298h0M2154 293h0M2156 288h0M2120 515h0M2125 514h0M2305 528h0M2304 523h0M2332 564h0M2335 568h0M2077 417h0M2074 421h0M2070 424h0M2264 293h0M2194 357h0M2289 364h0M2079 591h0M2084 588h0M2311 468h0M2316 467h0M2201 289h0M2205 286h0M2140 490h0M2116 578h0M2279 240h0M2281 235h0M2283 230h0M2258 417h0M2254 421h0M2263 444h0M2266 440h0M2350 404h0M2366 424h0M2361 424h0M2357 427h0M2173 498h0M2171 493h0M2171 488h0M2240 317h0M2241 322h0M2245 326h0M2369 310h0M2369 305h0M2282 295h0M2287 294h0M2297 316h0M2188 508h0M2193 511h0M2274 361h0M2279 361h0M2065 576h0M2247 404h0M2238 244h0M2275 241h0M2250 302h0M2254 300h0M2259 300h0M2296 416h0M2215 443h0M2309 392h0M2310 397h0M2312 402h0M2208 512h0M2212 516h0M2213 485h0M2314 272h0M2268 330h0M2268 325h0M2317 617h0M2312 619h0M2344 552h0M2344 558h0M2340 562h0M2191 439h0M2349 422h0M2352 438h0M2352 443h0M2183 466h0M2184 461h0M2142 267h0M2187 233h0M2189 228h0M2139 587h0M2138 582h0M2137 577h0M2092 481h0M2283 574h0M2352 386h0M2177 492h0M2070 423h0M2075 426h0M2101 537h0M2147 297h0M2253 609h0M2249 613h0M2246 617h0M2092 455h0M2087 453h0M2229 273h0M2232 269h0M2298 451h0M2310 555h0M2251 459h0M2256 459h0M2262 459h0M2337 319h0M2159 519h0M2164 518h0M2219 502h0M2217 497h0M2218 492h0M2325 271h0M2320 270h0M2315 270h0M2061 523h0M2302 590h0M2303 584h0M2303 579h0M2372 444h0M2331 318h0M2313 289h0M2245 315h0M2242 319h0M2200 590h0M2119 567h0M2122 562h0M2126 559h0M2274 463h0M2275 458h0M2354 507h0M2350 510h0M2338 371h0M2342 367h0M2273 471h0M2254 530h0M2249 528h0M2246 524h0M2187 324h0M2226 482h0M2247 612h0M2205 298h0M2325 472h0M2383 367h0M2384 362h0M2385 357h0M2270 376h0M2236 601h0M2232 597h0M2227 595h0M2251 555h0M2246 557h0M2346 294h0M2230 521h0M2292 387h0M2120 578h0M2210 595h0M2205 593h0M2232 296h0M2330 547h0M2225 494h0M2223 489h0M2313 576h0M2310 571h0M2305 570h0M2316 422h0M2321 421h0M2160 246h0M2357 306h0M2349 391h0M2354 391h0M2371 346h0M2370 351h0M2362 410h0M2324 370h0M2321 374h0M2209 616h0M2213 612h0M2216 608h0M2320 557h0M2318 552h0M2292 503h0M2290 499h0M2288 494h0M2108 511h0M2109 506h0M2109 501h0M2199 578h0M2195 574h0M2190 573h0M2332 577h0M2327 574h0M2261 612h0M2317 574h0M2321 577h0M2092 541h0M2297 619h0M2301 621h0M2240 494h0M2283 319h0M2153 298h0M2269 235h0M2268 240h0M2236 243h0M2232 556h0M2229 560h0M2191 505h0M2187 502h0M2273 576h0M2111 314h0M2126 265h0M2300 483h0M2302 478h0M2082 529h0M2087 529h0M2180 497h0M2178 492h0M2177 487h0M2305 533h0M2078 440h0M2083 439h0M2145 569h0M2238 323h0M2239 349h0M2244 349h0M2249 352h0M2251 255h0M2380 414h0M2382 419h0M2384 424h0M2160 508h0M2161 462h0M2161 457h0M2164 453h0M2337 365h0M2291 318h0M2286 319h0M2219 428h0M2221 433h0M2235 517h0M2239 521h0M2135 587h0M2138 583h0M2278 479h0M2282 476h0M2287 475h0M2355 498h0M2212 280h0M2303 573h0M2298 571h0M2294 568h0M2358 380h0M2355 376h0M2353 371h0M2314 428h0M2317 432h0M2331 586h0M2336 584h0M2163 527h0M2207 492h0M2258 228h0M2367 445h0M2364 450h0M2360 453h0M2236 229h0M2235 234h0M2077 412h0M2385 333h0M2381 334h0M2202 567h0M2207 569h0M2269 547h0M2264 549h0M2253 546h0M2063 554h0M2059 551h0M2233 438h0M2231 433h0M2261 294h0M2238 243h0M2243 242h0M2092 493h0M2273 289h0M2214 305h0M2217 309h0M2220 313h0M2315 434h0M2310 435h0M2306 439h0M2170 519h0M2165 518h0M2309 505h0M2345 531h0M2100 539h0M2189 558h0M2184 558h0M2183 579h0M2182 574h0M2186 243h0M2182 247h0M2312 345h0M2307 345h0M2204 476h0M2201 480h0M2344 451h0M2339 453h0M2388 330h0M2390 334h0M2325 476h0M2330 475h0M2309 620h0M2305 484h0M2268 322h0M2272 319h0M2333 387h0M2337 383h0M2339 379h0M2336 351h0M2336 356h0M2107 597h0M2112 596h0M2213 494h0M2167 556h0M2359 359h0M2358 354h0M2199 562h0M2194 563h0M2234 513h0M2239 513h0M2245 513h0M2263 231h0M2264 236h0M2262 240h0M2342 417h0M2338 421h0M2082 470h0M2351 349h0M2221 363h0M2129 306h0M2130 301h0M2244 340h0M2239 340h0M2235 336h0M2075 519h0M2075 514h0M2217 323h0M2223 323h0M2220 323h0M2340 266h0M2345 269h0M2350 268h0M2297 369h0M2221 422h0M2221 417h0M2277 512h0M2272 513h0M2202 310h0M2090 443h0M2151 291h0M2155 295h0M2159 299h0M2175 583h0M2180 584h0M2185 585h0M2212 225h0M2214 229h0M2148 580h0M2144 576h0M2213 267h0M2339 308h0M2099 466h0M2097 461h0M2211 339h0M2181 307h0M2183 312h0M2182 317h0M2240 301h0M2245 302h0M2266 602h0M2271 602h0M2277 601h0M2289 421h0M2284 423h0M2303 563h0M2309 563h0M2313 567h0M2363 523h0M2358 520h0M2271 529h0M2267 525h0M2108 515h0M2113 513h0M2319 482h0M2319 476h0M2319 471h0M2237 428h0M2238 433h0M2219 268h0M2215 271h0M2211 275h0M2320 491h0M2324 488h0M2270 515h0M2269 520h0M2339 518h0M2340 523h0M2230 549h0M2228 544h0M2320 394h0M2320 389h0M2318 384h0M2327 313h0M2323 408h0M2325 403h0M2180 440h0M2185 441h0M2190 442h0M2202 456h0M2201 461h0M2358 508h0M2352 510h0M2352 505h0M2189 508h0M2192 504h0M2196 500h0M2253 561h0M2254 259h0M2256 483h0M2260 479h0M2167 576h0M2271 297h0M2267 299h0M2088 566h0M2083 565h0M2289 257h0M2333 595h0M2139 293h0M2178 246h0M2181 250h0M2244 638h0M2248 636h0M2329 574h0M2327 569h0M2323 566h0M2189 579h0M2194 578h0M2197 573h0M2234 495h0M2233 501h0M2232 506h0M2318 558h0M2191 520h0M2193 525h0M2232 516h0M2279 406h0M2274 408h0M2372 359h0M2377 359h0M2381 362h0M2208 382h0M2174 520h0M2168 563h0M2253 507h0M2253 512h0M2284 341h0M2319 586h0M2320 591h0M2231 452h0M2235 456h0M2280 560h0M2280 565h0M2189 243h0M2333 355h0M2336 350h0M2222 569h0M2226 566h0M2230 563h0M2205 408h0M2206 413h0M2291 271h0M2266 310h0M2261 313h0M2151 520h0M2156 523h0M2247 422h0M2245 486h0M2222 491h0M2227 494h0M2283 235h0M2278 234h0M2158 513h0M2343 343h0M2344 348h0M2359 315h0M2189 492h0M2190 464h0M2185 464h0M2257 317h0M2257 322h0M2282 279h0M2284 274h0M2294 445h0M2289 445h0M2398 367h0M2202 327h0M2207 328h0M2218 227h0M2249 284h0M2376 312h0M2381 312h0M2275 323h0M2280 325h0M2302 362h0M2303 357h0M2302 352h0M2346 507h0M2284 347h0M2284 352h0M2285 358h0M2227 491h0M2180 560h0M2183 564h0M2183 570h0M2218 419h0M2374 449h0M2369 452h0M2366 456h0M2257 250h0M2216 427h0M2265 634h0M2269 638h0M2270 642h0M2254 337h0M2257 341h0M2175 448h0M2392 350h0M2394 345h0M2320 565h0M2352 425h0M2355 422h0M2255 367h0M2088 443h0M2093 446h0M2259 604h0M2283 342h0M2267 476h0M2262 479h0M2221 262h0M2218 258h0M2257 502h0M2255 507h0M2382 411h0M2221 537h0M2236 496h0M2073 435h0M2069 431h0M2243 524h0M2372 306h0M2365 479h0M2370 481h0M2150 497h0M2209 258h0M2213 262h0M2214 267h0M2370 453h0M2229 280h0M2234 280h0M2199 526h0M2194 529h0M2225 632h0M2221 636h0M2250 306h0M2245 304h0M2173 514h0M2190 537h0M2185 535h0M2353 339h0M2351 334h0M2166 558h0M2238 330h0M2237 325h0M2234 320h0M2219 244h0M2215 239h0M2215 234h0M2243 634h0M2278 595h0M2249 406h0M2248 411h0M2327 504h0M2279 451h0M2274 452h0M2068 495h0M2065 491h0M2066 486h0M2311 564h0M2306 564h0M2239 249h0M2242 254h0M2303 395h0M2225 271h0M2332 257h0M2331 262h0M2327 266h0M2355 488h0M2358 484h0M2210 563h0M2106 549h0M2101 552h0M2096 551h0M2243 508h0M2243 514h0M2245 518h0M2215 258h0M2211 255h0M2206 255h0M2250 358h0M2253 362h0M2255 367h0M2319 359h0M2324 356h0M2301 303h0M2094 468h0M2094 473h0M2145 282h0M2340 525h0M2345 523h0M2129 541h0M2127 536h0M2124 532h0M2068 568h0M2253 475h0M2250 479h0M2373 312h0M2182 482h0M2186 485h0M2237 288h0M2360 319h0M2363 322h0M2367 326h0M2053 558h0M2200 598h0M2202 603h0M2339 332h0M2344 333h0M2366 406h0M2366 401h0M2087 485h0M2090 481h0M2091 476h0M2079 590h0M2083 593h0M2339 465h0M2324 505h0M2112 473h0M2108 476h0M2365 405h0M2364 509h0M2369 510h0M2199 379h0M2344 545h0M2340 548h0M2196 407h0M2332 354h0M2364 398h0M2359 399h0M2068 512h0M2073 515h0M2162 536h0M2166 533h0M2218 325h0M2379 449h0M2382 445h0M2306 399h0M2311 397h0M2329 344h0M2237 363h0M2238 358h0M2134 556h0M2076 451h0M2289 575h0M2295 576h0M2299 574h0M2276 462h0M2213 605h0M2241 294h0M2079 416h0M2233 324h0M2238 324h0M2243 321h0M2276 368h0M2276 363h0M2151 483h0M2326 508h0M2287 425h0M2292 424h0M2219 379h0M2331 357h0M2333 353h0M2334 348h0M2339 391h0M2052 551h0M2292 242h0M2090 560h0M2258 249h0M2259 244h0M2261 226h0M2262 231h0M2261 236h0M2239 621h0M2260 322h0M2255 324h0M2250 323h0M2246 539h0M2250 536h0M2116 544h0M2120 540h0M2170 240h0M2310 403h0M2306 406h0M2151 571h0M2156 570h0M2243 585h0M2246 589h0M2370 393h0M2369 398h0M2371 403h0M2333 575h0M2314 509h0M2373 427h0M2368 430h0M2274 621h0M2112 510h0M2107 512h0M2102 514h0M2153 294h0M2099 539h0M2195 355h0M2212 568h0M2215 564h0M2058 569h0M2055 573h0M2381 386h0M2060 451h0M2056 448h0M2249 247h0M2306 627h0M2302 625h0M2297 623h0M2145 304h0M2140 303h0M2314 587h0M2221 472h0M2336 498h0M2331 497h0M2327 500h0M2318 245h0M2314 242h0M2119 589h0M2114 589h0M2109 592h0M2365 369h0M2367 374h0M2189 311h0M2185 315h0M2063 490h0M2058 489h0M2102 517h0M2083 434h0M2078 433h0M2357 444h0M2185 445h0M2184 440h0M2373 470h0M2368 472h0M2363 475h0M2172 442h0M2170 437h0M2059 561h0M2060 556h0M2219 367h0M2219 372h0M2216 376h0M2291 349h0M2237 581h0M2234 311h0M2229 310h0M2215 389h0M2211 386h0M2109 597h0M2114 599h0M2337 348h0M2073 442h0M2259 407h0M2208 581h0M2205 577h0M2200 576h0M2354 524h0M2126 568h0M2122 564h0M2097 570h0M2092 571h0M2086 573h0M2335 398h0M2365 336h0M2361 332h0M2356 332h0M2227 477h0M2228 472h0M2088 438h0M2214 395h0M2212 399h0M2081 428h0M2076 428h0M2197 523h0M2193 526h0M2217 405h0M2399 383h0M2188 504h0M2157 468h0M2162 466h0M2334 351h0M2335 356h0M2356 291h0M2353 287h0M2086 433h0M2159 269h0M2158 274h0M2221 310h0M2218 370h0M2229 343h0M2234 343h0M2209 561h0M2208 556h0M2208 551h0M2263 639h0M2267 642h0M2258 512h0M2072 421h0M2069 425h0M2058 533h0M2058 538h0M2241 458h0M2245 461h0M2250 463h0M2317 337h0M2261 309h0M2256 308h0M2060 521h0M2058 526h0M2303 385h0M2303 390h0M2271 454h0M2275 457h0M2245 431h0M2230 361h0M2231 356h0M2194 275h0M2196 467h0M2195 462h0M2198 564h0M2277 335h0M2272 333h0M2267 333h0M2316 518h0M2239 483h0M2137 477h0M2132 474h0M2231 375h0M2298 398h0M2302 401h0M2294 493h0M2290 491h0M2146 586h0M2141 587h0M2252 234h0M2329 313h0M2094 590h0M2167 282h0M2163 280h0M2158 252h0M2160 257h0M2164 260h0M2293 318h0M2289 315h0M2321 254h0M2324 250h0M2238 319h0M2300 370h0M2305 369h0M2247 313h0M2363 380h0M2371 475h0M2376 473h0M2313 402h0M2310 474h0M2311 479h0M2341 439h0M2342 445h0M2342 450h0M2235 480h0M2244 268h0M2329 305h0M2334 305h0M2298 559h0M2295 564h0M2285 321h0M2157 534h0M2153 531h0M2152 526h0M2346 469h0M2164 309h0M2162 304h0M2282 584h0M2223 524h0M2201 284h0M2196 283h0M2378 382h0M2247 316h0M2183 438h0M2187 435h0M2188 430h0M2278 513h0M2280 518h0M2367 482h0M2365 477h0M2366 472h0M2256 611h0M2209 606h0M2213 609h0M2389 415h0M2288 513h0M2291 509h0M2292 504h0M2288 282h0M2283 283h0M2278 285h0M2250 583h0M2248 588h0M2175 572h0M2188 557h0M2262 472h0M2218 346h0M2218 348h0M2209 427h0M2205 423h0M2200 422h0M2122 320h0M2326 336h0M2279 542h0M2274 545h0M2342 415h0M2061 466h0M2056 467h0M2350 458h0M2346 461h0M2123 510h0M2258 246h0M2205 546h0M2164 485h0M2342 284h0M2350 501h0M2345 499h0M2318 616h0M2314 614h0M2310 610h0M2212 480h0M2211 485h0M2269 306h0M2274 308h0M2287 413h0M2288 408h0M2086 500h0M2082 503h0M2300 521h0M2295 519h0M2184 435h0M2185 440h0M2208 592h0M2204 596h0M2106 581h0M2201 283h0M2202 288h0M2204 293h0M2089 588h0M2084 589h0M2176 263h0M2345 319h0M2277 282h0M2280 287h0M2355 418h0M2360 418h0M2144 276h0M2144 271h0M2138 496h0M2348 548h0M2351 553h0M2353 339h0M2347 338h0M2342 339h0M2346 491h0M2153 552h0M2154 546h0M2174 453h0M2179 455h0M2184 458h0M2322 460h0M2230 270h0M2226 266h0M2224 261h0M2201 465h0M2204 460h0M2334 497h0M2337 501h0M2289 468h0M2284 468h0M2152 314h0M2222 317h0M2225 320h0M2293 639h0M2297 636h0M2301 633h0M2334 262h0M2339 259h0M2093 535h0M2246 239h0M2052 504h0M2243 447h0M2239 451h0M2063 494h0M2058 491h0M2199 431h0M2085 484h0M2304 507h0M2229 468h0M2232 463h0M2142 499h0M2139 503h0M2342 282h0M2344 277h0M2159 271h0M2155 274h0M2252 372h0M2256 374h0M2275 286h0M2272 281h0M2326 467h0M2321 468h0M2299 444h0M2090 449h0M2088 454h0M2289 373h0M2290 378h0M2248 417h0M2246 422h0M2080 415h0M2079 410h0M2127 478h0M2256 483h0M2253 479h0M2180 315h0M2131 571h0M2174 505h0M2179 504h0M2315 308h0M2380 410h0M2173 460h0M2235 431h0M2080 587h0M2323 534h0M2318 531h0M2195 594h0M2197 246h0M2373 448h0M2375 443h0M2393 414h0M2111 494h0M2116 495h0M2194 488h0M2190 490h0M2187 495h0M2192 376h0M2195 372h0M2207 251h0M2208 246h0M2236 482h0M2359 293h0M2303 464h0M2300 468h0M2209 325h0M2218 308h0M2222 305h0M2058 541h0M2059 546h0M2225 496h0M2076 545h0M2079 549h0M2274 491h0M2270 488h0M2268 483h0M2183 471h0M2179 474h0M2302 357h0M2241 275h0M2225 457h0M2259 377h0M2184 294h0M2180 290h0M2226 325h0M2392 404h0M2397 405h0M2347 347h0M2326 339h0M2382 399h0M2392 346h0M2348 379h0M2387 395h0M2365 408h0M2383 350h0M2337 333h0M2376 418h0M2352 367h0M2382 414h0M2389 390h0M2394 372h0M2387 383h0M2355 337h0M2348 347h0M2361 331h0M2348 354h0M2366 404h0M2382 405h0M2366 391h0M2396 362h0M2342 324h0M2329 354h0M2334 375h0M2379 432h0M2373 330h0M2338 411h0M2353 362h0M2350 389h0M2353 421h0M2340 388h0M2361 407h0M2336 368h0M2337 409h0M2348 404h0M2346 320h0M2337 409h0M2355 322h0M2350 344h0M2362 352h0M2356 331h0M2394 348h0M2373 407h0M2348 422h0M2345 418h0M2344 397h0M2341 345h0M2347 401h0M2380 368h0M2331 389h0M2345 393h0M2393 383h0M2396 380h0M2396 360h0M2346 404h0M2376 384h0M2361 384h0M2336 334h0M2362 347h0M2347 404h0M2393 344h0M2380 333h0M2326 340h0M2380 374h0M2377 359h0M2392 389h0M2344 340h0M2369 371h0M2350 347h0M2347 434h0M2387 335h0M2343 418h0M2343 343h0M2354 370h0M2358 365h0M2389 395h0M2367 404h0M2386 398h0M2361 366h0M2379 368h0M2373 360h0M2328 372h0M2372 347h0M2392 342h0M2379 404h0M2373 371h0M2344 328h0M2384 395h0M2353 436h0M2367 411h0M2352 371h0M2357 433h0M2362 352h0M2353 404h0M2359 411h0M2378 356h0M2345 381h0M2370 348h0M2398 376h0M2393 400h0M2373 396h0M2387 391h0M2372 391h0M2384 422h0M2345 389h0M2344 383h0M2340 347h0M2343 405h0M2358 362h0M2391 393h0M2344 409h0M2344 405h0M2346 381h0M2375 328h0M2375 321h0M2345 378h0M2362 355h0M2337 378h0M2338 326h0M2357 372h0M2357 354h0M2333 326h0M2369 359h0M2361 431h0M2338 411h0M2352 377h0M2342 397h0M2363 441h0M2391 405h0M2395 345h0M2365 382h0M2368 399h0M2368 437h0M2325 356h0M2353 397h0M2397 364h0M2364 422h0M2336 344h0M2335 331h0M2391 393h0M2343 427h0M2333 370h0M2358 317h0M2345 345h0M2337 383h0M2349 362h0M2365 442h0M2350 361h0M2389 345h0M2372 325h0M2339 360h0M2328 382h0M2368 380h0M2389 347h0M2352 384h0M2378 422h0M2354 367h0M2344 404h0M2379 379h0M2337 323h0M2344 391h0M2349 407h0M2365 402h0M2366 315h0M2392 400h0M2372 412h0M2390 367h0M2339 337h0M2351 339h0M2337 359h0M2346 319h0M2346 379h0M2329 382h0M2331 323h0M2364 435h0M2363 403h0M2350 431h0M2332 388h0M2384 407h0M2380 395h0M2348 339h0M2373 345h0M2342 385h0M2379 370h0M2364 398h0M2390 419h0M2389 394h0M2353 383h0M2377 341h0M2360 400h0M2349 328h0M2379 372h0M2347 394h0M2361 342h0M2394 355h0M2381 428h0M2338 342h0M2343 366h0M2373 383h0M2342 391h0M2393 338h0M2338 412h0M2347 368h0M2343 394h0M2357 368h0M2346 318h0M2356 416h0M2347 342h0M2344 413h0M2389 400h0M2366 411h0M2383 352h0M2355 397h0M2346 332h0M2342 369h0M2368 429h0M2369 432h0M2352 430h0M2340 348h0M2383 385h0M2394 354h0M2372 403h0M2343 371h0M2331 323h0M2327 361h0M2365 317h0M2398 395h0M2392 410h0M2353 362h0M2379 391h0M2335 363h0M2361 410h0M2393 357h0M2351 399h0M2362 409h0M2395 372h0M2347 333h0M2348 340h0M2375 353h0M2337 340h0M2346 344h0M2353 406h0M2348 405h0M2330 327h0M2358 407h0M2344 348h0M2373 334h0M2341 406h0M2377 324h0M2380 406h0M2333 384h0M2382 338h0M2347 420h0M2392 366h0M2378 412h0M2337 329h0M2365 345h0M2341 418h0M2366 320h0M2332 360h0M2338 335h0M2370 316h0M2386 334h0M2346 429h0M2347 328h0M2353 318h0M2054 605h0M2064 634h0M2044 597h0M2042 595h0M2068 609h0M2060 575h0M2059 595h0M2051 619h0M2044 597h0M2065 608h0M2053 579h0M2041 571h0M2051 625h0M2051 573h0M2052 570h0M2040 587h0M2048 561h0M2042 570h0M2067 594h0M2058 568h0M2067 625h0M2061 575h0M2045 611h0M2067 592h0M2043 583h0M2037 565h0M2040 571h0M2044 569h0M2051 597h0M2060 579h0M2038 582h0M2066 585h0M2065 634h0M2063 637h0M2067 615h0M2038 573h0M2030 562h0M2061 583h0M2028 571h0M2066 596h0M2067 591h0M2052 585h0M2057 590h0M2050 559h0M2070 615h0M2056 592h0M2059 572h0M2070 626h0M2057 579h0M2066 614h0M2054 616h0M2065 608h0M2053 615h0M2046 560h0M2062 602h0M2047 581h0M2043 592h0M2058 623h0M2053 567h0M2039 560h0M2069 599h0M2070 621h0M2068 634h0M2056 592h0M2039 600h0M2045 595h0M2061 632h0M2068 602h0M2029 567h0M2068 612h0M2056 567h0M2289 610h0M2217 607h0M2300 602h0M2259 601h0M2242 642h0M2227 607h0M2222 614h0M2246 594h0M2300 605h0M2261 626h0M2220 610h0M2287 631h0M2305 617h0M2285 634h0M2287 615h0M2311 608h0M2297 625h0M2268 615h0M2243 620h0M2235 595h0M2260 605h0M2241 631h0M2297 636h0M2288 606h0M2239 616h0M2242 592h0M2297 634h0M2261 611h0M2233 633h0M2244 624h0M2286 609h0M2265 628h0M2231 600h0M2244 595h0M2235 602h0M2226 614h0M2267 624h0M2256 615h0M2258 607h0M2219 624h0M2220 616h0M2304 628h0M2255 636h0M2237 620h0M2290 603h0M2286 638h0M2263 627h0M2243 605h0M2271 599h0M2261 642h0M2242 637h0M2217 608h0M2249 641h0M2276 600h0M2274 602h0M2305 607h0M2266 603h0M2269 628h0M2252 601h0M2286 639h0M2247 631h0M2228 616h0M2211 608h0M2234 623h0M2249 641h0M2273 600h0M2227 616h0M2257 617h0M2243 634h0M2270 608h0M2317 612h0M2279 624h0M2255 598h0M2239 630h0M2236 613h0M2239 632h0M2249 602h0M2267 600h0M2227 623h0M2276 634h0M2234 621h0M2271 609h0M2277 642h0M2221 598h0M2259 641h0M2273 627h0M2213 618h0M2242 617h0M2292 633h0M2239 598h0M2228 618h0M2271 638h0M2299 614h0M2237 641h0M2251 613h0M2257 639h0M2233 605h0M2285 621h0M2290 619h0M2231 599h0M2269 609h0M2288 637h0M2287 635h0M2260 628h0M2235 617h0M2212 620h0M2311 607h0M2292 629h0M2260 639h0M2271 599h0M2286 612h0M2225 621h0M2276 634h0M2239 593h0M2284 612h0M2229 602h0M2247 606h0M2293 624h0M2246 595h0M2271 634h0M2243 597h0M2230 598h0M2256 603h0M2306 619h0M2258 613h0M2246 238h0M2252 237h0M2207 246h0M2200 234h0M2209 243h0M2277 260h0M2261 245h0M2307 255h0M2196 232h0M2240 246h0M2317 245h0M2261 233h0M2233 239h0M2282 245h0M2272 244h0M2269 273h0M2206 245h0M2304 246h0M2231 263h0M2282 254h0M2210 251h0M2299 266h0M2191 236h0M2189 235h0M2202 237h0M2292 257h0M2198 242h0M2217 235h0M2306 244h0M2201 227h0M2265 261h0M2288 247h0M2283 258h0M2225 257h0M2279 236h0M2244 253h0M2265 236h0M2252 238h0M2193 235h0M2252 262h0M2227 267h0M2292 246h0M2273 234h0M2196 247h0M2208 258h0M2224 236h0M2254 229h0M2198 233h0M2196 240h0M2219 241h0M2225 253h0M2264 233h0M2247 250h0M2200 244h0M2250 246h0M2210 226h0M2243 262h0M2212 239h0M2318 247h0M2204 232h0M2249 242h0M2268 269h0M2296 255h0M2260 229h0M2272 250h0M2269 237h0M2197 231h0M2255 248h0M2261 253h0M2276 271h0M2222 224h0M2230 253h0M2274 253h0M2180 239h0M2236 230h0M2190 241h0M2265 272h0M2186 235h0M2222 228h0M2242 231h0M2297 252h0M2290 266h0M2267 268h0M2273 269h0M2228 250h0M2204 236h0M2196 233h0M2187 250h0M2234 264h0M2254 265h0M2262 263h0M2298 266h0M2293 250h0M2303 239h0M2292 260h0M2288 251h0M2276 256h0M2295 250h0M2226 227h0M2235 238h0M2310 245h0M2248 269h0M2229 239h0M2293 257h0M2306 257h0M2282 260h0M2264 264h0M2255 238h0M2298 248h0M2234 229h0M2217 231h0M2254 264h0M2204 242h0M2267 231h0M2268 272h0M2191 250h0M2191 255h0M2215 259h0M2224 254h0M2290 253h0M2242 230h0M2189 235h0M2207 226h0M2209 244h0M2262 233h0M2265 259h0M2244 236h0M2140 399h0M2141 404h0M2174 344h0M2179 342h0M2134 393h0M2130 395h0M2177 360h0M2177 355h0M2093 383h0M2098 385h0M2088 362h0M2090 433h0M2088 427h0M2080 405h0M2103 457h0M2167 409h0M2171 412h0M2176 413h0M2148 418h0M2080 348h0M2085 346h0M2090 345h0M2120 349h0M2163 342h0M2164 337h0M2113 439h0M2161 438h0M2166 437h0M2170 433h0M2099 354h0M2122 389h0M2098 359h0M2102 355h0M2107 410h0M2185 358h0M2112 356h0M2112 351h0M2121 369h0M2145 423h0M2143 418h0M2131 355h0M2098 349h0M2094 352h0M2089 355h0M2170 392h0M2082 371h0M2087 372h0M2112 371h0M2084 383h0M2085 389h0M2085 394h0M2172 364h0M2177 363h0M2169 429h0M2138 361h0M2139 356h0" stroke-width="8.4" stroke-linecap="round" fill="none"/></g><g id="B_both"><path d="M2287 351h0M2282 352h0M2243 523h0M2238 523h0M2241 504h0M2307 407h0M2298 426h0M2293 427h0M2301 494h0M2306 496h0M2311 497h0M2325 470h0M2320 469h0M2264 367h0M2259 366h0M2289 344h0M2218 361h0M2192 290h0M2190 286h0M2240 287h0M2243 283h0M2244 278h0M2333 360h0M2335 365h0M2210 473h0M2215 474h0M2212 295h0M2202 534h0M2206 538h0M2254 432h0M2259 430h0M2256 394h0M2253 389h0M2291 537h0M2289 532h0M2219 353h0M2272 356h0M2267 355h0M2264 350h0M2228 434h0M2247 416h0M2156 490h0M2247 503h0M2282 574h0M2279 570h0M2210 394h0M2207 389h0M2265 456h0M2262 451h0M2257 450h0M2241 305h0M2240 300h0M2221 490h0M2243 565h0M2340 403h0M2341 398h0M2243 558h0M2238 556h0M2311 526h0M2314 357h0M2314 352h0M2201 298h0M2204 301h0M2209 304h0M2239 334h0M2236 339h0M2235 344h0M2295 394h0M2291 397h0M2286 398h0M2162 502h0M2157 503h0M2338 435h0M2272 368h0M2272 363h0M2272 358h0M2303 311h0M2208 307h0M2213 306h0M2304 365h0M2301 369h0M2216 536h0M2214 541h0M2263 369h0M2264 364h0M2286 527h0M2280 319h0M2284 315h0M2286 311h0M2188 320h0M2212 556h0M2207 559h0M2253 309h0M2248 307h0M2243 307h0M2274 454h0M2269 455h0M2306 416h0M2335 386h0M2337 391h0M2328 360h0M2245 528h0M2240 528h0M2291 498h0M2285 497h0M2286 488h0M2315 567h0M2320 568h0M2323 572h0M2256 505h0M2221 400h0M2214 479h0M2321 489h0M2220 375h0M2200 439h0M2202 434h0M2268 342h0M2264 346h0M2243 546h0M2238 546h0M2233 548h0M2332 437h0M2200 521h0M2199 516h0M2271 358h0M2269 363h0M2269 368h0M2255 537h0M2250 536h0M2245 535h0M2287 372h0M2203 386h0M2198 385h0M2192 511h0M2192 506h0M2255 283h0M2273 284h0M2224 382h0M2341 437h0M2346 438h0M2337 496h0M2213 556h0M2218 557h0M2216 514h0M2218 519h0M2326 518h0M2322 516h0M2210 499h0M2208 504h0M2250 497h0M2153 480h0M2158 480h0M2288 440h0M2245 453h0M2250 454h0M2311 501h0M2305 500h0M2263 466h0M2289 468h0M2285 471h0M2281 475h0M2340 474h0M2345 476h0M2277 511h0M2200 408h0M2303 383h0M2301 388h0M2316 318h0M2312 322h0M2291 407h0M2290 402h0M2285 399h0M2228 459h0M2227 464h0M2252 388h0M2248 391h0M2243 392h0M2286 442h0M2286 437h0M2264 520h0M2267 515h0M2170 497h0M2227 346h0M2244 429h0M2286 340h0M2290 344h0M2246 549h0M2241 548h0M2236 547h0M2216 282h0M2211 279h0M2210 274h0M2229 288h0M2306 376h0M2331 419h0M2278 453h0M2279 448h0M2283 444h0M2195 432h0M2326 487h0M2326 481h0M2323 476h0M2323 471h0M2189 553h0M2232 412h0M2288 431h0M2284 435h0M2289 491h0M2266 287h0M2262 283h0M2301 548h0M2164 503h0M2201 289h0M2328 361h0M2331 366h0M2273 283h0M2278 283h0M2228 276h0M2228 281h0M2309 361h0M2304 460h0M2302 456h0M2298 452h0M2175 474h0M2178 470h0M2293 363h0M2289 367h0M2312 534h0M2316 536h0M2209 404h0M2223 283h0M2225 288h0M2228 292h0M2200 349h0M2200 344h0M2200 338h0M2333 513h0M2332 508h0M2240 510h0M2245 508h0M2334 443h0M2176 522h0M2175 517h0M2176 512h0M2234 303h0M2334 496h0M2277 520h0M2280 524h0M2335 518h0M2264 560h0M2268 563h0M2323 380h0M2318 378h0M2299 477h0M2298 482h0M2226 308h0M2230 304h0M2263 456h0M2309 351h0M2314 352h0M2213 505h0M2208 507h0M2236 290h0M2231 289h0M2258 527h0M2266 418h0M2270 328h0M2270 333h0M2268 337h0M2248 329h0M2244 327h0M2238 326h0M2320 375h0M2315 373h0M2234 471h0M2210 374h0M2215 372h0M2220 370h0M2309 364h0M2223 334h0M2226 330h0M2225 325h0M2246 388h0M2241 388h0M2201 355h0M2202 350h0M2266 385h0M2265 380h0M2268 475h0M2272 472h0M2163 511h0M2217 357h0M2211 356h0M2288 422h0M2287 428h0M2276 431h0M2328 431h0M2306 430h0M2307 435h0M2177 475h0M2235 495h0M2294 438h0M2299 437h0M2337 499h0M2332 496h0M2330 492h0M2266 433h0M2268 437h0M2199 550h0M2295 567h0M2213 435h0M2208 436h0M2205 440h0M2286 293h0M2291 295h0M2229 413h0M2232 417h0M2187 293h0M2279 439h0M2282 443h0M2284 448h0M2243 465h0M2240 461h0M2237 457h0M2165 500h0M2168 504h0M2172 508h0M2272 432h0M2276 428h0M2307 401h0M2213 490h0M2284 337h0M2291 434h0M2286 431h0M2222 371h0M2220 367h0M2321 366h0M2321 361h0M2317 357h0M2345 475h0M2350 473h0M2228 557h0M2326 338h0M2299 402h0M2202 357h0M2203 362h0M2324 400h0M2321 405h0M2317 407h0M2278 506h0M2202 418h0M2277 440h0M2273 443h0M2271 448h0M2342 500h0M2345 504h0M2165 518h0M2287 467h0M2282 468h0M2327 449h0M2287 374h0M2282 372h0M2278 374h0M2258 285h0M2254 288h0M2274 331h0M2276 326h0M2269 300h0M2272 545h0M2270 540h0M2302 315h0M2273 353h0M2225 342h0M2230 341h0M2235 342h0M2279 450h0M2276 446h0M2273 442h0M2167 472h0M2163 469h0M2193 510h0M2192 515h0M2257 423h0M2230 373h0M2230 378h0M2232 383h0M2242 292h0M2247 293h0M2277 467h0M2282 466h0M2263 292h0M2304 477h0M2300 481h0M2283 483h0M2281 487h0M2276 489h0M2306 411h0M2308 416h0M2307 421h0M2227 419h0M2244 464h0M2202 386h0M2328 357h0M2323 358h0M2266 390h0M2271 389h0M2249 482h0M2271 414h0M2270 419h0M2340 360h0M2328 454h0M2346 400h0M2156 499h0M2260 427h0M2255 430h0M2279 488h0M2198 542h0M2196 547h0M2196 552h0M2291 491h0M2286 490h0M2315 477h0M2319 475h0M2199 458h0M2201 406h0M2198 410h0M2260 520h0M2256 524h0M2255 529h0M2346 443h0M2233 506h0M2227 507h0M2223 510h0M2209 338h0M2205 334h0M2201 332h0M2209 286h0M2211 281h0M2286 482h0M2282 486h0M2296 548h0M2293 552h0M2289 556h0M2328 562h0M2312 315h0M2309 310h0M2258 546h0M2256 550h0M2253 555h0M2321 481h0M2316 482h0M2231 313h0M2250 428h0M2290 417h0M2290 412h0M2287 408h0M2210 493h0M2214 497h0M2199 324h0M2196 319h0M2214 442h0M2219 442h0M2224 443h0M2222 275h0M2217 276h0M2311 433h0M2316 435h0M2245 473h0M2244 468h0M2240 465h0M2315 474h0M2310 477h0M2250 389h0M2246 392h0M2322 503h0M2302 367h0M2210 442h0M2226 428h0M2205 541h0M2210 539h0M2214 536h0M2179 460h0M2177 465h0M2289 363h0M2242 320h0M2161 483h0M2156 481h0M2151 481h0M2260 510h0M2265 508h0M2269 504h0M2293 471h0M2288 469h0M2202 292h0M2201 297h0M2312 423h0M2268 409h0M2272 405h0M2277 404h0M2329 424h0M2198 334h0M2201 339h0M2311 342h0M2315 346h0M2312 441h0M2314 436h0M2316 431h0M2155 509h0M2317 413h0M2245 405h0M2250 404h0M2340 474h0M2194 533h0M2197 411h0M2199 416h0M2201 421h0M2285 296h0M2283 291h0M2278 498h0M2275 502h0M2275 507h0M2307 510h0M2302 511h0M2320 510h0M2163 483h0M2163 477h0M2159 474h0M2268 479h0M2267 484h0M2270 488h0M2286 553h0M2282 555h0M2277 554h0M2232 531h0M2273 330h0M2273 325h0M2310 544h0M2315 546h0M2318 550h0M2306 368h0M2303 459h0M2308 461h0M2313 461h0M2240 274h0M2245 275h0M2301 416h0M2297 418h0M2317 566h0M2312 567h0M2233 285h0M2238 287h0M2275 291h0M2271 293h0M2204 484h0M2199 481h0M2319 512h0M2295 337h0M2192 554h0M2265 510h0M2267 506h0M2266 500h0M2319 432h0M2339 466h0M2334 464h0M2329 463h0M2298 388h0M2293 388h0M2186 486h0M2185 491h0M2287 391h0M2271 317h0M2266 319h0M2298 493h0M2279 430h0M2184 533h0M2183 538h0M2179 542h0M2258 412h0M2258 417h0M2258 388h0M2302 314h0M2307 315h0M2206 330h0M2228 484h0M2211 376h0M2236 436h0M2216 334h0M2222 346h0M2217 342h0M2246 397h0M2236 455h0M2233 384h0M2208 419h0M2243 411h0M2211 392h0M2229 418h0M2225 321h0M2234 470h0M2237 466h0M2216 371h0M2223 413h0M2237 479h0M2239 468h0M2222 304h0M2229 344h0M2204 426h0M2228 411h0M2228 389h0M2225 432h0M2221 457h0M2230 353h0M2245 337h0M2237 448h0M2245 374h0M2242 298h0M2210 435h0M2204 388h0M2227 366h0M2218 356h0M2212 420h0M2214 401h0M2239 292h0M2217 324h0M2220 324h0M2222 391h0M2225 368h0M2229 292h0M2227 346h0M2219 297h0M2233 393h0M2229 455h0M2216 444h0M2229 305h0M2228 324h0M2220 392h0M2205 430h0M2223 407h0M2212 422h0M2235 368h0M2252 317h0M2213 301h0M2209 297h0M2203 327h0M2240 448h0M2239 343h0M2213 415h0M2219 452h0M2211 446h0M2220 463h0M2206 365h0M2226 446h0M2221 386h0M2216 395h0M2223 473h0M2231 299h0M2215 488h0M2229 410h0M2234 327h0M2217 402h0M2251 354h0M2226 292h0M2234 428h0M2220 397h0M2216 482h0M2215 474h0M2250 345h0M2244 345h0M2237 386h0M2238 354h0M2242 365h0M2240 469h0M2247 372h0M2225 368h0M2228 374h0M2208 360h0M2221 486h0M2227 312h0M2228 374h0M2204 341h0M2215 467h0M2210 418h0M2214 299h0M2231 442h0M2237 473h0M2212 369h0M2233 401h0M2208 463h0M2231 443h0M2207 390h0M2228 292h0M2224 386h0M2239 301h0M2219 465h0M2220 314h0M2229 348h0M2211 399h0M2222 361h0M2203 355h0M2231 471h0M2214 394h0M2207 374h0M2240 403h0M2215 472h0M2230 433h0M2237 423h0M2219 310h0M2224 392h0M2232 496h0M2237 451h0M2219 457h0M2207 335h0M2209 428h0M2241 336h0M2218 369h0M2230 429h0M2227 410h0M2241 469h0M2245 304h0M2210 365h0M2222 417h0M2213 355h0M2218 297h0M2244 403h0M2223 456h0M2241 326h0M2235 477h0M2211 318h0M2226 475h0M2245 337h0M2215 345h0M2215 374h0M2252 332h0M2233 382h0M2233 492h0M2233 312h0M2215 302h0M2223 338h0M2235 301h0M2219 335h0M2253 332h0M2210 416h0M2243 364h0M2217 331h0M2221 330h0M2210 345h0M2228 387h0M2206 435h0M2209 348h0M2229 454h0M2241 324h0M2243 389h0M2244 320h0M2216 343h0M2221 457h0M2228 381h0M2207 297h0M2232 441h0M2226 452h0M2243 381h0M2227 314h0M2219 508h0M2233 366h0M2210 388h0M2219 328h0M2225 370h0M2232 425h0M2222 496h0M2220 393h0M2213 465h0M2236 325h0M2229 486h0M2205 341h0M2220 418h0M2222 422h0M2235 426h0M2225 428h0M2248 324h0M2236 296h0M2209 402h0M2225 449h0M2211 377h0M2216 376h0M2233 376h0M2218 477h0M2231 500h0M2230 419h0M2223 297h0M2240 472h0M2220 454h0M2209 430h0M2240 450h0M2227 460h0M2217 317h0M2203 353h0M2230 338h0M2234 353h0M2202 373h0M2211 415h0M2209 341h0M2222 499h0M2240 311h0M2241 403h0M2225 332h0M2229 444h0M2236 467h0M2228 383h0M2224 349h0M2211 484h0M2237 405h0M2211 340h0M2237 408h0M2242 353h0M2240 347h0M2211 437h0M2231 433h0M2232 373h0M2224 364h0M2254 344h0M2222 410h0M2240 434h0M2252 330h0M2225 347h0M2233 422h0M2210 340h0M2235 380h0M2204 344h0M2234 500h0M2226 405h0M2211 428h0M2219 378h0M2231 313h0M2254 330h0M2208 454h0M2219 360h0M2207 365h0M2208 450h0M2231 493h0M2224 485h0M2057 322h0M2116 291h0M2112 276h0M2077 330h0M2083 289h0M2079 330h0M2095 289h0M2073 308h0M2084 328h0M2081 335h0M2088 292h0M2088 290h0M2124 281h0M2080 319h0M2096 289h0M2099 297h0M2085 309h0M2108 281h0M2087 323h0M2085 326h0M2098 309h0M2083 335h0M2085 335h0M2074 320h0M2072 331h0M2116 288h0M2088 295h0M2069 330h0M2093 315h0M2092 299h0M2122 279h0M2096 290h0M2092 313h0M2083 294h0M2103 294h0M2127 281h0M2083 319h0M2090 303h0M2086 298h0M2073 330h0M2095 327h0M2089 283h0M2096 293h0M2083 318h0M2095 301h0M2064 306h0M2078 332h0M2079 315h0M2095 304h0M2097 303h0M2061 322h0M2059 317h0M2106 308h0M2061 312h0M2084 311h0M2094 323h0M2100 300h0M2117 274h0M2073 293h0M2105 283h0M2069 319h0M2091 291h0M2063 317h0M2066 302h0M2064 318h0M2059 317h0M2066 312h0M2130 271h0M2119 280h0M2102 299h0M2125 275h0M2093 293h0M2090 288h0M2098 278h0" stroke-width="8.4" stroke-linecap="round" fill="none"/></g><g id="P_both"><path d="M1918 453h0M2022 550h0M2043 389h0M2038 392h0M1978 455h0M1973 454h0M1905 483h0M1997 379h0M1993 375h0M1989 372h0M1961 491h0M2063 398h0M2058 400h0M2063 510h0M1917 461h0M2055 416h0M2058 412h0M2032 406h0M2050 386h0M2055 385h0M1900 475h0M1904 478h0M1987 548h0M1983 546h0M2049 509h0M2053 506h0M2057 502h0M2003 411h0M2006 415h0M1962 477h0M1958 481h0M1979 427h0M1975 423h0M1973 419h0M1909 448h0M1908 443h0M2049 524h0M2050 529h0M2004 420h0M2031 544h0M2026 546h0M1992 540h0M1992 535h0M1992 529h0M2069 409h0M2068 404h0M1996 532h0M2001 530h0M2050 514h0M2052 519h0M2001 500h0M2002 495h0M1975 540h0M1973 515h0M1972 510h0M1947 397h0M1949 401h0M2060 540h0M2064 544h0M2069 545h0M1925 505h0M1966 477h0M1971 476h0M1976 479h0M1924 452h0M1928 455h0M1933 454h0M1985 554h0M1920 427h0M2033 510h0M2038 511h0M2043 509h0M1995 550h0M2045 449h0M2053 545h0M2029 436h0M2031 441h0M2028 561h0M2033 561h0M2038 560h0M2052 506h0M2056 504h0M2060 426h0M2058 432h0M2062 435h0M1949 417h0M1995 450h0M1946 527h0M1952 526h0M2050 532h0M2046 536h0M2043 541h0M1955 518h0M1958 522h0M2071 503h0M2074 499h0M2074 494h0M2064 418h0M2023 553h0M2021 548h0M1978 516h0M1975 520h0M2049 439h0M2051 434h0M1970 408h0M1966 405h0M2016 422h0M2012 418h0M2019 459h0M1973 407h0M2064 491h0M2065 496h0M2063 501h0M1996 519h0M1972 528h0M1977 526h0M2001 542h0M2006 542h0M2016 457h0M1999 520h0M2035 374h0M2039 371h0M2044 370h0M2035 416h0M2047 559h0M2037 402h0M1998 420h0M1950 433h0M1951 438h0M1949 443h0M2037 432h0M2041 429h0M2046 427h0M1907 471h0M1907 476h0M1974 477h0M1978 474h0M2003 484h0M2008 485h0M2012 488h0M1992 530h0M1950 477h0M1948 472h0M2030 468h0M2035 469h0M2033 522h0M1981 421h0M1986 423h0M1989 427h0M1944 506h0M1940 504h0M1950 506h0M1949 511h0M1946 515h0M1948 473h0M1943 474h0M2021 458h0M2024 455h0M1998 467h0M2000 463h0M2002 458h0M1973 485h0M1978 485h0M1961 416h0M1918 441h0M1914 470h0M1913 475h0M1955 497h0M2014 539h0M2018 542h0M1942 400h0M2040 519h0M1940 405h0M2006 471h0M2007 466h0M2006 461h0M2067 530h0M2065 535h0M2062 539h0M1945 405h0M1943 481h0M1981 417h0M1999 455h0M1994 454h0M1936 513h0M1970 453h0M1974 455h0M1942 424h0M1940 419h0M2058 531h0M2045 499h0M2050 498h0M2055 498h0M2037 520h0M2042 522h0M1962 392h0M1962 386h0M2010 389h0M1929 482h0M1933 479h0M2010 525h0M2004 525h0M2000 527h0M2039 559h0M2037 554h0M2037 549h0M1982 431h0M1984 426h0M1902 437h0M1899 433h0M1899 469h0M1979 513h0M1984 513h0M1973 413h0M1972 418h0M1940 417h0M1944 420h0M1948 424h0M2041 495h0M2061 411h0M2057 414h0M2054 418h0M1950 430h0M1955 431h0M1960 428h0M1945 448h0M2031 539h0M2036 538h0M2040 536h0M1945 505h0M1970 547h0M1969 552h0M1929 483h0M1925 486h0M1920 488h0M1937 459h0M2004 439h0M1944 525h0M1941 520h0M1939 515h0M1969 411h0M1971 406h0M1971 401h0M2002 513h0M2007 516h0M2010 520h0M2033 409h0M2037 412h0M2040 417h0M1912 462h0M1908 465h0M2052 377h0M1981 527h0M1978 522h0M1974 520h0M1978 410h0M1901 444h0M1905 442h0M2053 456h0M2058 458h0M2063 459h0M1964 505h0M1962 510h0M1957 512h0M2035 394h0M2037 390h0M2036 384h0M1967 454h0M2003 499h0M1999 501h0M2020 464h0M1955 445h0M1958 449h0M1926 402h0M1923 407h0M1957 391h0M2054 552h0M1890 457h0M1977 424h0M1950 483h0M2027 385h0M2033 386h0M2037 384h0M1988 396h0M1984 398h0M1979 398h0M2104 320h0M2117 320h0M2109 342h0M2117 330h0M2115 335h0M2097 333h0M2097 330h0M2121 322h0M2108 342h0M2108 328h0M2110 343h0M2116 329h0M2113 340h0M2122 324h0M2117 332h0M2124 321h0M2092 340h0M2113 326h0M2112 333h0M2091 341h0M2004 533h0M2001 509h0M1975 521h0M1964 522h0M1979 536h0M1981 541h0M1979 546h0M1955 512h0M1951 508h0M1946 507h0M1945 496h0M1948 500h0M1974 529h0M1954 505h0M1959 504h0M1954 514h0M1951 511h0M1950 505h0M1959 529h0M1960 523h0M1994 521h0M1995 522h0M1937 502h0M1936 497h0M1937 492h0M1957 513h0M1985 551h0M1980 553h0M2004 528h0M1985 504h0M1984 509h0M1981 541h0M1956 501h0M1989 528h0M1994 528h0M1998 530h0M1968 531h0M1963 531h0M1958 529h0M2012 543h0M2015 539h0M2014 534h0M1986 530h0M1984 526h0M1963 510h0M2005 541h0M1982 552h0M1983 557h0M1982 562h0M1995 526h0M1990 524h0M2005 549h0M2009 548h0M2011 543h0M2013 538h0M1966 531h0M1971 532h0M2024 540h0M2011 525h0M2007 522h0" stroke-width="8.4" stroke-linecap="round" fill="none"/></g><linearGradient id="cb" x1="0" y1="0" x2="0" y2="1"><stop offset="0" stop-color="#6495ED"/><stop offset="1" stop-color="#D3D3D3"/></linearGradient></defs><rect width="100%" height="100%" fill="#fff"/><text x="77" y="96" font-size="82" font-weight="bold" fill="#000" font-family='"DejaVu Sans", "Liberation Sans", sans-serif'>a</text>
<text x="76.5" y="835" font-size="82" font-weight="bold" fill="#000" font-family='"DejaVu Sans", "Liberation Sans", sans-serif'>b</text>
<text x="79.5" y="1562" font-size="82" font-weight="bold" fill="#000" font-family='"DejaVu Sans", "Liberation Sans", sans-serif'>c</text>
<text x="80.5" y="2434" font-size="82" font-weight="bold" fill="#000" font-family='"DejaVu Sans", "Liberation Sans", sans-serif'>d</text>
<text x="1495" y="2438" font-size="82" font-weight="bold" fill="#000" font-family='"DejaVu Sans", "Liberation Sans", sans-serif'>e</text>
<use href="#G_ctrl" fill="#7f7f7f" stroke="#7f7f7f"/>
<use href="#B_ctrl" fill="#6495ED" stroke="#6495ED"/>
<g transform="translate(0 1506)"><use href="#G_ctrl" fill="#7f7f7f" stroke="#7f7f7f"/><use href="#B_ctrl" fill="#7f7f7f" stroke="#7f7f7f"/><use href="#P_ctrl" fill="#B038EC" stroke="#B038EC"/></g>
<use href="#G_l2gl" fill="#7f7f7f" stroke="#7f7f7f"/>
<use href="#B_l2gl" fill="#6495ED" stroke="#6495ED"/>
<g transform="translate(0 1506)"><use href="#G_l2gl" fill="#7f7f7f" stroke="#7f7f7f"/><use href="#B_l2gl" fill="#7f7f7f" stroke="#7f7f7f"/><use href="#P_l2gl" fill="#B038EC" stroke="#B038EC"/></g>
<use href="#G_nicd" fill="#7f7f7f" stroke="#7f7f7f"/>
<use href="#B_nicd" fill="#6495ED" stroke="#6495ED"/>
<g transform="translate(0 1506)"><use href="#G_nicd" fill="#7f7f7f" stroke="#7f7f7f"/><use href="#B_nicd" fill="#7f7f7f" stroke="#7f7f7f"/><use href="#P_nicd" fill="#B038EC" stroke="#B038EC"/></g>
<use href="#G_both" fill="#7f7f7f" stroke="#7f7f7f"/>
<use href="#B_both" fill="#6495ED" stroke="#6495ED"/>
<g transform="translate(0 1506)"><use href="#G_both" fill="#7f7f7f" stroke="#7f7f7f"/><use href="#B_both" fill="#7f7f7f" stroke="#7f7f7f"/><use href="#P_both" fill="#B038EC" stroke="#B038EC"/></g>
<g transform="translate(0 0)"><g transform="matrix(0.537 0 0 0.572 1569.6451 2393.328)"><use href="#GE_ctrl" fill="#D3D3D3" stroke="#D3D3D3"/><use href="#B_ctrl" fill="#D3D3D3" stroke="#D3D3D3"/></g></g>
<g transform="translate(0 0)"><g transform="matrix(0.538 0 0 0.574 1319.7428 2393.5308)"><use href="#GE_nicd" fill="#D3D3D3" stroke="#D3D3D3"/><use href="#B_nicd" fill="#D3D3D3" stroke="#D3D3D3"/></g></g>
<g transform="translate(0 311.4)"><g transform="matrix(0.537 0 0 0.572 1569.6451 2393.328)"><use href="#GE_ctrl" fill="#D3D3D3" stroke="#D3D3D3"/><use href="#B_ctrl" fill="#D3D3D3" stroke="#D3D3D3"/></g></g>
<g transform="translate(0 311.4)"><g transform="matrix(0.538 0 0 0.574 1319.7428 2393.5308)"><use href="#GE_nicd" fill="#D3D3D3" stroke="#D3D3D3"/><use href="#B_nicd" fill="#D3D3D3" stroke="#D3D3D3"/></g></g>
<path d="M1662 2653h0M1734 2498h0M1746 2503h0M1686 2664h0M1746 2541h0M1717 2668h0M1727 2606h0M1681 2606h0M1727 2592h0M1731 2615h0M1732 2581h0M1737 2613h0M1734 2544h0M1728 2612h0M1728 2585h0M1738 2688h0M1696 2559h0M1710 2585h0M1731 2658h0M1710 2589h0M1733 2559h0M1722 2605h0M1691 2595h0M1766 2519h0M1748 2551h0M1716 2672h0M1693 2638h0M1726 2649h0M1707 2699h0M1741 2616h0M1757 2529h0M1693 2612h0M1727 2703h0M1736 2499h0M1683 2660h0M1730 2681h0M1722 2546h0M1713 2593h0M1700 2619h0M1719 2654h0M1705 2691h0M1728 2636h0M1692 2691h0M1699 2679h0M1736 2528h0M1742 2523h0M1703 2573h0M1698 2570h0M1671 2667h0M1700 2649h0M1708 2708h0M1726 2504h0M1701 2562h0M1730 2490h0M1744 2505h0M1707 2597h0M1677 2638h0M1687 2627h0M1706 2703h0M1710 2549h0M1699 2543h0M1720 2639h0M1697 2651h0M1715 2644h0M1735 2509h0M1694 2529h0M1692 2514h0M1745 2524h0M1671 2652h0M1715 2555h0M1719 2572h0M1704 2674h0M1720 2523h0M1721 2653h0M1727 2596h0M1680 2633h0M1710 2641h0M1673 2660h0M1714 2553h0M1693 2577h0M1736 2512h0M1709 2626h0M1706 2635h0M1699 2636h0M1684 2598h0M1708 2607h0M1740 2526h0M1728 2653h0M1704 2577h0M1744 2494h0M1713 2549h0M1722 2653h0M1737 2506h0M1734 2698h0M1729 2599h0M1717 2581h0M1712 2526h0M1690 2530h0M1732 2638h0M1708 2591h0M1712 2656h0M1743 2558h0M1668 2653h0M1743 2623h0M1674 2656h0M1680 2668h0M1730 2632h0M1742 2513h0M1738 2535h0M1744 2490h0M1678 2653h0M1745 2549h0M1723 2507h0M1743 2634h0M1716 2708h0M1712 2589h0M1731 2666h0M1726 2700h0M1691 2690h0M1729 2704h0M1722 2651h0M1745 2526h0M1734 2587h0M1701 2654h0M1722 2560h0M1667 2666h0M1744 2677h0M1748 2502h0M1692 2592h0M1694 2674h0M1711 2500h0M1728 2610h0M1719 2557h0M1714 2571h0M1725 2640h0M1691 2625h0M1689 2656h0M1683 2622h0M1742 2668h0M1719 2694h0M1700 2548h0M1730 2517h0M1733 2575h0M1720 2565h0M1696 2500h0M1746 2590h0M1713 2634h0M1698 2641h0M1670 2666h0M1719 2509h0M1723 2527h0M1709 2553h0M1745 2515h0M1685 2622h0M1725 2578h0M1699 2520h0M1738 2572h0M1727 2673h0M1700 2698h0M1729 2533h0M1718 2504h0M1720 2536h0M1725 2558h0M1738 2500h0M1730 2510h0M1762 2538h0M1706 2504h0M1711 2705h0M1721 2632h0M1728 2542h0M1755 2536h0M1695 2623h0M1729 2629h0M1722 2541h0M1767 2521h0M1701 2558h0M1714 2540h0M1716 2669h0M1700 2658h0M1747 2567h0M1743 2567h0M1673 2650h0M1689 2600h0M1737 2655h0M1737 2695h0M1726 2637h0M1722 2608h0M1695 2649h0M1684 2628h0M1705 2641h0M1713 2513h0M1737 2707h0M1671 2627h0M1729 2626h0M1717 2602h0M1709 2671h0M1735 2670h0M1686 2597h0M1726 2689h0M1763 2509h0M1729 2658h0M1693 2557h0M1730 2655h0M1692 2511h0M1724 2561h0M1737 2672h0M1720 2671h0M1699 2599h0M1670 2632h0M1766 2522h0M1734 2500h0M1683 2620h0M1741 2509h0M1707 2563h0M1732 2703h0M1731 2695h0M1675 2627h0M1701 2679h0M1727 2626h0M1685 2645h0M1759 2517h0M1690 2605h0M1667 2662h0M1740 2515h0M1729 2517h0M1719 2509h0M1692 2590h0M1721 2635h0M1699 2535h0M1742 2571h0M1707 2677h0M1709 2671h0M1713 2619h0M1689 2580h0M1741 2507h0M1711 2545h0M1693 2564h0M1683 2618h0M1690 2529h0M1759 2518h0M1717 2676h0M1698 2585h0M1680 2679h0M1742 2568h0M1731 2539h0M1715 2682h0M1728 2497h0M1734 2493h0M1715 2607h0M1704 2680h0M1696 2499h0M1714 2502h0M1690 2662h0M1693 2509h0M1708 2618h0M1722 2656h0M1689 2657h0M1721 2527h0M1723 2575h0M1695 2672h0M1739 2537h0M1697 2587h0M1751 2509h0M1741 2647h0M1712 2703h0M1731 2687h0M1693 2600h0M1742 2509h0M1706 2598h0M1702 2543h0M1698 2702h0M1731 2585h0M1737 2626h0M1715 2602h0M1706 2692h0M1749 2559h0M1697 2585h0M1693 2659h0M1740 2566h0M1741 2568h0M1730 2511h0M1696 2614h0M1728 2593h0M1756 2549h0M1684 2628h0M1669 2629h0M1726 2685h0M1755 2549h0M1730 2565h0M1686 2630h0M1733 2630h0M1702 2694h0M1712 2668h0M1749 2554h0M1742 2623h0M1733 2495h0M1702 2551h0M1738 2597h0M1730 2576h0M1691 2554h0M1686 2645h0M1743 2535h0M1717 2492h0M1718 2495h0M1699 2595h0M1677 2634h0M1754 2560h0M1742 2699h0M1738 2583h0M1724 2698h0M1724 2494h0M1710 2684h0M1739 2597h0M1685 2646h0M1696 2557h0M1685 2636h0M1761 2514h0M1692 2579h0M1719 2655h0M1736 2680h0M1753 2524h0M1664 2647h0M1751 2531h0M1733 2628h0M1685 2676h0M1765 2515h0M1738 2612h0M1706 2541h0M1754 2560h0M1741 2702h0M1696 2621h0M1706 2503h0M1749 2496h0M1703 2679h0M1756 2542h0M1743 2569h0M1708 2592h0M1722 2644h0M1705 2605h0M1704 2686h0M1701 2656h0M1716 2703h0M1716 2631h0M1736 2630h0M1680 2616h0M1708 2641h0M1746 2535h0M1702 2546h0M1710 2705h0M1716 2517h0M1702 2507h0M1705 2590h0M1714 2708h0M1720 2526h0M1680 2641h0M1718 2580h0M1715 2580h0M1736 2622h0M1688 2619h0M1712 2660h0M1729 2602h0M1673 2653h0M1725 2548h0M1712 2561h0M1724 2634h0M1726 2700h0M1709 2572h0M1744 2613h0M1690 2696h0M1720 2693h0M1728 2603h0M1693 2525h0M1710 2676h0M1722 2709h0M1726 2582h0M1736 2569h0M1743 2583h0M1737 2602h0M1731 2696h0M1704 2649h0M1735 2510h0M1717 2551h0M1732 2526h0M1694 2545h0M1692 2616h0M1732 2660h0M1704 2585h0M1733 2535h0M1744 2696h0M1762 2539h0M1675 2627h0M1699 2529h0M1728 2609h0M1720 2603h0M1729 2663h0M1740 2647h0M1731 2514h0M1736 2541h0M1715 2594h0M1768 2523h0M1689 2631h0M1701 2565h0M1710 2618h0M1672 2645h0M1697 2702h0M1709 2677h0M1701 2607h0M1703 2557h0M1713 2594h0M1725 2617h0M1743 2590h0M1707 2581h0M1684 2682h0M1694 2611h0M1728 2518h0M1708 2518h0M1721 2653h0M1734 2572h0M1757 2503h0M1704 2645h0M1706 2648h0M1718 2514h0M1759 2541h0M1747 2497h0M1716 2556h0M1717 2574h0M1722 2586h0M1691 2533h0M1708 2602h0M1690 2555h0M1731 2497h0M1726 2620h0M1742 2655h0M1700 2687h0M1724 2608h0M1748 2558h0M1737 2618h0M1684 2615h0M1697 2558h0M1689 2662h0M1732 2518h0M1739 2686h0M1727 2687h0M1722 2602h0M1706 2616h0M1743 2593h0M1717 2556h0M1731 2504h0M1718 2584h0M1727 2552h0M1752 2547h0M1721 2586h0M1720 2570h0M1711 2549h0M1710 2548h0M1696 2549h0M1722 2554h0M1741 2557h0M1737 2547h0M1732 2569h0M1717 2550h0M1720 2634h0M1754 2546h0M1724 2616h0M1706 2580h0M1719 2663h0M1728 2605h0M1734 2547h0M1740 2674h0M1744 2512h0M1696 2696h0M1749 2521h0M1684 2653h0M1733 2495h0M1719 2531h0M1690 2635h0M1742 2516h0M1702 2698h0M1706 2522h0M1733 2567h0M1748 2570h0M1680 2611h0M1710 2516h0M1728 2502h0M1736 2518h0M1734 2594h0M1889 2733h0M1860 2535h0M1808 2562h0M1831 2556h0M1908 2606h0M1857 2709h0M1919 2656h0M1832 2672h0M1860 2640h0M1879 2691h0M1885 2712h0M1817 2568h0M1907 2625h0M1905 2584h0M1900 2612h0M1868 2684h0M1890 2570h0M1883 2560h0M1824 2707h0M1926 2627h0M1860 2528h0M1827 2546h0M1876 2557h0M1815 2554h0M1893 2677h0M1831 2596h0M1829 2652h0M1869 2552h0M1829 2680h0M1815 2544h0M1840 2672h0M1821 2720h0M1870 2565h0M1906 2674h0M1828 2743h0M1835 2570h0M1819 2684h0M1839 2740h0M1868 2639h0M1896 2655h0M1853 2562h0M1901 2671h0M1855 2758h0M1855 2698h0M1878 2582h0M1880 2693h0M1828 2706h0M1910 2630h0M1869 2677h0M1825 2531h0M1879 2726h0M1827 2560h0M1848 2559h0M1826 2638h0M1885 2545h0M1863 2562h0M1882 2656h0M1877 2541h0M1863 2585h0M1829 2538h0M1886 2678h0M1828 2575h0M1887 2579h0M1861 2547h0M1851 2526h0M1819 2708h0M1838 2753h0M1864 2531h0M1868 2537h0M1835 2598h0M1832 2599h0M1832 2559h0M1834 2686h0M1839 2575h0M1832 2585h0M1867 2537h0M1906 2703h0M1906 2634h0M1820 2563h0M1916 2595h0M1842 2710h0M1866 2670h0M1898 2676h0M1905 2692h0M1840 2523h0M1928 2627h0M1819 2525h0M1839 2585h0M1887 2559h0M1854 2640h0M1834 2708h0M1821 2713h0M1897 2671h0M1801 2549h0M1823 2680h0M1895 2729h0M1809 2569h0M1840 2688h0M1828 2625h0M1872 2748h0M1817 2708h0M1887 2540h0M1821 2690h0M1859 2608h0M1912 2584h0M1917 2607h0M1847 2721h0M1895 2564h0M1846 2654h0M1881 2693h0M1844 2611h0M1836 2709h0M1812 2729h0M1904 2606h0M1853 2653h0M1854 2633h0M1811 2577h0M1816 2588h0M1866 2582h0M1828 2547h0M1851 2629h0M1858 2629h0M1888 2657h0M1888 2536h0M1831 2586h0M1857 2621h0M1805 2551h0M1799 2533h0M1873 2568h0M1875 2639h0M1829 2713h0M1827 2594h0M1918 2635h0M1891 2638h0M1827 2605h0M1861 2594h0M1862 2526h0M1844 2548h0M1857 2647h0M1914 2627h0M1831 2724h0M1816 2721h0M1887 2651h0M1852 2714h0M1856 2747h0M1919 2608h0M1865 2623h0M1846 2608h0M1834 2680h0M1883 2669h0M1863 2681h0M1886 2695h0M1903 2574h0M1876 2717h0M1817 2565h0M1914 2604h0M1796 2527h0M1898 2727h0M1832 2524h0M1846 2679h0M1886 2606h0M1910 2648h0M1865 2573h0M1811 2577h0M1832 2633h0M1921 2585h0M1822 2698h0M1920 2577h0M1832 2620h0M1799 2542h0M1867 2579h0M1823 2714h0M1857 2656h0M1881 2698h0M1826 2551h0M1811 2576h0M1903 2709h0M1860 2652h0M1894 2662h0M1835 2660h0M1882 2593h0M1845 2640h0M1914 2654h0M1917 2614h0M1821 2676h0M1836 2644h0M1883 2656h0M1843 2526h0M1849 2620h0M1862 2589h0M1866 2662h0M1844 2715h0M1853 2742h0M1897 2686h0M1882 2650h0M1892 2651h0M1901 2558h0M1856 2671h0M1892 2693h0M1879 2664h0M1856 2626h0M1874 2601h0M1901 2651h0M1851 2644h0M1889 2721h0M1903 2690h0M1807 2540h0M1861 2539h0M1856 2702h0M1851 2730h0M1840 2636h0M1827 2551h0" stroke="#D9B2EE" stroke-width="3.8" stroke-linecap="round" fill="none"/>
<path d="M1784 2605h0M1817 2594h0M1788 2608h0M1759 2632h0M1798 2611h0M1789 2613h0M1787 2616h0M1784 2573h0M1806 2587h0M1811 2585h0M1816 2595h0M1807 2572h0M1808 2562h0M1791 2592h0M1766 2624h0M1762 2614h0M1806 2579h0M1769 2609h0M1778 2593h0M1766 2648h0M1769 2621h0M1770 2634h0M1794 2575h0M1765 2622h0M1795 2574h0M1816 2565h0M1792 2557h0M1801 2607h0M1754 2643h0M1777 2618h0M1796 2585h0M1793 2610h0M1803 2586h0M1804 2607h0M1758 2626h0M1786 2568h0M1801 2598h0M1774 2618h0M1775 2616h0M1814 2585h0M1793 2578h0M1784 2573h0M1796 2597h0M1813 2547h0M1802 2606h0M1774 2630h0M1810 2569h0M1796 2592h0M1800 2565h0M1786 2562h0M1802 2562h0M1801 2600h0M1816 2552h0M1779 2606h0M1818 2594h0M1798 2565h0M1767 2642h0M1812 2581h0M1809 2550h0M1808 2562h0M1776 2630h0M1819 2552h0M1768 2601h0M1773 2623h0M1797 2600h0M1774 2585h0M1767 2637h0M1792 2565h0M1790 2598h0M1792 2597h0M1801 2550h0M1790 2588h0M1771 2595h0M1786 2578h0M1766 2611h0M1817 2557h0M1800 2578h0M1777 2611h0M1760 2624h0M1789 2591h0M1779 2588h0M1789 2560h0M1767 2612h0M1797 2601h0M1812 2568h0M1815 2578h0M1814 2557h0M1769 2623h0M1810 2589h0M1807 2557h0M1781 2618h0M1820 2555h0M1791 2600h0M1792 2559h0M1817 2553h0M1757 2648h0M1775 2594h0M1788 2590h0M1804 2587h0M1796 2587h0M1794 2598h0M1809 2588h0M1806 2588h0M1803 2550h0M1776 2594h0M1797 2612h0M1799 2580h0M1798 2606h0M1790 2586h0M1770 2643h0M1791 2599h0M1809 2551h0M1756 2646h0M1818 2589h0M1789 2609h0M1778 2574h0M1798 2605h0M1772 2622h0M1763 2626h0M1805 2548h0M1758 2643h0M1782 2595h0M1803 2594h0M1795 2555h0M1796 2593h0M1789 2556h0M1783 2617h0M1784 2572h0M1793 2589h0M1807 2601h0M1804 2569h0M1761 2641h0M1778 2573h0M1800 2605h0M1794 2613h0M1805 2564h0M1796 2554h0M1759 2617h0M1791 2612h0M1779 2596h0M1806 2566h0M1782 2571h0M1809 2583h0M1775 2603h0M1782 2583h0M1759 2639h0M1792 2596h0M1800 2576h0M1806 2551h0M1767 2616h0M1777 2623h0M1802 2606h0M1816 2591h0M1808 2576h0M1775 2587h0M1778 2583h0M1780 2586h0M1766 2605h0M1808 2602h0M1765 2627h0M1814 2574h0M1790 2605h0M1808 2550h0M1763 2625h0M1798 2570h0M1768 2627h0M1780 2580h0M1787 2602h0M1816 2588h0M1808 2589h0M1782 2559h0M1761 2614h0M1806 2562h0M1769 2622h0M1794 2567h0M1765 2626h0M1774 2603h0M1809 2596h0M1771 2641h0M1816 2580h0M1786 2567h0M1756 2648h0M1808 2585h0M1789 2600h0M1798 2569h0M1802 2610h0M1813 2600h0M1771 2602h0M1763 2628h0M1802 2553h0M1786 2594h0M1812 2576h0M1807 2589h0M1816 2553h0M1810 2566h0M1790 2601h0M1764 2635h0M1778 2619h0M1802 2569h0M1792 2593h0M1808 2565h0M1795 2575h0M1779 2602h0M1780 2616h0M1803 2579h0M1803 2579h0M1810 2553h0M1817 2590h0M1788 2614h0M1779 2579h0M1780 2620h0M1798 2610h0M1776 2615h0M1764 2627h0M1777 2598h0M1762 2622h0M1766 2647h0M1796 2564h0M1778 2594h0M1761 2650h0M1762 2643h0M1790 2605h0M1792 2572h0M1761 2634h0M1769 2606h0M1810 2563h0M1798 2577h0M1779 2608h0M1792 2562h0M1789 2572h0M1792 2579h0M1799 2559h0M1785 2588h0M1781 2591h0M1789 2601h0M1803 2609h0M1805 2576h0M1788 2587h0M1789 2569h0M1774 2586h0M1768 2625h0M1759 2630h0M1780 2582h0M1755 2642h0M1774 2598h0M1785 2565h0M1815 2564h0M1811 2582h0M1785 2562h0M1767 2613h0M1766 2640h0M1803 2577h0M1802 2558h0M1802 2564h0M1778 2616h0M1772 2613h0M1783 2601h0M1794 2574h0M1770 2632h0M1805 2570h0M1772 2603h0M1766 2642h0M1787 2563h0M1791 2614h0M1778 2615h0M1807 2600h0M1800 2600h0M1819 2562h0M1807 2561h0M1795 2569h0M1769 2597h0M1768 2607h0M1783 2591h0M1771 2631h0M1758 2643h0M1792 2603h0M1808 2569h0M1796 2601h0M1771 2608h0M1759 2633h0M1764 2619h0M1778 2567h0M1821 2559h0M1814 2558h0M1780 2576h0M1791 2569h0M1778 2580h0M1776 2620h0M1814 2594h0M1765 2603h0M1774 2592h0M1813 2565h0M1801 2583h0M1802 2572h0M1818 2582h0M1816 2545h0M1775 2585h0M1758 2640h0M1775 2628h0M1780 2569h0M1774 2590h0M1790 2558h0M1802 2571h0M1772 2622h0M1781 2585h0M1813 2568h0M1768 2619h0M1813 2569h0M1797 2553h0M1782 2586h0M1775 2598h0M1781 2595h0M1764 2616h0M1776 2589h0M1763 2607h0M1801 2604h0M1780 2583h0M1793 2595h0M1775 2571h0M1771 2617h0M1778 2606h0M1796 2611h0M1781 2589h0M1772 2634h0M1814 2585h0M1816 2547h0M1774 2582h0M1820 2559h0M1800 2569h0M1780 2569h0M1787 2615h0M1791 2612h0M1774 2622h0M1764 2611h0M1787 2605h0M1778 2574h0M1805 2602h0M1788 2557h0M1760 2621h0M1806 2596h0M1764 2639h0M1813 2549h0M1770 2599h0M1808 2586h0M1802 2570h0M1802 2579h0M1776 2627h0M1792 2589h0M1799 2568h0M1820 2557h0M1800 2589h0M1796 2587h0M1772 2624h0M1790 2596h0M1779 2577h0M1801 2603h0M1808 2559h0M1817 2570h0M1787 2556h0M1792 2558h0M1796 2573h0M1768 2596h0M1778 2571h0M1815 2577h0M1767 2639h0M1786 2588h0M1809 2586h0M1798 2612h0M1803 2562h0M1778 2626h0M1774 2600h0M1819 2587h0M1802 2570h0M1816 2545h0M1793 2568h0M1780 2583h0M1778 2613h0M1777 2574h0M1815 2578h0M1804 2566h0M1804 2603h0M1800 2562h0M1777 2590h0M1781 2578h0M1767 2640h0M1775 2626h0M1802 2562h0M1772 2618h0M1818 2578h0M1821 2559h0M1797 2584h0M1797 2566h0M1788 2605h0M1761 2635h0M1801 2593h0M1799 2589h0M1779 2568h0M1794 2606h0M1796 2592h0M1794 2608h0M1817 2559h0M1804 2577h0M1761 2652h0M1787 2569h0M1808 2599h0M1770 2632h0M1784 2602h0M1813 2564h0M1772 2614h0M1807 2597h0M1769 2631h0M1808 2559h0M1767 2612h0M1766 2617h0M1776 2578h0M1796 2573h0M1801 2594h0M1777 2564h0M1804 2582h0M1774 2588h0M1763 2612h0M1781 2593h0M1777 2620h0M1769 2607h0M1772 2639h0M1773 2637h0M1800 2593h0M1817 2586h0M1782 2574h0M1773 2620h0M1799 2570h0M1815 2570h0M1782 2580h0M1794 2603h0M1760 2642h0M1779 2623h0M1799 2581h0M1785 2583h0M1785 2578h0M1799 2610h0M1780 2615h0M1804 2552h0M1764 2614h0M1770 2632h0M1790 2602h0M1760 2630h0M1774 2599h0M1761 2605h0M1788 2575h0M1807 2570h0M1791 2593h0M1812 2554h0M1812 2560h0M1781 2610h0M1763 2633h0M1760 2644h0M1775 2597h0M1780 2576h0M1804 2571h0M1778 2590h0M1786 2582h0M1783 2593h0M1756 2635h0M1791 2587h0M1778 2577h0M1786 2568h0M1805 2597h0M1778 2609h0M1778 2576h0M1795 2608h0M1774 2598h0M1808 2590h0M1812 2587h0M1772 2618h0M1810 2579h0M1775 2633h0M1757 2627h0M1804 2589h0M1816 2551h0M1807 2591h0M1805 2584h0M1784 2591h0M1804 2550h0M1761 2635h0M1799 2603h0M1761 2639h0M1783 2584h0M1787 2619h0M1760 2625h0M1764 2607h0M1794 2600h0M1780 2606h0M1811 2582h0M1793 2596h0M1801 2568h0M1771 2623h0M1793 2571h0M1757 2634h0M1779 2622h0M1783 2611h0M1816 2593h0M1786 2568h0M1805 2554h0M1792 2604h0M1809 2553h0M1807 2567h0M1766 2602h0M1795 2556h0M1806 2607h0M1800 2583h0M1773 2638h0M1803 2572h0M1790 2571h0M1772 2599h0M1813 2560h0M1795 2603h0M1804 2602h0M1806 2571h0M1756 2646h0M1778 2623h0M1792 2581h0M1760 2647h0M1798 2551h0M1815 2554h0M1792 2556h0M1813 2549h0M1789 2563h0M1789 2582h0M1787 2564h0M1802 2589h0M1786 2604h0M1776 2620h0M1795 2610h0M1817 2552h0M1789 2607h0M1810 2588h0M1776 2581h0M1771 2607h0M1789 2580h0M1799 2593h0M1769 2640h0M1770 2596h0M1807 2579h0M1769 2615h0M1771 2600h0M1770 2640h0M1807 2602h0M1758 2627h0M1778 2582h0M1776 2630h0M1779 2574h0M1816 2558h0M1767 2640h0M1762 2622h0M1818 2564h0M1762 2618h0M1819 2593h0M1790 2605h0M1806 2601h0M1818 2552h0M1774 2627h0M1792 2575h0M1785 2609h0M1811 2594h0M1766 2647h0M1806 2587h0M1765 2624h0M1768 2631h0M1787 2615h0M1785 2563h0M1796 2583h0M1785 2612h0M1775 2582h0M1782 2602h0M1785 2579h0M1816 2568h0M1814 2561h0M1803 2569h0M1793 2560h0M1818 2574h0M1759 2619h0M1777 2605h0M1788 2585h0M1771 2606h0M1796 2594h0M1786 2614h0M1808 2569h0M1770 2643h0M1788 2590h0M1787 2596h0M1773 2636h0M1788 2581h0M1808 2562h0M1809 2576h0M1770 2644h0M1760 2651h0M1813 2577h0M1766 2619h0M1796 2556h0M1803 2549h0M1797 2597h0M1779 2582h0M1808 2568h0M1801 2600h0M1766 2614h0M1816 2575h0M1776 2574h0M1789 2597h0M1755 2638h0M1790 2595h0M1804 2570h0M1766 2607h0M1777 2601h0M1781 2588h0M1769 2595h0M1819 2556h0M1783 2619h0M1806 2604h0M1815 2570h0M1789 2564h0M1806 2549h0M1763 2604h0M1772 2622h0M1803 2578h0M1802 2593h0M1814 2549h0M1801 2591h0M1781 2615h0M1800 2611h0M1786 2608h0M1768 2638h0M1788 2588h0M1770 2630h0M1802 2592h0M1778 2591h0M1784 2578h0M1796 2588h0M1774 2628h0M1784 2595h0M1814 2593h0M1780 2617h0M1804 2575h0M1783 2615h0M1768 2628h0M1776 2621h0M1806 2571h0M1795 2567h0M1766 2644h0M1780 2608h0M1804 2607h0M1770 2621h0M1792 2603h0M1821 2558h0M1807 2579h0M1772 2605h0M1789 2597h0M1764 2612h0M1773 2632h0M1782 2559h0M1795 2594h0M1777 2627h0M1810 2585h0M1779 2615h0M1771 2597h0M1767 2620h0M1801 2580h0M1814 2567h0M1786 2577h0M1792 2610h0M1768 2611h0M1763 2649h0M1776 2591h0M1802 2567h0M1768 2622h0M1757 2636h0M1790 2607h0M1775 2594h0M1773 2605h0M1777 2582h0M1774 2608h0M1811 2595h0M1788 2577h0M1801 2598h0M1781 2586h0M1788 2594h0M1789 2602h0M1804 2593h0M1780 2604h0M1788 2577h0M1812 2600h0M1797 2555h0M1794 2607h0M1790 2580h0M1793 2613h0M1798 2566h0M1758 2627h0M1791 2554h0M1797 2572h0M1805 2549h0M1810 2563h0M1797 2611h0M1818 2547h0M1792 2585h0M1810 2571h0M1802 2563h0M1796 2585h0M1802 2597h0M1779 2601h0M1792 2569h0M1766 2623h0M1758 2638h0M1756 2634h0M1814 2585h0M1816 2547h0M1767 2613h0M1790 2584h0M1763 2605h0M1788 2586h0M1795 2564h0M1780 2603h0M1818 2557h0M1779 2621h0M1778 2621h0M1816 2547h0M1760 2651h0M1778 2610h0M1792 2557h0M1807 2549h0M1796 2574h0M1775 2610h0M1801 2564h0M1812 2565h0M1791 2580h0M1802 2568h0M1782 2578h0M1780 2577h0M1804 2594h0M1800 2559h0M1767 2611h0M1781 2563h0M1803 2606h0M1790 2557h0M1773 2628h0M1797 2594h0M1771 2609h0M1788 2599h0M1773 2593h0M1786 2587h0M1786 2582h0M1800 2559h0M1783 2575h0M1814 2596h0M1818 2580h0M1763 2629h0M1798 2595h0M1795 2595h0M1767 2614h0M1758 2645h0M1775 2623h0M1770 2604h0M1776 2589h0M1785 2556h0M1810 2598h0M1797 2583h0M1778 2562h0M1762 2620h0M1794 2610h0M1781 2614h0M1779 2588h0M1778 2614h0M1777 2582h0M1779 2614h0M1760 2631h0M1817 2576h0M1762 2613h0M1815 2552h0M1770 2627h0M1768 2640h0M1777 2595h0M1782 2573h0M1794 2578h0M1761 2632h0M1781 2560h0M1799 2560h0M1789 2588h0M1800 2606h0M1783 2594h0M1792 2574h0M1807 2579h0M1759 2640h0M1799 2588h0M1789 2565h0M1785 2571h0M1800 2554h0M1790 2607h0M1811 2585h0M1764 2634h0M1820 2562h0M1818 2566h0M1769 2642h0M1816 2595h0M1769 2614h0M1783 2593h0M1785 2584h0M1784 2618h0M1802 2579h0M1792 2559h0M1778 2577h0M1762 2608h0M1811 2585h0M1769 2623h0M1808 2552h0M1774 2593h0M1777 2595h0M1808 2572h0M1818 2562h0M1808 2556h0M1774 2592h0M1767 2642h0M1813 2599h0M1773 2589h0M1810 2550h0M1770 2624h0M1776 2568h0M1781 2603h0M1780 2605h0M1799 2580h0M1787 2584h0M1814 2582h0M1783 2601h0M1807 2604h0M1787 2581h0M1805 2598h0M1799 2594h0M1790 2607h0M1812 2548h0M1764 2605h0M1763 2626h0M1807 2573h0M1758 2621h0M1803 2549h0M1772 2617h0M1781 2595h0M1783 2609h0M1785 2614h0M1795 2581h0M1767 2624h0M1811 2547h0M1802 2595h0M1788 2573h0M1789 2616h0M1775 2613h0M1763 2650h0M1811 2547h0M1757 2623h0M1801 2583h0M1808 2594h0M1800 2603h0M1780 2570h0M1781 2620h0M1754 2639h0M1756 2689h0M1756 2668h0M1752 2652h0M1757 2682h0M1756 2684h0M1760 2670h0M1752 2704h0M1753 2663h0M1757 2653h0M1752 2670h0M1749 2681h0M1753 2693h0M1752 2703h0M1750 2678h0M1750 2648h0M1752 2698h0M1751 2675h0M1755 2663h0M1755 2651h0M1752 2664h0M1758 2681h0M1749 2680h0M1756 2682h0M1749 2702h0M1755 2663h0M1748 2685h0M1751 2660h0M1752 2682h0M1752 2685h0M1751 2694h0M1748 2680h0M1761 2655h0M1758 2677h0M1710 2494h0M1738 2497h0M1719 2697h0M1736 2514h0M1740 2646h0M1697 2662h0M1725 2581h0M1719 2550h0M1692 2688h0M1699 2662h0M1701 2531h0M1726 2502h0M1728 2628h0M1715 2583h0M1701 2702h0M1695 2674h0M1720 2511h0M1738 2541h0M1737 2676h0M1741 2543h0M1721 2500h0M1701 2693h0M1700 2507h0M1700 2534h0M1709 2627h0M1734 2510h0M1720 2501h0M1710 2670h0M1690 2673h0M1722 2609h0M1740 2702h0M1738 2539h0M1692 2613h0M1671 2644h0M1707 2499h0M1679 2652h0M1765 2535h0M1670 2669h0M1728 2595h0M1673 2633h0M1726 2633h0M1736 2670h0M1715 2694h0M1750 2537h0M1699 2501h0M1745 2595h0M1708 2683h0M1691 2627h0M1668 2641h0M1677 2616h0M1709 2501h0M1706 2521h0M1711 2502h0M1708 2519h0M1732 2631h0M1708 2678h0M1723 2580h0M1764 2535h0M1757 2523h0M1688 2627h0M1692 2625h0M1693 2659h0M1689 2684h0M1736 2689h0M1699 2703h0M1725 2546h0M1732 2558h0M1728 2543h0M1672 2663h0M1676 2658h0M1691 2570h0M1727 2699h0M1730 2619h0M1697 2574h0M1724 2544h0M1732 2683h0M1740 2539h0M1709 2679h0M1721 2605h0M1728 2613h0M1736 2614h0M1722 2541h0M1693 2618h0M1718 2590h0M1680 2666h0M1692 2534h0M1719 2527h0M1732 2623h0M1730 2596h0M1728 2555h0M1712 2643h0M1684 2653h0M1725 2708h0M1729 2612h0M1746 2553h0M1702 2586h0M1742 2650h0M1703 2508h0M1740 2627h0M1747 2586h0M1743 2624h0M1731 2612h0M1735 2614h0M1671 2640h0M1739 2585h0M1700 2525h0M1759 2528h0M1740 2526h0M1731 2592h0M1709 2684h0M1713 2613h0M1696 2703h0M1727 2549h0M1721 2684h0M1715 2553h0M1709 2583h0M1727 2549h0M1729 2595h0M1721 2564h0M1689 2649h0M1709 2642h0M1689 2682h0M1690 2684h0M1709 2578h0M1725 2606h0M1721 2614h0M1751 2550h0M1715 2678h0M1696 2599h0M1714 2513h0M1750 2550h0M1726 2509h0M1717 2643h0M1686 2643h0M1726 2657h0M1717 2528h0M1670 2634h0M1746 2589h0M1677 2641h0M1710 2609h0M1738 2677h0M1748 2544h0M1747 2512h0M1681 2615h0M1709 2672h0M1746 2599h0M1705 2516h0M1734 2696h0M1737 2560h0M1719 2568h0M1704 2662h0M1717 2521h0M1742 2545h0M1705 2544h0M1727 2585h0M1736 2584h0M1742 2523h0M1730 2515h0M1856 2573h0M1811 2723h0M1874 2699h0M1893 2616h0M1867 2593h0M1881 2624h0M1899 2590h0M1843 2540h0M1843 2732h0M1840 2579h0M1875 2606h0M1884 2693h0M1897 2602h0M1862 2587h0M1847 2740h0M1825 2622h0M1916 2629h0M1903 2648h0M1839 2693h0M1881 2611h0M1908 2693h0M1889 2634h0M1883 2728h0M1847 2698h0M1887 2641h0M1897 2636h0M1895 2560h0M1854 2721h0M1839 2607h0M1887 2658h0M1830 2557h0M1849 2734h0M1887 2685h0M1846 2741h0M1877 2574h0M1867 2632h0M1871 2535h0M1840 2719h0M1830 2565h0M1911 2617h0M1836 2609h0M1885 2548h0M1893 2606h0M1826 2733h0M1851 2531h0M1829 2594h0M1898 2705h0M1819 2610h0M1835 2570h0M1865 2552h0M1834 2590h0M1854 2746h0M1892 2623h0M1897 2694h0M1861 2694h0M1836 2748h0M1893 2712h0M1865 2741h0M1855 2749h0M1852 2749h0M1834 2644h0M1868 2652h0M1863 2617h0M1869 2540h0M1835 2599h0M1841 2619h0M1841 2637h0M1865 2645h0M1886 2608h0M1904 2682h0M1815 2592h0M1823 2528h0M1807 2534h0M1810 2532h0M1838 2543h0M1826 2532h0M1826 2532h0M1819 2534h0M1830 2537h0M1814 2530h0M1828 2528h0M1824 2539h0M1827 2526h0M1835 2546h0M1832 2550h0M1808 2534h0M1837 2543h0M1821 2539h0M1806 2530h0M1809 2542h0M1810 2537h0M1804 2534h0M1805 2547h0M1810 2543h0M1809 2534h0M1820 2540h0M1812 2529h0M1816 2533h0M1828 2538h0M1824 2544h0M1822 2547h0M1822 2526h0M1833 2542h0M1820 2556h0M1817 2540h0M1830 2539h0M1818 2549h0M1835 2539h0M1828 2543h0M1822 2531h0M1812 2532h0M1810 2531h0M1832 2546h0M1827 2549h0M1825 2548h0M1808 2537h0M1814 2550h0M1833 2537h0M1817 2547h0M1814 2532h0M1808 2544h0" stroke="#B038EC" stroke-width="5" stroke-linecap="round" fill="none"/>
<path d="M2094 2657h0M2068 2624h0M2055 2618h0M2102 2646h0M2076 2673h0M2094 2676h0M2069 2656h0M2040 2631h0M2039 2667h0M2075 2631h0M2093 2641h0M2094 2673h0M2040 2649h0M2072 2639h0M2047 2632h0M2064 2667h0M2091 2671h0M2095 2635h0M2049 2649h0M2091 2632h0M2048 2641h0M2044 2622h0M2080 2653h0M2041 2667h0M2064 2653h0M2103 2649h0M2038 2637h0M2067 2637h0M2048 2636h0M2038 2650h0M2083 2624h0M2074 2658h0M2109 2654h0M2050 2619h0M2092 2639h0M2055 2652h0M2085 2657h0M2085 2676h0M2085 2661h0M2052 2638h0M2083 2651h0M2030 2642h0M2040 2654h0M2041 2658h0M2094 2660h0M2039 2664h0M2053 2625h0M2067 2615h0M2104 2656h0M2060 2647h0M2042 2663h0M2098 2645h0M2033 2637h0M2102 2664h0M2032 2649h0M2077 2681h0M2064 2638h0M2073 2619h0M2063 2636h0M2077 2665h0M2080 2629h0M2052 2626h0M2082 2635h0M2056 2662h0M2074 2646h0M2074 2663h0M2094 2640h0M2087 2677h0M2072 2647h0M2068 2626h0M2080 2632h0M2053 2637h0M2084 2657h0M2051 2626h0M2041 2642h0M2094 2674h0M2045 2665h0M2045 2646h0M2039 2630h0M2098 2665h0M2071 2678h0M2184 2704h0M2180 2708h0M2274 2558h0M2212 2665h0M2239 2620h0M2238 2747h0M2281 2592h0M2204 2627h0M2226 2627h0M2262 2712h0M2242 2534h0M2221 2596h0M2223 2736h0M2213 2694h0M2252 2706h0M2262 2580h0M2248 2609h0M2216 2666h0M2221 2537h0M2243 2591h0M2234 2604h0M2277 2633h0M2190 2712h0M2226 2668h0M2207 2605h0M2200 2532h0M2209 2700h0M2278 2569h0M2222 2610h0M2266 2712h0M2263 2712h0M2163 2691h0M2275 2598h0M2236 2594h0M2256 2639h0M2275 2719h0M2187 2667h0M2254 2622h0M2270 2635h0M2292 2597h0M2195 2744h0M2225 2635h0M2173 2658h0M2215 2705h0M2257 2678h0M2272 2629h0M2202 2538h0M2216 2699h0M2294 2608h0M2269 2689h0M2199 2645h0M2255 2681h0M2272 2620h0M2286 2673h0M2238 2753h0M2240 2646h0M2280 2645h0M2212 2562h0M2225 2678h0M2211 2539h0M2239 2723h0M2282 2673h0M2191 2740h0M2240 2717h0M2184 2537h0M2233 2645h0M2278 2675h0M2228 2526h0M2282 2632h0M2251 2658h0M2224 2595h0M2254 2722h0M2192 2647h0M2210 2693h0M2214 2561h0M2264 2588h0M2214 2709h0M2211 2557h0M2217 2550h0M2234 2526h0M2184 2717h0M2239 2630h0M2195 2586h0M2262 2614h0M2215 2738h0M2206 2665h0M2226 2641h0M2272 2566h0M2208 2591h0M2190 2570h0M2242 2609h0M2245 2565h0M2206 2569h0M2272 2587h0M2201 2553h0M2236 2588h0M2252 2616h0M2241 2648h0M2285 2582h0M2275 2567h0M2235 2685h0M2215 2560h0M2262 2549h0M2217 2568h0M2256 2688h0M2267 2648h0M2242 2738h0M2216 2748h0M2199 2621h0M2220 2694h0M2239 2529h0M2211 2720h0M2219 2601h0M2194 2701h0M2166 2703h0M2198 2638h0M2272 2714h0M2264 2564h0M2179 2730h0M2236 2591h0M2215 2615h0M2274 2704h0M2219 2701h0M2269 2588h0M2186 2646h0M2168 2696h0M2207 2621h0M2280 2577h0M2238 2535h0M2265 2586h0M2208 2739h0M2286 2638h0M2238 2532h0M2210 2616h0M2244 2659h0M2188 2727h0M2230 2638h0M2211 2729h0M2218 2559h0M2213 2543h0M2202 2584h0M2289 2632h0M2203 2712h0M2244 2752h0M2214 2731h0M2183 2652h0M2230 2630h0M2241 2747h0M2200 2604h0M2292 2598h0M2200 2673h0M2185 2646h0M2192 2550h0M2251 2556h0M2208 2625h0M2256 2618h0M2252 2666h0M2257 2564h0M2208 2711h0M2274 2590h0M2264 2701h0M2217 2639h0M2207 2533h0M2213 2652h0M2269 2621h0M2188 2713h0M2221 2597h0M2230 2546h0M2193 2616h0" stroke="#D9B2EE" stroke-width="3.8" stroke-linecap="round" fill="none"/>
<path d="M2179 2558h0M2159 2594h0M2154 2610h0M2169 2551h0M2088 2612h0M2148 2606h0M2125 2602h0M2180 2559h0M2097 2609h0M2160 2595h0M2194 2536h0M2166 2540h0M2183 2543h0M2147 2623h0M2187 2567h0M2168 2596h0M2148 2602h0M2141 2577h0M2190 2545h0M2149 2591h0M2127 2603h0M2133 2577h0M2167 2614h0M2148 2585h0M2085 2623h0M2166 2541h0M2160 2614h0M2128 2596h0M2167 2596h0M2154 2570h0M2167 2626h0M2086 2603h0M2178 2556h0M2191 2554h0M2144 2601h0M2183 2561h0M2195 2551h0M2147 2566h0M2158 2562h0M2155 2562h0M2151 2610h0M2136 2621h0M2163 2562h0M2160 2616h0M2153 2622h0M2118 2625h0M2124 2593h0M2201 2536h0M2107 2596h0M2163 2550h0M2155 2565h0M2145 2595h0M2124 2633h0M2127 2584h0M2164 2569h0M2163 2538h0M2199 2544h0M2107 2599h0M2090 2620h0M2188 2557h0M2089 2604h0M2200 2553h0M2184 2555h0M2144 2591h0M2160 2542h0M2139 2617h0M2181 2558h0M2110 2593h0M2113 2607h0M2133 2587h0M2126 2620h0M2112 2621h0M2087 2624h0M2160 2545h0M2147 2623h0M2167 2638h0M2117 2582h0M2152 2586h0M2151 2640h0M2161 2645h0M2123 2575h0M2157 2602h0M2162 2638h0M2151 2597h0M2142 2572h0M2168 2537h0M2145 2557h0M2179 2544h0M2110 2623h0M2132 2575h0M2140 2602h0M2124 2634h0M2121 2585h0M2151 2598h0M2154 2587h0M2187 2562h0M2140 2612h0M2202 2562h0M2129 2588h0M2118 2593h0M2147 2573h0M2116 2630h0M2103 2599h0M2121 2603h0M2127 2611h0M2186 2547h0M2118 2611h0M2167 2638h0M2154 2570h0M2142 2629h0M2138 2608h0M2211 2539h0M2158 2602h0M2156 2551h0M2172 2592h0M2145 2588h0M2161 2614h0M2101 2609h0M2163 2546h0M2155 2549h0M2195 2561h0M2134 2613h0M2156 2570h0M2185 2553h0M2193 2537h0M2172 2591h0M2137 2601h0M2195 2536h0M2119 2631h0M2155 2551h0M2145 2583h0M2156 2631h0M2137 2641h0M2159 2645h0M2149 2611h0M2170 2556h0M2158 2624h0M2124 2615h0M2160 2585h0M2145 2599h0M2184 2549h0M2151 2556h0M2207 2556h0M2142 2623h0M2113 2615h0M2148 2571h0M2150 2620h0M2165 2575h0M2154 2626h0M2187 2568h0M2160 2584h0M2127 2573h0M2155 2604h0M2126 2617h0M2204 2556h0M2104 2621h0M2186 2573h0M2205 2548h0M2151 2648h0M2152 2636h0M2136 2609h0M2147 2616h0M2184 2557h0M2182 2553h0M2115 2603h0M2124 2598h0M2154 2593h0M2193 2554h0M2166 2555h0M2125 2625h0M2176 2549h0M2129 2620h0M2137 2572h0M2181 2546h0M2177 2542h0M2201 2542h0M2138 2574h0M2170 2589h0M2177 2584h0M2118 2582h0M2139 2604h0M2095 2611h0M2155 2585h0M2156 2571h0M2105 2601h0M2109 2598h0M2183 2576h0M2172 2582h0M2153 2561h0M2126 2585h0M2140 2630h0M2189 2560h0M2153 2554h0M2113 2606h0M2165 2605h0M2204 2535h0M2147 2596h0M2169 2610h0M2118 2583h0M2109 2607h0M2134 2586h0M2161 2618h0M2164 2606h0M2155 2630h0M2162 2643h0M2157 2593h0M2140 2627h0M2204 2545h0M2125 2599h0M2130 2582h0M2166 2565h0M2157 2638h0M2161 2603h0M2133 2621h0M2168 2595h0M2132 2620h0M2120 2605h0M2084 2607h0M2115 2612h0M2103 2630h0M2155 2619h0M2148 2598h0M2089 2610h0M2191 2563h0M2120 2621h0M2136 2634h0M2178 2546h0M2196 2538h0M2170 2570h0M2157 2605h0M2163 2642h0M2147 2582h0M2173 2589h0M2185 2555h0M2124 2574h0M2095 2606h0M2091 2611h0M2153 2564h0M2169 2616h0M2096 2621h0M2169 2635h0M2139 2625h0M2158 2625h0M2196 2549h0M2107 2601h0M2104 2594h0M2131 2614h0M2168 2603h0M2141 2613h0M2144 2591h0M2131 2585h0M2208 2538h0M2140 2575h0M2163 2640h0M2162 2556h0M2150 2564h0M2095 2609h0M2168 2623h0M2101 2601h0M2130 2574h0M2137 2593h0M2091 2615h0M2143 2587h0M2183 2541h0M2129 2589h0M2161 2583h0M2112 2599h0M2124 2617h0M2127 2622h0M2127 2623h0M2167 2622h0M2139 2608h0M2152 2636h0M2149 2639h0M2113 2591h0M2126 2605h0M2119 2605h0M2185 2565h0M2111 2599h0M2159 2636h0M2148 2625h0M2159 2546h0M2167 2538h0M2108 2617h0M2207 2558h0M2139 2579h0M2102 2625h0M2152 2622h0M2146 2560h0M2131 2574h0M2115 2592h0M2138 2587h0M2163 2592h0M2192 2545h0M2121 2632h0M2090 2615h0M2156 2541h0M2147 2598h0M2098 2615h0M2151 2629h0M2141 2573h0M2167 2580h0M2143 2561h0M2167 2640h0M2128 2576h0M2108 2615h0M2137 2584h0M2149 2560h0M2155 2635h0M2110 2592h0M2136 2569h0M2189 2574h0M2136 2643h0M2207 2558h0M2156 2635h0M2122 2629h0M2083 2605h0M2158 2567h0M2153 2559h0M2179 2582h0M2156 2617h0M2199 2551h0M2102 2626h0M2127 2574h0M2179 2546h0M2150 2609h0M2184 2561h0M2199 2537h0M2163 2601h0M2170 2585h0M2142 2587h0M2184 2544h0M2118 2590h0M2137 2604h0M2139 2640h0M2190 2562h0M2125 2597h0M2164 2616h0M2124 2628h0M2121 2616h0M2159 2602h0M2146 2592h0M2162 2574h0M2114 2601h0M2171 2562h0M2172 2583h0M2111 2616h0M2189 2558h0M2210 2542h0M2177 2533h0M2186 2547h0M2108 2591h0M2141 2614h0M2194 2556h0M2133 2600h0M2130 2634h0M2165 2564h0M2158 2567h0M2099 2625h0M2159 2608h0M2148 2550h0M2107 2627h0M2164 2553h0M2134 2643h0M2090 2623h0M2118 2619h0M2124 2628h0M2106 2623h0M2152 2543h0M2191 2555h0M2160 2611h0M2180 2533h0M2207 2562h0M2183 2542h0M2141 2625h0M2148 2551h0M2161 2595h0M2160 2574h0M2153 2607h0M2202 2565h0M2148 2639h0M2207 2570h0M2095 2618h0M2184 2580h0M2104 2637h0M2108 2638h0M2154 2558h0M2212 2548h0M2093 2629h0M2219 2550h0M2198 2540h0M2158 2650h0M2130 2620h0M2162 2637h0M2112 2641h0M2149 2541h0M2152 2649h0M2116 2613h0M2135 2620h0M2105 2636h0M2186 2579h0M2112 2609h0M2203 2574h0M2118 2635h0M2120 2648h0M2182 2534h0M2093 2631h0M2215 2539h0M2165 2639h0M2173 2648h0M2206 2550h0M2106 2641h0M2189 2554h0M2148 2542h0M2166 2545h0M2191 2591h0M2125 2588h0M2200 2553h0M2134 2561h0M2179 2533h0M2113 2591h0M2120 2586h0M2104 2589h0M2214 2566h0M2188 2575h0M2174 2642h0M2160 2537h0M2174 2560h0M2141 2619h0M2172 2647h0M2188 2607h0M2138 2654h0M2171 2533h0M2188 2567h0M2107 2630h0M2111 2596h0M2193 2534h0M2144 2581h0M2165 2597h0M2141 2629h0M2117 2612h0M2165 2548h0M2183 2605h0M2182 2587h0M2161 2547h0M2118 2580h0M2138 2646h0M2181 2540h0M2129 2633h0M2181 2559h0M2119 2614h0M2181 2532h0M2161 2575h0M2120 2580h0M2121 2631h0M2175 2637h0M2209 2544h0M2134 2608h0M2131 2571h0M2162 2644h0M2140 2577h0M2085 2615h0M2113 2641h0M2096 2622h0M2149 2610h0M2123 2597h0M2134 2589h0M2167 2605h0M2189 2571h0M2168 2571h0M2095 2616h0M2193 2559h0M2148 2607h0M2188 2570h0M2139 2639h0M2151 2591h0M2186 2529h0M2179 2594h0M2156 2639h0M2218 2559h0M2165 2563h0M2122 2585h0M2154 2538h0M2140 2650h0M2109 2611h0M2096 2595h0M2134 2637h0M2100 2612h0M2145 2554h0M2128 2560h0M2187 2560h0M2223 2553h0M2113 2610h0M2120 2613h0M2112 2600h0M2139 2651h0M2189 2530h0M2149 2555h0M2165 2630h0M2188 2572h0M2175 2590h0M2162 2534h0M2083 2625h0M2170 2647h0M2135 2605h0M2135 2641h0M2113 2591h0M2192 2575h0M2141 2548h0M2132 2573h0M2123 2611h0M2139 2623h0M2221 2535h0M2112 2623h0M2143 2570h0M2198 2537h0M2173 2530h0M2163 2589h0M2126 2604h0M2134 2624h0M2090 2599h0M2151 2644h0M2118 2578h0M2177 2606h0M2145 2605h0M2136 2596h0M2183 2578h0M2211 2554h0M2203 2571h0M2075 2631h0M2150 2649h0M2065 2616h0M2062 2664h0M2049 2661h0M2048 2662h0M2046 2641h0M2097 2654h0M2073 2646h0M2083 2672h0M2040 2639h0M2071 2624h0M2038 2660h0M2056 2637h0M2040 2667h0M2060 2661h0M2043 2663h0M2072 2621h0M2040 2631h0M2062 2652h0M2045 2651h0M2072 2643h0M2084 2650h0M2035 2645h0M2081 2650h0M2073 2636h0M2102 2647h0M2050 2659h0M2088 2648h0M2082 2622h0M2100 2646h0M2090 2632h0M2091 2635h0M2108 2657h0M2091 2653h0M2093 2633h0M2061 2661h0M2034 2634h0M2045 2626h0M2076 2643h0M2079 2661h0M2066 2676h0M2065 2646h0M2050 2667h0M2050 2636h0M2066 2614h0M2047 2643h0M2047 2658h0M2055 2648h0M2034 2638h0M2100 2644h0M2043 2629h0M2067 2655h0M2072 2675h0M2105 2671h0M2074 2664h0M2047 2676h0M2053 2621h0M2077 2639h0M2051 2636h0M2089 2658h0M2070 2650h0M2052 2653h0M2074 2677h0M2085 2647h0M2047 2640h0M2096 2647h0M2084 2626h0M2057 2627h0M2058 2633h0M2061 2663h0M2094 2679h0M2081 2673h0M2043 2630h0M2038 2632h0M2085 2667h0M2067 2653h0M2083 2663h0M2065 2639h0M2073 2655h0M2040 2646h0M2071 2668h0M2090 2658h0M2071 2625h0M2058 2635h0M2069 2618h0M2058 2634h0M2070 2659h0M2103 2663h0M2055 2659h0M2095 2674h0M2080 2677h0M2085 2641h0M2060 2671h0M2104 2670h0M2087 2636h0M2072 2641h0M2066 2669h0M2076 2662h0M2086 2630h0M2104 2658h0M2059 2620h0M2053 2623h0M2037 2629h0M2037 2635h0M2078 2640h0M2087 2630h0M2084 2633h0M2065 2631h0M2037 2629h0M2046 2640h0M2057 2635h0M2094 2641h0M2105 2664h0M2103 2644h0M2057 2655h0M2086 2673h0M2075 2622h0M2039 2652h0M2054 2635h0M2077 2661h0M2085 2646h0M2251 2553h0M2221 2624h0M2195 2652h0M2206 2658h0M2205 2694h0M2279 2669h0M2273 2633h0M2187 2540h0M2261 2545h0M2229 2625h0M2176 2689h0M2274 2622h0M2236 2616h0M2241 2754h0M2192 2665h0M2210 2653h0M2194 2566h0M2231 2717h0M2291 2621h0M2269 2556h0M2283 2641h0M2240 2673h0M2261 2573h0M2208 2654h0M2245 2695h0M2191 2569h0M2251 2624h0M2280 2712h0M2274 2563h0M2208 2606h0M2201 2567h0M2222 2724h0M2186 2559h0M2211 2548h0M2284 2634h0M2223 2548h0M2214 2668h0M2224 2724h0M2172 2660h0M2202 2622h0M2241 2721h0M2233 2543h0M2269 2549h0M2174 2681h0M2214 2724h0M2222 2708h0M2267 2618h0M2207 2584h0M2254 2611h0M2255 2550h0M2190 2653h0M2274 2626h0M2207 2607h0M2219 2557h0M2216 2557h0M2180 2661h0M2237 2589h0M2255 2649h0M2188 2728h0M2237 2556h0M2227 2534h0M2202 2734h0M2213 2642h0M2222 2757h0M2271 2581h0M2242 2636h0M2190 2569h0M2216 2717h0M2255 2612h0M2270 2723h0M2206 2741h0M2208 2574h0M2280 2713h0M2190 2648h0M2181 2706h0M2282 2609h0M2283 2630h0M2242 2739h0M2202 2651h0M2260 2570h0M2288 2623h0M2196 2566h0M2220 2581h0M2189 2631h0M2217 2755h0M2217 2533h0M2168 2693h0M2231 2664h0M2290 2593h0M2237 2700h0M2202 2632h0M2189 2665h0M2266 2656h0M2276 2580h0M2267 2691h0M2277 2654h0M2201 2614h0M2257 2592h0M2229 2707h0M2210 2609h0M2174 2683h0M2218 2611h0M2187 2724h0M2196 2537h0M2202 2655h0M2283 2644h0M2277 2620h0M2274 2579h0M2212 2577h0M2211 2640h0M2215 2590h0M2259 2674h0M2201 2579h0M2212 2573h0M2225 2588h0M2231 2756h0M2184 2714h0M2270 2604h0M2281 2618h0M2241 2708h0M2263 2657h0M2206 2562h0M2216 2751h0M2226 2757h0M2229 2677h0M2242 2657h0M2248 2640h0M2217 2749h0M2212 2671h0M2289 2592h0M2226 2528h0M2282 2658h0M2247 2752h0M2200 2623h0M2267 2590h0M2176 2652h0M2292 2606h0M2178 2729h0M2184 2724h0M2211 2585h0M2271 2578h0M2288 2586h0M2217 2723h0M2275 2645h0M2242 2748h0M2209 2746h0M2233 2540h0M2106 2514h0M2083 2510h0M2103 2534h0M2075 2530h0M2077 2541h0M2119 2529h0M2091 2525h0M2131 2503h0M2126 2511h0M2133 2529h0M2130 2511h0M2113 2516h0M2080 2519h0M2116 2502h0M2124 2499h0M2089 2520h0M2148 2512h0M2130 2707h0M2108 2711h0M2112 2687h0M2115 2689h0M2129 2692h0M2111 2688h0M2117 2702h0M2110 2709h0M2130 2691h0M2111 2692h0M2116 2700h0M2114 2704h0M2129 2704h0M2107 2702h0M2119 2702h0M2111 2698h0M2113 2705h0M2132 2700h0M2114 2688h0M2108 2694h0M2119 2706h0" stroke="#B038EC" stroke-width="5" stroke-linecap="round" fill="none"/>
<path d="M1768 2819h0M1905 2887h0M1824 2977h0M1779 3004h0M1703 2937h0M1801 2918h0M1832 2903h0M1822 2871h0M1755 2850h0M1862 3046h0M1907 2884h0M1922 2909h0M1861 2976h0M1918 2985h0M1680 2918h0M1787 3014h0M1758 2946h0M1674 2945h0M1901 2924h0M1781 3055h0M1897 3002h0M1735 2824h0M1895 2943h0M1821 2900h0M1835 2871h0M1871 2967h0M1881 2914h0M1834 2884h0M1773 2856h0M1789 2918h0M1786 2964h0M1690 2856h0M1750 2929h0M1724 3007h0M1847 3025h0M1825 2924h0M1807 2854h0M1810 2922h0" stroke="#D9B2EE" stroke-width="3.8" stroke-linecap="round" fill="none"/>
<path d="M1768 3022h0M1891 2941h0M1726 2839h0M1794 2983h0M1766 2980h0M1763 2973h0M1839 2890h0M1919 2948h0M1924 3016h0M1807 2888h0M1735 2873h0M1885 2978h0M1803 2968h0M1779 3056h0M1815 2949h0M1780 2980h0M1907 2926h0M1785 2941h0M1817 3017h0M1871 2896h0M1707 3003h0M1806 2871h0M1731 2840h0M1820 2948h0M1689 2949h0M1893 2866h0M1839 2917h0M1701 2969h0M1920 2991h0M1916 2966h0M1867 3042h0M1712 2922h0M1895 2984h0M1772 3054h0M1822 2941h0M1822 2951h0M1876 3010h0M1792 3009h0M1722 2900h0M1917 2993h0M1747 2914h0M1722 3018h0M1832 3005h0M1773 2808h0M1758 2877h0M1767 2887h0M1756 3033h0M1813 2882h0M1840 3001h0M1760 2988h0M1745 2917h0M1809 2936h0M1868 2863h0M1840 2948h0M1897 3037h0M1882 2947h0M1739 3022h0M1774 2887h0M1739 3015h0M1782 2994h0M1777 3006h0M1786 2913h0M1811 2883h0M1750 2891h0M1778 2999h0M1754 3011h0M1767 2989h0M1736 2932h0M1745 3020h0M1728 2991h0M1783 3022h0M1803 2960h0M1806 2976h0M1772 3021h0M1722 2887h0M1733 3013h0M1804 3024h0M1781 2963h0M1768 2953h0M1756 3011h0M1713 3003h0M1756 2996h0M1807 2896h0M1715 2932h0M1780 3010h0M1791 2930h0M1805 2972h0M1798 2968h0M1759 2954h0M1792 3025h0M1754 2952h0M1767 2926h0M1711 3005h0M1721 2881h0M1701 2990h0M1757 2982h0M1770 2979h0M1731 2908h0" stroke="#B038EC" stroke-width="5" stroke-linecap="round" fill="none"/>
<path d="M2142 2905h0M2137 2909h0M2131 2914h0M2142 2901h0M2139 2901h0M2130 2912h0M2143 2901h0M2130 2913h0M2138 2905h0M2138 2901h0M2137 2913h0M2132 2902h0M2138 2909h0M2140 2907h0M2136 2911h0M2143 2900h0M2129 2901h0M2145 2902h0M2143 2901h0M2130 2903h0M2221 2843h0M2226 2839h0M2224 2842h0M2228 2842h0M2225 2838h0" stroke="#B038EC" stroke-width="5" stroke-linecap="round" fill="none"/>
<text x="421.8" y="95.3" font-size="49" text-anchor="middle" textLength="169" lengthAdjust="spacingAndGlyphs" fill="#1a1a1a" stroke="#1a1a1a" stroke-width="0.6">Control</text>
<text x="994.8" y="95.3" font-size="49" text-anchor="middle" textLength="197.5" lengthAdjust="spacingAndGlyphs" fill="#1a1a1a" stroke="#1a1a1a" stroke-width="0.6">l(2)gl KD</text>
<text x="1538.5" y="95.3" font-size="49" text-anchor="middle" textLength="196" lengthAdjust="spacingAndGlyphs" fill="#1a1a1a" stroke="#1a1a1a" stroke-width="0.6">NICD OE</text>
<text x="2138" y="95.3" font-size="49" text-anchor="middle" textLength="449.7" lengthAdjust="spacingAndGlyphs" fill="#1a1a1a" stroke="#1a1a1a" stroke-width="0.6">NICD OE + l(2)gl KD</text>
<text x="421.8" y="1607.3" font-size="49" text-anchor="middle" textLength="169" lengthAdjust="spacingAndGlyphs" fill="#1a1a1a" stroke="#1a1a1a" stroke-width="0.6">Control</text>
<text x="994.8" y="1607.3" font-size="49" text-anchor="middle" textLength="197.5" lengthAdjust="spacingAndGlyphs" fill="#1a1a1a" stroke="#1a1a1a" stroke-width="0.6">l(2)gl KD</text>
<text x="1538.5" y="1607.3" font-size="49" text-anchor="middle" textLength="196" lengthAdjust="spacingAndGlyphs" fill="#1a1a1a" stroke="#1a1a1a" stroke-width="0.6">NICD OE</text>
<text x="2138" y="1607.3" font-size="49" text-anchor="middle" textLength="449.7" lengthAdjust="spacingAndGlyphs" fill="#1a1a1a" stroke="#1a1a1a" stroke-width="0.6">NICD OE + l(2)gl KD</text>
<path d="M137.4 437.8 V675.7 H381.4" fill="none" stroke="#444" stroke-width="2.2"/>
<text x="183" y="726" font-size="45" textLength="156" lengthAdjust="spacingAndGlyphs" fill="#444">UMAP1</text>
<g transform="translate(130.5 640.5) rotate(-90)"><text x="0" y="0" font-size="47" textLength="163" lengthAdjust="spacingAndGlyphs" fill="#444">UMAP2</text></g>
<path d="M137.4 1942.8 V2180.7 H381.4" fill="none" stroke="#444" stroke-width="2.2"/>
<text x="183" y="2231" font-size="45" textLength="156" lengthAdjust="spacingAndGlyphs" fill="#444">UMAP1</text>
<g transform="translate(130.5 2145.5) rotate(-90)"><text x="0" y="0" font-size="47" textLength="163" lengthAdjust="spacingAndGlyphs" fill="#444">UMAP2</text></g>
<text x="564.5" y="768.2" font-size="51" textLength="257" lengthAdjust="spacingAndGlyphs" fill="#000">Mitotic FCs</text>
<path d="M591.7 535L684.1 713.3" stroke="#000" stroke-width="3"/>
<text x="408" y="2278" font-size="57" textLength="500" lengthAdjust="spacingAndGlyphs" fill="#000">Pre-CL &amp; CL Cells</text>
<path d="M364.6 1921.9L577.6 2202" stroke="#000" stroke-width="2.5"/>
<text x="1787" y="2278" font-size="57" text-anchor="end" textLength="590" lengthAdjust="spacingAndGlyphs" fill="#000">CL-like surviving FCs</text>
<path d="M1487.3 1936.3L1507.5 2193.3" stroke="#000" stroke-width="2.5"/>
<circle cx="2462" cy="1913" r="5" fill="#B038EC"/>
<circle cx="459.6" cy="896.3" r="7.5" fill="#6495ED"/>
<circle cx="505.3" cy="896.3" r="11" fill="#6495ED"/>
<circle cx="551" cy="896.3" r="11.8" fill="#6E9BEB"/>
<circle cx="596.6" cy="896.3" r="9.3" fill="#6495ED"/>
<circle cx="642.3" cy="896.3" r="13.5" fill="#6495ED"/>
<circle cx="688" cy="896.3" r="13.5" fill="#6495ED"/>
<circle cx="733.7" cy="896.3" r="10.3" fill="#6495ED"/>
<circle cx="779.4" cy="896.3" r="7.8" fill="#6495ED"/>
<circle cx="825" cy="896.3" r="7.8" fill="#6495ED"/>
<circle cx="870.7" cy="896.3" r="14.2" fill="#8CA5E4"/>
<circle cx="916.4" cy="896.3" r="12.7" fill="#6495ED"/>
<circle cx="962.1" cy="896.3" r="9.7" fill="#6495ED"/>
<circle cx="1007.8" cy="896.3" r="7.1" fill="#6495ED"/>
<circle cx="1053.4" cy="896.3" r="9.7" fill="#6495ED"/>
<circle cx="1099.1" cy="896.3" r="7.5" fill="#6495ED"/>
<circle cx="1144.8" cy="896.3" r="8.4" fill="#6495ED"/>
<circle cx="1190.5" cy="896.3" r="8.4" fill="#6495ED"/>
<circle cx="1236.2" cy="896.3" r="8.4" fill="#8CA5E4"/>
<circle cx="1281.8" cy="896.3" r="11.8" fill="#D3D3D3"/>
<circle cx="1327.5" cy="896.3" r="9.3" fill="#D3D3D3"/>
<circle cx="1373.2" cy="896.3" r="6.7" fill="#D3D3D3"/>
<circle cx="1418.9" cy="896.3" r="8.8" fill="#D3D3D3"/>
<circle cx="1464.6" cy="896.3" r="4.9" fill="#C8C8D2"/>
<circle cx="1510.2" cy="896.3" r="5.2" fill="#AFB9E1"/>
<circle cx="1555.9" cy="896.3" r="8.8" fill="#AFB9E1"/>
<circle cx="1601.6" cy="896.3" r="13.9" fill="#6495ED"/>
<circle cx="1647.3" cy="896.3" r="13.9" fill="#6495ED"/>
<circle cx="1693" cy="896.3" r="12.3" fill="#6495ED"/>
<circle cx="1738.6" cy="896.3" r="7.9" fill="#6495ED"/>
<circle cx="1784.3" cy="896.3" r="7.4" fill="#6F9BEA"/>
<circle cx="1830" cy="896.3" r="7.9" fill="#6495ED"/>
<circle cx="1875.7" cy="896.3" r="10.2" fill="#6495ED"/>
<circle cx="1921.4" cy="896.3" r="12.3" fill="#D3D3D3"/>
<circle cx="1967" cy="896.3" r="13.9" fill="#D3D3D3"/>
<circle cx="2012.7" cy="896.3" r="11.2" fill="#D3D3D3"/>
<circle cx="2058.4" cy="896.3" r="7.4" fill="#D3D3D3"/>
<circle cx="2104.1" cy="896.3" r="6.9" fill="#D3D3D3"/>
<circle cx="459.6" cy="994.2" r="9.9" fill="#D3D3D3"/>
<circle cx="505.3" cy="994.2" r="12.2" fill="#D3D3D3"/>
<circle cx="551" cy="994.2" r="13.8" fill="#D3D3D3"/>
<circle cx="596.6" cy="994.2" r="11.3" fill="#D3D3D3"/>
<circle cx="642.3" cy="994.2" r="13.5" fill="#D3D3D3"/>
<circle cx="688" cy="994.2" r="14.2" fill="#D3D3D3"/>
<circle cx="733.7" cy="994.2" r="13.3" fill="#D3D3D3"/>
<circle cx="779.4" cy="994.2" r="11.6" fill="#D3D3D3"/>
<circle cx="825" cy="994.2" r="11.8" fill="#D3D3D3"/>
<circle cx="870.7" cy="994.2" r="13.9" fill="#D3D3D3"/>
<circle cx="916.4" cy="994.2" r="12.9" fill="#D3D3D3"/>
<circle cx="962.1" cy="994.2" r="13.6" fill="#D3D3D3"/>
<circle cx="1007.8" cy="994.2" r="10.9" fill="#D3D3D3"/>
<circle cx="1053.4" cy="994.2" r="13.9" fill="#D3D3D3"/>
<circle cx="1099.1" cy="994.2" r="12.7" fill="#D3D3D3"/>
<circle cx="1144.8" cy="994.2" r="12.2" fill="#D3D3D3"/>
<circle cx="1190.5" cy="994.2" r="13.6" fill="#D3D3D3"/>
<circle cx="1236.2" cy="994.2" r="11.8" fill="#D3D3D3"/>
<circle cx="1281.8" cy="994.2" r="13.6" fill="#D3D3D3"/>
<circle cx="1327.5" cy="994.2" r="7.8" fill="#D3D3D3"/>
<circle cx="1373.2" cy="994.2" r="11.3" fill="#D3D3D3"/>
<circle cx="1418.9" cy="994.2" r="11.8" fill="#D3D3D3"/>
<circle cx="1464.6" cy="994.2" r="9.7" fill="#D3D3D3"/>
<circle cx="1510.2" cy="994.2" r="11.3" fill="#D3D3D3"/>
<circle cx="1555.9" cy="994.2" r="10.9" fill="#D3D3D3"/>
<circle cx="1601.6" cy="994.2" r="13.9" fill="#D3D3D3"/>
<circle cx="1647.3" cy="994.2" r="13.9" fill="#D3D3D3"/>
<circle cx="1693" cy="994.2" r="11.8" fill="#D3D3D3"/>
<circle cx="1738.6" cy="994.2" r="12.3" fill="#D3D3D3"/>
<circle cx="1784.3" cy="994.2" r="13.4" fill="#D3D3D3"/>
<circle cx="1830" cy="994.2" r="10.7" fill="#D3D3D3"/>
<circle cx="1875.7" cy="994.2" r="10.2" fill="#D3D3D3"/>
<circle cx="1921.4" cy="994.2" r="11.8" fill="#D3D3D3"/>
<circle cx="1967" cy="994.2" r="13.9" fill="#D3D3D3"/>
<circle cx="2012.7" cy="994.2" r="11.8" fill="#D3D3D3"/>
<circle cx="2058.4" cy="994.2" r="9.5" fill="#D3D3D3"/>
<circle cx="2104.1" cy="994.2" r="9" fill="#D3D3D3"/>
<circle cx="459.6" cy="1092.3" r="3.9" fill="#D3D3D3"/>
<circle cx="505.3" cy="1092.3" r="7.1" fill="#D3D3D3"/>
<circle cx="551" cy="1092.3" r="13.8" fill="#D3D3D3"/>
<circle cx="596.6" cy="1092.3" r="7.8" fill="#D3D3D3"/>
<circle cx="642.3" cy="1092.3" r="13.5" fill="#D3D3D3"/>
<circle cx="688" cy="1092.3" r="14.2" fill="#D3D3D3"/>
<circle cx="733.7" cy="1092.3" r="12.2" fill="#D3D3D3"/>
<circle cx="779.4" cy="1092.3" r="7.1" fill="#D3D3D3"/>
<circle cx="825" cy="1092.3" r="5.4" fill="#D3D3D3"/>
<circle cx="870.7" cy="1092.3" r="1.2" fill="#6495ED"/>
<circle cx="916.4" cy="1092.3" r="12.7" fill="#D3D3D3"/>
<circle cx="962.1" cy="1092.3" r="10.1" fill="#D3D3D3"/>
<circle cx="1007.8" cy="1092.3" r="4.9" fill="#D3D3D3"/>
<circle cx="1053.4" cy="1092.3" r="10.9" fill="#D3D3D3"/>
<circle cx="1099.1" cy="1092.3" r="6.5" fill="#C8CAD7"/>
<circle cx="1144.8" cy="1092.3" r="9.7" fill="#D3D3D3"/>
<circle cx="1190.5" cy="1092.3" r="8.4" fill="#D3D3D3"/>
<circle cx="1236.2" cy="1092.3" r="7.8" fill="#7DA0E8"/>
<circle cx="1281.8" cy="1092.3" r="11.3" fill="#6495ED"/>
<circle cx="1327.5" cy="1092.3" r="9.7" fill="#6495ED"/>
<circle cx="1373.2" cy="1092.3" r="5.8" fill="#D3D3D3"/>
<circle cx="1418.9" cy="1092.3" r="8" fill="#D3D3D3"/>
<circle cx="1464.6" cy="1092.3" r="4.2" fill="#AAB4DC"/>
<circle cx="1510.2" cy="1092.3" r="4.5" fill="#D3D3D3"/>
<circle cx="1555.9" cy="1092.3" r="3.2" fill="#D3D3D3"/>
<circle cx="1601.6" cy="1092.3" r="13.4" fill="#D3D3D3"/>
<circle cx="1647.3" cy="1092.3" r="13.2" fill="#D3D3D3"/>
<circle cx="1693" cy="1092.3" r="11.2" fill="#D3D3D3"/>
<circle cx="1738.6" cy="1092.3" r="6.2" fill="#D3D3D3"/>
<circle cx="1784.3" cy="1092.3" r="9.5" fill="#A5B2DE"/>
<circle cx="1830" cy="1092.3" r="9" fill="#B4BCDE"/>
<circle cx="1875.7" cy="1092.3" r="6.9" fill="#8CA5E4"/>
<circle cx="1921.4" cy="1092.3" r="13.9" fill="#6495ED"/>
<circle cx="1967" cy="1092.3" r="13.9" fill="#6495ED"/>
<circle cx="2012.7" cy="1092.3" r="11.5" fill="#789EEB"/>
<circle cx="2058.4" cy="1092.3" r="4.1" fill="#82A0E6"/>
<circle cx="2104.1" cy="1092.3" r="9.5" fill="#D3D3D3"/>
<circle cx="459.6" cy="1190.2" r="7.1" fill="#A0AFE1"/>
<circle cx="505.3" cy="1190.2" r="8.4" fill="#AAB4DE"/>
<circle cx="551" cy="1190.2" r="11.3" fill="#7DA0E8"/>
<circle cx="596.6" cy="1190.2" r="8.5" fill="#82A0E8"/>
<circle cx="642.3" cy="1190.2" r="11.8" fill="#A0AFDE"/>
<circle cx="688" cy="1190.2" r="12.9" fill="#BEC3DC"/>
<circle cx="733.7" cy="1190.2" r="9.9" fill="#D3D3D3"/>
<circle cx="779.4" cy="1190.2" r="7.8" fill="#D3D3D3"/>
<circle cx="825" cy="1190.2" r="7.8" fill="#D3D3D3"/>
<circle cx="870.7" cy="1190.2" r="14.2" fill="#D3D3D3"/>
<circle cx="916.4" cy="1190.2" r="12.2" fill="#D3D3D3"/>
<circle cx="962.1" cy="1190.2" r="10.9" fill="#D3D3D3"/>
<circle cx="1007.8" cy="1190.2" r="6.5" fill="#B9C3E1"/>
<circle cx="1053.4" cy="1190.2" r="10.6" fill="#D3D3D3"/>
<circle cx="1099.1" cy="1190.2" r="7.1" fill="#D3D3D3"/>
<circle cx="1144.8" cy="1190.2" r="8.8" fill="#D3D3D3"/>
<circle cx="1190.5" cy="1190.2" r="8.8" fill="#D3D3D3"/>
<circle cx="1236.2" cy="1190.2" r="9" fill="#D3D3D3"/>
<circle cx="1281.8" cy="1190.2" r="13.2" fill="#D3D3D3"/>
<circle cx="1327.5" cy="1190.2" r="9" fill="#D3D3D3"/>
<circle cx="1373.2" cy="1190.2" r="7.1" fill="#6495ED"/>
<circle cx="1418.9" cy="1190.2" r="8" fill="#6495ED"/>
<circle cx="1464.6" cy="1190.2" r="5.8" fill="#789BE8"/>
<circle cx="1510.2" cy="1190.2" r="6.2" fill="#6495ED"/>
<circle cx="1555.9" cy="1190.2" r="7.8" fill="#6495ED"/>
<circle cx="1601.6" cy="1190.2" r="13.9" fill="#D3D3D3"/>
<circle cx="1647.3" cy="1190.2" r="13.9" fill="#D3D3D3"/>
<circle cx="1693" cy="1190.2" r="11.5" fill="#D3D3D3"/>
<circle cx="1738.6" cy="1190.2" r="7.9" fill="#D3D3D3"/>
<circle cx="1784.3" cy="1190.2" r="9" fill="#D3D3D3"/>
<circle cx="1830" cy="1190.2" r="8.5" fill="#D3D3D3"/>
<circle cx="1875.7" cy="1190.2" r="7.4" fill="#D3D3D3"/>
<circle cx="1921.4" cy="1190.2" r="13.4" fill="#D3D3D3"/>
<circle cx="1967" cy="1190.2" r="13.9" fill="#CDCFD7"/>
<circle cx="2012.7" cy="1190.2" r="9.5" fill="#8CA5E4"/>
<circle cx="2058.4" cy="1190.2" r="7.4" fill="#789BEB"/>
<circle cx="2104.1" cy="1190.2" r="6.2" fill="#6495ED"/>
<path d="M431.8 839V1248.2H2129.6" fill="none" stroke="#333" stroke-width="2.2"/>
<path d="M425 896.3H431.8M425 994.2H431.8M425 1092.3H431.8M425 1190.2H431.8M459.6 1248.2V1255M505.3 1248.2V1255M551 1248.2V1255M596.6 1248.2V1255M642.3 1248.2V1255M688 1248.2V1255M733.7 1248.2V1255M779.4 1248.2V1255M825 1248.2V1255M870.7 1248.2V1255M916.4 1248.2V1255M962.1 1248.2V1255M1007.8 1248.2V1255M1053.4 1248.2V1255M1099.1 1248.2V1255M1144.8 1248.2V1255M1190.5 1248.2V1255M1236.2 1248.2V1255M1281.8 1248.2V1255M1327.5 1248.2V1255M1373.2 1248.2V1255M1418.9 1248.2V1255M1464.6 1248.2V1255M1510.2 1248.2V1255M1555.9 1248.2V1255M1601.6 1248.2V1255M1647.3 1248.2V1255M1693 1248.2V1255M1738.6 1248.2V1255M1784.3 1248.2V1255M1830 1248.2V1255M1875.7 1248.2V1255M1921.4 1248.2V1255M1967 1248.2V1255M2012.7 1248.2V1255M2058.4 1248.2V1255M2104.1 1248.2V1255" stroke="#333" stroke-width="2.2"/>
<text x="407" y="915.8" font-size="38.5" text-anchor="end" textLength="353.3" lengthAdjust="spacingAndGlyphs" fill="#1a1a1a" stroke="#1a1a1a" stroke-width="0.5">NICD OE + l(2)gl KD</text>
<text x="407" y="1009" font-size="38.5" text-anchor="end" textLength="155.5" lengthAdjust="spacingAndGlyphs" fill="#1a1a1a" stroke="#1a1a1a" stroke-width="0.5">l(2)gl KD</text>
<text x="406.3" y="1102.8" font-size="38.5" text-anchor="end" textLength="155.5" lengthAdjust="spacingAndGlyphs" fill="#1a1a1a" stroke="#1a1a1a" stroke-width="0.5">NICD OE</text>
<text x="408" y="1201.4" font-size="38.5" text-anchor="end" textLength="133" lengthAdjust="spacingAndGlyphs" fill="#1a1a1a" stroke="#1a1a1a" stroke-width="0.5">Control</text>
<g font-size="29" fill="#333"><text transform="translate(472.6 1282) rotate(-45)" text-anchor="end">Gnf1</text><text transform="translate(518.3 1282) rotate(-45)" text-anchor="end">CG8142</text><text transform="translate(564 1282) rotate(-45)" text-anchor="end">RfC4</text><text transform="translate(609.6 1282) rotate(-45)" text-anchor="end">dpa</text><text transform="translate(655.3 1282) rotate(-45)" text-anchor="end">Caf1-55</text><text transform="translate(701 1282) rotate(-45)" text-anchor="end">RPA3</text><text transform="translate(746.7 1282) rotate(-45)" text-anchor="end">RPA2</text><text transform="translate(792.4 1282) rotate(-45)" text-anchor="end">RfC38</text><text transform="translate(838 1282) rotate(-45)" text-anchor="end">mre11</text><text transform="translate(883.7 1282) rotate(-45)" text-anchor="end">corolla</text><text transform="translate(929.4 1282) rotate(-45)" text-anchor="end">PCNA</text><text transform="translate(975.1 1282) rotate(-45)" text-anchor="end">gpp</text><text transform="translate(1020.8 1282) rotate(-45)" text-anchor="end">CG6171</text><text transform="translate(1066.4 1282) rotate(-45)" text-anchor="end">Rrp1</text><text transform="translate(1112.1 1282) rotate(-45)" text-anchor="end">Mcm2</text><text transform="translate(1157.8 1282) rotate(-45)" text-anchor="end">Mcm3</text><text transform="translate(1203.5 1282) rotate(-45)" text-anchor="end">Mcm5</text><text transform="translate(1249.2 1282) rotate(-45)" text-anchor="end">Caf1-180</text><text transform="translate(1294.8 1282) rotate(-45)" text-anchor="end">rgn</text><text transform="translate(1340.5 1282) rotate(-45)" text-anchor="end">Xrp1</text><text transform="translate(1386.2 1282) rotate(-45)" text-anchor="end">lok</text><text transform="translate(1431.9 1282) rotate(-45)" text-anchor="end">RpA-70</text><text transform="translate(1477.6 1282) rotate(-45)" text-anchor="end">Xpc</text><text transform="translate(1523.2 1282) rotate(-45)" text-anchor="end">SMC5</text><text transform="translate(1568.9 1282) rotate(-45)" text-anchor="end">rad50</text><text transform="translate(1614.6 1282) rotate(-45)" text-anchor="end">sesB</text><text transform="translate(1660.3 1282) rotate(-45)" text-anchor="end">porin</text><text transform="translate(1706 1282) rotate(-45)" text-anchor="end">SkpA</text><text transform="translate(1751.6 1282) rotate(-45)" text-anchor="end">spi</text><text transform="translate(1797.3 1282) rotate(-45)" text-anchor="end">Det</text><text transform="translate(1843 1282) rotate(-45)" text-anchor="end">Egfr</text><text transform="translate(1888.7 1282) rotate(-45)" text-anchor="end">puc</text><text transform="translate(1934.4 1282) rotate(-45)" text-anchor="end">bun</text><text transform="translate(1980 1282) rotate(-45)" text-anchor="end">RpL14</text><text transform="translate(2025.7 1282) rotate(-45)" text-anchor="end">Diap1</text><text transform="translate(2071.4 1282) rotate(-45)" text-anchor="end">dco</text><text transform="translate(2117.1 1282) rotate(-45)" text-anchor="end">yki</text></g>
<path d="M424.5 1387.8H1556.3M1586.6 1387.8H2122.5" stroke="#000" stroke-width="5"/>
<text x="751" y="1434.4" font-size="42" textLength="489" lengthAdjust="spacingAndGlyphs" fill="#000">DNA repair (GO:0006281)</text>
<text x="1873.5" y="1433" font-size="42" text-anchor="middle" textLength="374" lengthAdjust="spacingAndGlyphs" fill="#000">negative regulation of</text>
<text x="1877.3" y="1476.4" font-size="42" text-anchor="middle" textLength="566.5" lengthAdjust="spacingAndGlyphs" fill="#000">apoptotic process (GO:0043066)</text>
<text x="2177.4" y="883.2" font-size="33.5" textLength="264" lengthAdjust="spacingAndGlyphs" fill="#1a1a1a">Average Expression</text>
<rect x="2176.8" y="901.5" width="25.2" height="128.1" fill="url(#cb)"/>
<path d="M2176.8 933.3h3.5M2198.5 933.3h3.5M2176.8 965.6h3.5M2198.5 965.6h3.5M2176.8 997.6h3.5M2198.5 997.6h3.5" stroke="#fff" stroke-width="1"/>
<text x="2217.4" y="910.2" font-size="24.5" textLength="44" lengthAdjust="spacingAndGlyphs" fill="#1a1a1a">1.00</text>
<text x="2217.4" y="942.4" font-size="24.5" textLength="44" lengthAdjust="spacingAndGlyphs" fill="#1a1a1a">0.75</text>
<text x="2217.4" y="974.4" font-size="24.5" textLength="44" lengthAdjust="spacingAndGlyphs" fill="#1a1a1a">0.50</text>
<text x="2217.4" y="1006.5" font-size="24.5" textLength="44" lengthAdjust="spacingAndGlyphs" fill="#1a1a1a">0.25</text>
<text x="2217.4" y="1038.4" font-size="24.5" textLength="44" lengthAdjust="spacingAndGlyphs" fill="#1a1a1a">0.00</text>
<text x="2177.4" y="1117" font-size="33.5" textLength="250" lengthAdjust="spacingAndGlyphs" fill="#1a1a1a">Percent Expressed</text>
<circle cx="2193.2" cy="1148.6" r="0.8" fill="#000"/>
<text x="2225.8" y="1156.6" font-size="24.5" fill="#1a1a1a">0</text>
<circle cx="2193.2" cy="1174.3" r="3.1" fill="#000"/>
<text x="2225.8" y="1182.3" font-size="24.5" fill="#1a1a1a">10</text>
<circle cx="2193.2" cy="1200.6" r="6.5" fill="#000"/>
<text x="2225.8" y="1207.6" font-size="24.5" fill="#1a1a1a">20</text>
<circle cx="2193.2" cy="1226.6" r="8.7" fill="#000"/>
<text x="2225.8" y="1233.5" font-size="24.5" fill="#1a1a1a">30</text>
<circle cx="2193.2" cy="1252.9" r="10.9" fill="#000"/>
<text x="2225.8" y="1259.2" font-size="24.5" fill="#1a1a1a">40</text>
<circle cx="2193.2" cy="1283" r="13.5" fill="#000"/>
<text x="2225.8" y="1285.5" font-size="24.5" fill="#1a1a1a">50</text>
<rect x="169.1" y="2436.1" width="635.8" height="70.7" fill="#000"/>
<rect x="816" y="2436.1" width="636.4" height="70.7" fill="#000"/>
<rect x="84.6" y="2517" width="74.3" height="592.8" fill="#000"/>
<rect x="168.2" y="2517" width="637.5" height="592.8" fill="#000"/>
<rect x="815.1" y="2517" width="637.3" height="592.8" fill="#000"/>
<defs><clipPath id="cl1"><rect x="168.2" y="2517" width="637.5" height="592.8"/></clipPath><clipPath id="cl2"><rect x="815.1" y="2517" width="637.3" height="592.8"/></clipPath><filter id="bl1" x="-20%" y="-20%" width="140%" height="140%"><feGaussianBlur stdDeviation="1.2"/></filter><filter id="bl3" x="-20%" y="-20%" width="140%" height="140%"><feGaussianBlur stdDeviation="4"/></filter><filter id="bl8" x="-30%" y="-30%" width="160%" height="160%"><feGaussianBlur stdDeviation="10"/></filter><filter id="crk" x="0" y="0" width="100%" height="100%"><feTurbulence type="turbulence" baseFrequency="0.011 0.03" numOctaves="2" seed="8"/><feColorMatrix type="matrix" values="0 0 0 0 0  0 0 0 0 0.05  0 0 0 0 0.02  -10 0 0 0 1.2"/><feGaussianBlur stdDeviation="0.9"/></filter><filter id="mot" x="0" y="0" width="100%" height="100%"><feTurbulence type="fractalNoise" baseFrequency="0.07" numOctaves="2" seed="3"/><feColorMatrix type="matrix" values="0 0 0 0 0  0 0 0 0 0.12  0 0 0 0 0.04  6 0 0 0 -3.7"/><feGaussianBlur stdDeviation="0.7"/></filter><filter id="grain" x="0" y="0" width="100%" height="100%"><feTurbulence type="fractalNoise" baseFrequency="0.25" numOctaves="1" seed="2"/><feColorMatrix type="matrix" values="0 0 0 0 0.05  0 0 0 0 0.85  0 0 0 0 0.25  4 0 0 0 -1.6"/></filter></defs><g clip-path="url(#cl1)"><g filter="url(#bl8)"><path d="M215 2990C218.3 2965 230.8 2928.3 240 2900C249.2 2871.7 255 2838.3 270 2820C285 2801.7 305 2785 330 2790C355 2795 388.3 2831.7 420 2850C451.7 2868.3 490 2886.7 520 2900C550 2913.3 596.7 2916.7 600 2930C603.3 2943.3 563.3 2966.7 540 2980C516.7 2993.3 490 3000 460 3010C430 3020 390 3031.7 360 3040C330 3048.3 303.3 3058.3 280 3060C256.7 3061.7 230.8 3061.7 220 3050C209.2 3038.3 211.7 3015 215 2990Z" fill="#0b4a1a" opacity="0.5"/></g><g fill="#000500" stroke="#168a34" stroke-width="1.6" filter="url(#bl1)"><ellipse cx="355.1" cy="2659.2" rx="176" ry="66" transform="rotate(-46.3 355.1 2659.2)" /><ellipse cx="517.9" cy="2689.2" rx="185" ry="62" transform="rotate(-32 517.9 2689.2)" /><ellipse cx="643.3" cy="2825.8" rx="180" ry="62" transform="rotate(-39.5 643.3 2825.8)" /><ellipse cx="525.4" cy="2801.4" rx="174" ry="56" transform="rotate(-31 525.4 2801.4)" /></g><g fill="none" filter="url(#bl1)"><ellipse cx="525.4" cy="2801.4" rx="174" ry="56" transform="rotate(-31 525.4 2801.4)" stroke="#27c04e" stroke-width="2.4"/><ellipse cx="517.9" cy="2689.2" rx="185" ry="62" transform="rotate(-32 517.9 2689.2)" stroke="#20a844" stroke-width="1.8" stroke-opacity="0.8"/><circle cx="774.3" cy="2606.8" r="67" stroke="#1c9a3c" stroke-width="2"/><circle cx="781.8" cy="2468.3" r="86" stroke="#1c9a3c" stroke-width="2"/><circle cx="826.7" cy="2726.6" r="60" stroke="#1c9a3c" stroke-width="2"/></g><g opacity="0.06"><clipPath id="e3c"><ellipse cx="525.4" cy="2801.4" rx="170" ry="52" transform="rotate(-31 525.4 2801.4)" /></clipPath><rect x="350" y="2700" width="360" height="200" fill="#1fae48" clip-path="url(#e3c)" filter="url(#grain)"/></g><path d="M300 3040L420 2990L560 2930L620 2895M290 3060L440 3010L567 2960" fill="none" stroke="#1aa040" stroke-width="3" filter="url(#bl1)"/><g filter="url(#bl1)"><ellipse cx="266.5" cy="2910" rx="16" ry="22" transform="rotate(0 266.5 2910)" fill="#0b5a22" stroke="#22c04c" stroke-width="2.4"/><ellipse cx="298.2" cy="2833.9" rx="59" ry="28" transform="rotate(-60 298.2 2833.9)" fill="#0a4a1a" stroke="#35ff70" stroke-width="4.8"/><ellipse cx="322.8" cy="2872.6" rx="13" ry="13" transform="rotate(0 322.8 2872.6)" fill="#128a34" stroke="#35ff70" stroke-width="2.4"/><ellipse cx="388.5" cy="2933.6" rx="60" ry="32" transform="rotate(-30 388.5 2933.6)" fill="#20d058" stroke="#40ff78" stroke-width="3.2"/><ellipse cx="311.1" cy="2933.6" rx="53" ry="28" transform="rotate(-55 311.1 2933.6)" fill="#2ee068" stroke="#50ff80" stroke-width="2.4"/><ellipse cx="412" cy="2947" rx="30" ry="17" transform="rotate(-20 412 2947)" fill="#0b5a22" stroke="#35ff70" stroke-width="2.4"/><ellipse cx="461.3" cy="2987.6" rx="42" ry="22" transform="rotate(-15 461.3 2987.6)" fill="#0b5a22" stroke="#35ff70" stroke-width="3.2"/><ellipse cx="258.3" cy="2971.1" rx="21" ry="17" transform="rotate(-10 258.3 2971.1)" fill="#0a4a1a" stroke="#35f068" stroke-width="3.2"/><ellipse cx="222" cy="2972.3" rx="11" ry="11" transform="rotate(0 222 2972.3)" fill="#0a4a1a" stroke="#30e060" stroke-width="2.4"/><ellipse cx="275.9" cy="3036.8" rx="16" ry="14" transform="rotate(-10 275.9 3036.8)" fill="#0a4a1a" stroke="#35f068" stroke-width="3.2"/><ellipse cx="405" cy="3004" rx="19" ry="13" transform="rotate(-10 405 3004)" fill="#0a4a1a" stroke="#30e060" stroke-width="2.4"/><ellipse cx="351" cy="2988.7" rx="22" ry="14" transform="rotate(-15 351 2988.7)" fill="#0a4a1a" stroke="#30e060" stroke-width="2.4"/><ellipse cx="368" cy="3009" rx="12" ry="10" transform="rotate(0 368 3009)" fill="#0a4020" stroke="#20a040" stroke-width="1.6"/><ellipse cx="391" cy="3031" rx="13" ry="11" transform="rotate(0 391 3031)" fill="#0a4020" stroke="#20a040" stroke-width="1.6"/><ellipse cx="457" cy="3017" rx="14" ry="11" transform="rotate(0 457 3017)" fill="#0a4020" stroke="#22b044" stroke-width="1.6"/><ellipse cx="320" cy="3036" rx="13" ry="11" transform="rotate(0 320 3036)" fill="#0a4020" stroke="#20a040" stroke-width="1.6"/><ellipse cx="345" cy="3037" rx="13" ry="11" transform="rotate(0 345 3037)" fill="#0a4020" stroke="#20a040" stroke-width="1.6"/><ellipse cx="255" cy="3056" rx="10" ry="9" transform="rotate(0 255 3056)" fill="#083a14" stroke="#1a9038" stroke-width="1.6"/><ellipse cx="508" cy="2975" rx="22" ry="16" transform="rotate(-20 508 2975)" fill="#0a4020" stroke="#1a9038" stroke-width="1.6"/><ellipse cx="560" cy="2930" rx="28" ry="18" transform="rotate(-30 560 2930)" fill="#073014" stroke="#1a9038" stroke-width="1.6"/><ellipse cx="245" cy="2910" rx="12" ry="20" transform="rotate(0 245 2910)" fill="#062a10" stroke="#148030" stroke-width="1.6"/></g><g opacity="0.9"><clipPath id="grc"><path d="M200 2985L240 2975L272 3000L265 3030L230 3035L205 3020Z"/></clipPath><rect x="195" y="2970" width="85" height="70" fill="#2ad058" opacity="0.6" clip-path="url(#grc)" filter="url(#grain)"/></g><g filter="url(#bl3)" opacity="0.85"><ellipse cx="380" cy="2920" rx="45" ry="20" transform="rotate(-30 380 2920)" fill="#40ff78"/><ellipse cx="311" cy="2933" rx="38" ry="17" transform="rotate(-55 311 2933)" fill="#5aff8a"/></g></g><g clip-path="url(#cl2)"><path d="M901.1 3003.5C899.5 2983.6 899.8 2953.6 902.9 2928.7C906.1 2903.7 913.9 2877.5 919.8 2853.8C925.7 2830.1 929.8 2810.2 938.5 2786.5C947.2 2762.8 960.3 2732.2 972.2 2711.6C984 2691 995.9 2677.3 1009.6 2663C1023.3 2648.6 1039.6 2635.5 1054.5 2625.5C1069.5 2615.6 1085.1 2608.7 1099.4 2603.1C1113.8 2597.5 1126.9 2593.7 1140.6 2591.9C1154.3 2590 1167.4 2596.2 1181.8 2591.9C1196.1 2587.5 1201.7 2573.1 1226.7 2565.7C1251.6 2558.2 1309.6 2545.7 1331.5 2546.9C1353.3 2548.2 1346.4 2554.4 1357.7 2573.1C1368.9 2591.9 1391.3 2633.6 1398.8 2659.2C1406.3 2684.8 1405.1 2700.4 1402.6 2726.6C1400.1 2752.8 1388.9 2796.4 1383.9 2816.4C1378.9 2836.4 1377.6 2833.9 1372.6 2846.3C1367.6 2858.8 1360.2 2878.8 1353.9 2891.3C1347.7 2903.7 1338.3 2910 1335.2 2921.2C1332.1 2932.4 1337.7 2944.9 1335.2 2958.6C1332.7 2972.3 1329 2991.7 1320.2 3003.5C1311.5 3015.4 1298.4 3024.1 1282.8 3029.7C1267.2 3035.3 1245.4 3035.3 1226.7 3037.2C1208 3039.1 1189.3 3039.1 1170.5 3041C1151.8 3042.8 1133.1 3045.3 1114.4 3048.4C1095.7 3051.6 1077 3056.5 1058.3 3059.7C1039.6 3062.8 1020.8 3065.9 1002.1 3067.1C983.4 3068.4 961 3070.3 946 3067.1C931 3064 919.8 3059 912.3 3048.4C904.8 3037.8 902.6 3023.5 901.1 3003.5Z" fill="#05300f" filter="url(#bl3)"/><path d="M897.3 3059.7C886.7 3036 896.1 2963 901.1 2928.7C906.1 2894.4 917.9 2860.1 927.3 2853.8C936.6 2847.6 949.7 2869.4 957.2 2891.3C964.7 2913.1 964.7 2959.9 972.2 2984.8C979.7 3009.8 1003.4 3026.6 1002.1 3041C1000.9 3055.3 982.2 3067.8 964.7 3070.9C947.2 3074 907.9 3083.4 897.3 3059.7Z" fill="#062e10" filter="url(#bl8)"/><g filter="url(#bl1)"><ellipse cx="1047" cy="2651.7" rx="50.5" ry="26.2" transform="rotate(-35 1047 2651.7)" fill="#083f17" stroke="#22f060" stroke-width="3"/><ellipse cx="1159.3" cy="2625.5" rx="54.3" ry="29.2" transform="rotate(-10 1159.3 2625.5)" fill="#083f17" stroke="#22f060" stroke-width="3"/><ellipse cx="1054.5" cy="2696.6" rx="37.4" ry="20.6" transform="rotate(-20 1054.5 2696.6)" fill="#073a15" stroke="#1cc04e" stroke-width="2.4"/><ellipse cx="990.9" cy="2711.6" rx="35.6" ry="20.6" transform="rotate(-30 990.9 2711.6)" fill="#073a15" stroke="#1cc04e" stroke-width="2.4"/><ellipse cx="979.7" cy="2775.2" rx="50.5" ry="34.4" transform="rotate(-50 979.7 2775.2)" fill="#083f17" stroke="#22f060" stroke-width="3"/><ellipse cx="1047" cy="2760.3" rx="35.6" ry="21.7" transform="rotate(-30 1047 2760.3)" fill="#073a15" stroke="#1cc04e" stroke-width="2.4"/><ellipse cx="1136.9" cy="2689.2" rx="43" ry="26.9" transform="rotate(-30 1136.9 2689.2)" fill="#073a15" stroke="#1cc04e" stroke-width="2.4"/><ellipse cx="946" cy="2838.9" rx="26.9" ry="19.5" transform="rotate(-60 946 2838.9)" fill="#073a15" stroke="#1cc04e" stroke-width="2.4"/><ellipse cx="987.2" cy="2842.6" rx="23.2" ry="17.2" transform="rotate(-50 987.2 2842.6)" fill="#073a15" stroke="#1cc04e" stroke-width="2.4"/><ellipse cx="1047" cy="2850.1" rx="41.9" ry="33.7" transform="rotate(-50 1047 2850.1)" fill="#083f17" stroke="#22f060" stroke-width="3"/><ellipse cx="1159.3" cy="2823.9" rx="41.9" ry="29.9" transform="rotate(-60 1159.3 2823.9)" fill="#083f17" stroke="#22f060" stroke-width="3"/><ellipse cx="1144.3" cy="2895" rx="58" ry="34.4" transform="rotate(-40 1144.3 2895)" fill="#083f17" stroke="#22f060" stroke-width="3"/><ellipse cx="1275.3" cy="2876.3" rx="50.5" ry="34.4" transform="rotate(-40 1275.3 2876.3)" fill="#083f17" stroke="#22f060" stroke-width="3"/><ellipse cx="1264.1" cy="2994.2" rx="76.7" ry="34.4" transform="rotate(-25 1264.1 2994.2)" fill="#083f17" stroke="#22f060" stroke-width="3"/><ellipse cx="1163.1" cy="2966.1" rx="50.5" ry="28.4" transform="rotate(-30 1163.1 2966.1)" fill="#083f17" stroke="#22f060" stroke-width="3"/><ellipse cx="1073.2" cy="2966.1" rx="38.2" ry="26.2" transform="rotate(-30 1073.2 2966.1)" fill="#083f17" stroke="#22f060" stroke-width="3"/><ellipse cx="1009.6" cy="2917.4" rx="30.7" ry="22.5" transform="rotate(-60 1009.6 2917.4)" fill="#06300f" stroke="#149a3c" stroke-width="2"/><ellipse cx="957.2" cy="2910" rx="23.2" ry="18.7" transform="rotate(-60 957.2 2910)" fill="#06300f" stroke="#149a3c" stroke-width="2"/><ellipse cx="964.7" cy="2973.6" rx="23.2" ry="18.7" transform="rotate(-40 964.7 2973.6)" fill="#06300f" stroke="#149a3c" stroke-width="2"/><ellipse cx="1024.6" cy="3011" rx="23.2" ry="15.7" transform="rotate(-20 1024.6 3011)" fill="#06300f" stroke="#149a3c" stroke-width="2"/><ellipse cx="1084.5" cy="3014.8" rx="26.9" ry="17.2" transform="rotate(-20 1084.5 3014.8)" fill="#073a15" stroke="#1cc04e" stroke-width="2.4"/><ellipse cx="1226.7" cy="2913.7" rx="38.2" ry="26.2" transform="rotate(-30 1226.7 2913.7)" fill="#073a15" stroke="#1cc04e" stroke-width="2.4"/><ellipse cx="1062" cy="2928.7" rx="26.9" ry="18.7" transform="rotate(-30 1062 2928.7)" fill="#073a15" stroke="#1cc04e" stroke-width="2.4"/><ellipse cx="927.3" cy="2928.7" rx="15.7" ry="13.5" transform="rotate(0 927.3 2928.7)" fill="#06300f" stroke="#149a3c" stroke-width="2"/><ellipse cx="931" cy="3003.5" rx="15.7" ry="15" transform="rotate(0 931 3003.5)" fill="#06300f" stroke="#149a3c" stroke-width="2"/><ellipse cx="1215.4" cy="2966.1" rx="29.9" ry="22.5" transform="rotate(-30 1215.4 2966.1)" fill="#073a15" stroke="#1cc04e" stroke-width="2.4"/><ellipse cx="1099.4" cy="2917.4" rx="22.5" ry="16.8" transform="rotate(-30 1099.4 2917.4)" fill="#073a15" stroke="#1cc04e" stroke-width="2.4"/><ellipse cx="987.2" cy="3011" rx="16.8" ry="14.2" transform="rotate(0 987.2 3011)" fill="#06300f" stroke="#149a3c" stroke-width="2"/><ellipse cx="1024.6" cy="3052.2" rx="16.8" ry="11.2" transform="rotate(0 1024.6 3052.2)" fill="#06300f" stroke="#149a3c" stroke-width="2"/><ellipse cx="957.2" cy="3041" rx="16.8" ry="13.1" transform="rotate(0 957.2 3041)" fill="#06300f" stroke="#149a3c" stroke-width="2"/></g><g filter="url(#bl3)"><path d="M1039.6 2741.6C1044.5 2732.8 1064.5 2730.3 1077 2726.6C1089.5 2722.8 1101.9 2719.1 1114.4 2719.1C1126.9 2719.1 1145.6 2716.6 1151.8 2726.6C1158.1 2736.6 1158.1 2769 1151.8 2779C1145.6 2789 1126.9 2785.2 1114.4 2786.5C1101.9 2787.7 1088.2 2787.7 1077 2786.5C1065.7 2785.2 1053.3 2786.5 1047 2779C1040.8 2771.5 1034.6 2750.3 1039.6 2741.6Z" fill="#20d858"/><path d="M1024.6 2711.6C1027.7 2702.9 1045.8 2689.2 1058.3 2681.7C1070.7 2674.2 1086.3 2670.4 1099.4 2666.7C1112.5 2663 1128.1 2656.1 1136.9 2659.2C1145.6 2662.3 1155.6 2676.7 1151.8 2685.4C1148.1 2694.1 1126.9 2704.7 1114.4 2711.6C1101.9 2718.5 1089.5 2722.8 1077 2726.6C1064.5 2730.3 1048.3 2736.6 1039.6 2734.1C1030.8 2731.6 1021.5 2720.3 1024.6 2711.6Z" fill="#18b048" opacity="0.7"/><path d="M1211.7 2801.4C1217.9 2793.9 1251.6 2797.1 1264.1 2801.4C1276.6 2805.8 1285.3 2818.9 1286.6 2827.6C1287.8 2836.4 1281.6 2850.7 1271.6 2853.8C1261.6 2856.9 1236.7 2855.1 1226.7 2846.3C1216.7 2837.6 1205.5 2808.9 1211.7 2801.4Z" fill="#18b048" opacity="0.6"/></g><clipPath id="creg"><path d="M1179.9 2591.9C1180.5 2588.7 1196.4 2584.7 1204.2 2580.6C1212 2576.6 1216.7 2570.3 1226.7 2567.5C1236.7 2564.7 1251.6 2565.7 1264.1 2563.8C1276.6 2561.9 1291.5 2559.1 1301.5 2556.3C1311.5 2553.5 1317.1 2547.9 1324 2546.9C1330.8 2546 1337.7 2546.3 1342.7 2550.7C1347.7 2555 1350.8 2566.3 1353.9 2573.1C1357 2580 1358.9 2585 1361.4 2591.9C1363.9 2598.7 1365.8 2608.1 1368.9 2614.3C1372 2620.5 1376.4 2623.7 1380.1 2629.3C1383.9 2634.9 1388.2 2641.8 1391.3 2648C1394.5 2654.2 1396.6 2661.1 1398.8 2666.7C1401 2672.3 1403.8 2675.4 1404.4 2681.7C1405.1 2687.9 1403.8 2696.6 1402.6 2704.1C1401.3 2711.6 1398.8 2717.8 1397 2726.6C1395.1 2735.3 1392.9 2747.8 1391.3 2756.5C1389.8 2765.3 1388.9 2771.5 1387.6 2779C1386.4 2786.5 1385.7 2793.3 1383.9 2801.4C1382 2809.5 1378.2 2820.1 1376.4 2827.6C1374.5 2835.1 1376.4 2843.8 1372.6 2846.3C1368.9 2848.8 1357 2840.1 1353.9 2842.6C1350.8 2845.1 1353.3 2855.7 1353.9 2861.3C1354.5 2866.9 1357.7 2871.3 1357.7 2876.3C1357.7 2881.3 1357.7 2886.3 1353.9 2891.3C1350.2 2896.2 1339.6 2905.6 1335.2 2906.2C1330.8 2906.8 1328.3 2900.6 1327.7 2895C1327.1 2889.4 1330.2 2880 1331.5 2872.5C1332.7 2865.1 1337.1 2855.1 1335.2 2850.1C1333.3 2845.1 1325.9 2845.1 1320.2 2842.6C1314.6 2840.1 1307.1 2837.6 1301.5 2835.1C1295.9 2832.6 1292.2 2833.2 1286.6 2827.6C1280.9 2822 1274.1 2805.2 1267.8 2801.4C1261.6 2797.7 1254.7 2802.7 1249.1 2805.2C1243.5 2807.7 1241 2810.2 1234.2 2816.4C1227.3 2822.6 1213.6 2837.6 1208 2842.6C1202.4 2847.6 1202.4 2847 1200.5 2846.3C1198.6 2845.7 1195.5 2843.2 1196.7 2838.9C1198 2834.5 1206.4 2827.6 1208 2820.1C1209.5 2812.7 1208 2799.6 1206.1 2793.9C1204.2 2788.3 1202.7 2787.4 1196.7 2786.5C1190.8 2785.5 1179.9 2789 1170.5 2788.3C1161.2 2787.7 1150 2784.6 1140.6 2782.7C1131.2 2780.8 1121.3 2777.7 1114.4 2777.1C1107.5 2776.5 1105.7 2776.2 1099.4 2779C1093.2 2781.8 1083.8 2790.2 1077 2793.9C1070.1 2797.7 1064.5 2797.1 1058.3 2801.4C1052 2805.8 1045.2 2813.9 1039.6 2820.1C1033.9 2826.4 1028.3 2835.1 1024.6 2838.9C1020.8 2842.6 1017.7 2845.1 1017.1 2842.6C1016.5 2840.1 1015.8 2830.7 1020.8 2823.9C1025.8 2817 1038.9 2807.7 1047 2801.4C1055.1 2795.2 1062 2792.7 1069.5 2786.5C1077 2780.2 1087 2770.9 1091.9 2764C1096.9 2757.1 1098.8 2750.9 1099.4 2745.3C1100.1 2739.7 1093.2 2733.8 1095.7 2730.3C1098.2 2726.9 1106.3 2726.9 1114.4 2724.7C1122.5 2722.5 1136.9 2719.4 1144.3 2717.2C1151.8 2715 1154.9 2715.7 1159.3 2711.6C1163.7 2707.6 1168 2699.1 1170.5 2692.9C1173 2686.7 1172.4 2679.8 1174.3 2674.2C1176.2 2668.6 1179.3 2663.3 1181.8 2659.2C1184.3 2655.2 1184.3 2653 1189.3 2649.9C1194.2 2646.7 1207.3 2645.2 1211.7 2640.5C1216.1 2635.8 1216.1 2627.4 1215.4 2621.8C1214.8 2616.2 1210.5 2610.6 1208 2606.8C1205.5 2603.1 1205.2 2601.8 1200.5 2599.3C1195.8 2596.8 1179.3 2595 1179.9 2591.9Z"/></clipPath><path d="M1179.9 2591.9C1180.5 2588.7 1196.4 2584.7 1204.2 2580.6C1212 2576.6 1216.7 2570.3 1226.7 2567.5C1236.7 2564.7 1251.6 2565.7 1264.1 2563.8C1276.6 2561.9 1291.5 2559.1 1301.5 2556.3C1311.5 2553.5 1317.1 2547.9 1324 2546.9C1330.8 2546 1337.7 2546.3 1342.7 2550.7C1347.7 2555 1350.8 2566.3 1353.9 2573.1C1357 2580 1358.9 2585 1361.4 2591.9C1363.9 2598.7 1365.8 2608.1 1368.9 2614.3C1372 2620.5 1376.4 2623.7 1380.1 2629.3C1383.9 2634.9 1388.2 2641.8 1391.3 2648C1394.5 2654.2 1396.6 2661.1 1398.8 2666.7C1401 2672.3 1403.8 2675.4 1404.4 2681.7C1405.1 2687.9 1403.8 2696.6 1402.6 2704.1C1401.3 2711.6 1398.8 2717.8 1397 2726.6C1395.1 2735.3 1392.9 2747.8 1391.3 2756.5C1389.8 2765.3 1388.9 2771.5 1387.6 2779C1386.4 2786.5 1385.7 2793.3 1383.9 2801.4C1382 2809.5 1378.2 2820.1 1376.4 2827.6C1374.5 2835.1 1376.4 2843.8 1372.6 2846.3C1368.9 2848.8 1357 2840.1 1353.9 2842.6C1350.8 2845.1 1353.3 2855.7 1353.9 2861.3C1354.5 2866.9 1357.7 2871.3 1357.7 2876.3C1357.7 2881.3 1357.7 2886.3 1353.9 2891.3C1350.2 2896.2 1339.6 2905.6 1335.2 2906.2C1330.8 2906.8 1328.3 2900.6 1327.7 2895C1327.1 2889.4 1330.2 2880 1331.5 2872.5C1332.7 2865.1 1337.1 2855.1 1335.2 2850.1C1333.3 2845.1 1325.9 2845.1 1320.2 2842.6C1314.6 2840.1 1307.1 2837.6 1301.5 2835.1C1295.9 2832.6 1292.2 2833.2 1286.6 2827.6C1280.9 2822 1274.1 2805.2 1267.8 2801.4C1261.6 2797.7 1254.7 2802.7 1249.1 2805.2C1243.5 2807.7 1241 2810.2 1234.2 2816.4C1227.3 2822.6 1213.6 2837.6 1208 2842.6C1202.4 2847.6 1202.4 2847 1200.5 2846.3C1198.6 2845.7 1195.5 2843.2 1196.7 2838.9C1198 2834.5 1206.4 2827.6 1208 2820.1C1209.5 2812.7 1208 2799.6 1206.1 2793.9C1204.2 2788.3 1202.7 2787.4 1196.7 2786.5C1190.8 2785.5 1179.9 2789 1170.5 2788.3C1161.2 2787.7 1150 2784.6 1140.6 2782.7C1131.2 2780.8 1121.3 2777.7 1114.4 2777.1C1107.5 2776.5 1105.7 2776.2 1099.4 2779C1093.2 2781.8 1083.8 2790.2 1077 2793.9C1070.1 2797.7 1064.5 2797.1 1058.3 2801.4C1052 2805.8 1045.2 2813.9 1039.6 2820.1C1033.9 2826.4 1028.3 2835.1 1024.6 2838.9C1020.8 2842.6 1017.7 2845.1 1017.1 2842.6C1016.5 2840.1 1015.8 2830.7 1020.8 2823.9C1025.8 2817 1038.9 2807.7 1047 2801.4C1055.1 2795.2 1062 2792.7 1069.5 2786.5C1077 2780.2 1087 2770.9 1091.9 2764C1096.9 2757.1 1098.8 2750.9 1099.4 2745.3C1100.1 2739.7 1093.2 2733.8 1095.7 2730.3C1098.2 2726.9 1106.3 2726.9 1114.4 2724.7C1122.5 2722.5 1136.9 2719.4 1144.3 2717.2C1151.8 2715 1154.9 2715.7 1159.3 2711.6C1163.7 2707.6 1168 2699.1 1170.5 2692.9C1173 2686.7 1172.4 2679.8 1174.3 2674.2C1176.2 2668.6 1179.3 2663.3 1181.8 2659.2C1184.3 2655.2 1184.3 2653 1189.3 2649.9C1194.2 2646.7 1207.3 2645.2 1211.7 2640.5C1216.1 2635.8 1216.1 2627.4 1215.4 2621.8C1214.8 2616.2 1210.5 2610.6 1208 2606.8C1205.5 2603.1 1205.2 2601.8 1200.5 2599.3C1195.8 2596.8 1179.3 2595 1179.9 2591.9Z" fill="#00ff55"/><g clip-path="url(#creg)"><g transform="rotate(-35 1250 2750)"><rect x="900" y="2400" width="700" height="700" filter="url(#crk)"/></g><rect x="1000" y="2540" width="460" height="420" filter="url(#mot)"/></g><g clip-path="url(#creg)"><path d="M1312.8 2561.9C1315.2 2553.2 1337.7 2550.1 1346.4 2558.2C1355.2 2566.3 1360.2 2596.8 1365.1 2610.6C1370.1 2624.3 1378.9 2635.5 1376.4 2640.5C1373.9 2645.5 1357.7 2645.5 1350.2 2640.5C1342.7 2635.5 1337.7 2623.7 1331.5 2610.6C1325.2 2597.5 1310.3 2570.6 1312.8 2561.9Z" fill="#02200a" opacity="0.85" filter="url(#bl8)"/></g><path d="M1179.9 2591.9C1180.5 2588.7 1196.4 2584.7 1204.2 2580.6C1212 2576.6 1216.7 2570.3 1226.7 2567.5C1236.7 2564.7 1251.6 2565.7 1264.1 2563.8C1276.6 2561.9 1291.5 2559.1 1301.5 2556.3C1311.5 2553.5 1317.1 2547.9 1324 2546.9C1330.8 2546 1337.7 2546.3 1342.7 2550.7C1347.7 2555 1350.8 2566.3 1353.9 2573.1C1357 2580 1358.9 2585 1361.4 2591.9C1363.9 2598.7 1365.8 2608.1 1368.9 2614.3C1372 2620.5 1376.4 2623.7 1380.1 2629.3C1383.9 2634.9 1388.2 2641.8 1391.3 2648C1394.5 2654.2 1396.6 2661.1 1398.8 2666.7C1401 2672.3 1403.8 2675.4 1404.4 2681.7C1405.1 2687.9 1403.8 2696.6 1402.6 2704.1C1401.3 2711.6 1398.8 2717.8 1397 2726.6C1395.1 2735.3 1392.9 2747.8 1391.3 2756.5C1389.8 2765.3 1388.9 2771.5 1387.6 2779C1386.4 2786.5 1385.7 2793.3 1383.9 2801.4C1382 2809.5 1378.2 2820.1 1376.4 2827.6C1374.5 2835.1 1376.4 2843.8 1372.6 2846.3C1368.9 2848.8 1357 2840.1 1353.9 2842.6C1350.8 2845.1 1353.3 2855.7 1353.9 2861.3C1354.5 2866.9 1357.7 2871.3 1357.7 2876.3C1357.7 2881.3 1357.7 2886.3 1353.9 2891.3C1350.2 2896.2 1339.6 2905.6 1335.2 2906.2C1330.8 2906.8 1328.3 2900.6 1327.7 2895C1327.1 2889.4 1330.2 2880 1331.5 2872.5C1332.7 2865.1 1337.1 2855.1 1335.2 2850.1C1333.3 2845.1 1325.9 2845.1 1320.2 2842.6C1314.6 2840.1 1307.1 2837.6 1301.5 2835.1C1295.9 2832.6 1292.2 2833.2 1286.6 2827.6C1280.9 2822 1274.1 2805.2 1267.8 2801.4C1261.6 2797.7 1254.7 2802.7 1249.1 2805.2C1243.5 2807.7 1241 2810.2 1234.2 2816.4C1227.3 2822.6 1213.6 2837.6 1208 2842.6C1202.4 2847.6 1202.4 2847 1200.5 2846.3C1198.6 2845.7 1195.5 2843.2 1196.7 2838.9C1198 2834.5 1206.4 2827.6 1208 2820.1C1209.5 2812.7 1208 2799.6 1206.1 2793.9C1204.2 2788.3 1202.7 2787.4 1196.7 2786.5C1190.8 2785.5 1179.9 2789 1170.5 2788.3C1161.2 2787.7 1150 2784.6 1140.6 2782.7C1131.2 2780.8 1121.3 2777.7 1114.4 2777.1C1107.5 2776.5 1105.7 2776.2 1099.4 2779C1093.2 2781.8 1083.8 2790.2 1077 2793.9C1070.1 2797.7 1064.5 2797.1 1058.3 2801.4C1052 2805.8 1045.2 2813.9 1039.6 2820.1C1033.9 2826.4 1028.3 2835.1 1024.6 2838.9C1020.8 2842.6 1017.7 2845.1 1017.1 2842.6C1016.5 2840.1 1015.8 2830.7 1020.8 2823.9C1025.8 2817 1038.9 2807.7 1047 2801.4C1055.1 2795.2 1062 2792.7 1069.5 2786.5C1077 2780.2 1087 2770.9 1091.9 2764C1096.9 2757.1 1098.8 2750.9 1099.4 2745.3C1100.1 2739.7 1093.2 2733.8 1095.7 2730.3C1098.2 2726.9 1106.3 2726.9 1114.4 2724.7C1122.5 2722.5 1136.9 2719.4 1144.3 2717.2C1151.8 2715 1154.9 2715.7 1159.3 2711.6C1163.7 2707.6 1168 2699.1 1170.5 2692.9C1173 2686.7 1172.4 2679.8 1174.3 2674.2C1176.2 2668.6 1179.3 2663.3 1181.8 2659.2C1184.3 2655.2 1184.3 2653 1189.3 2649.9C1194.2 2646.7 1207.3 2645.2 1211.7 2640.5C1216.1 2635.8 1216.1 2627.4 1215.4 2621.8C1214.8 2616.2 1210.5 2610.6 1208 2606.8C1205.5 2603.1 1205.2 2601.8 1200.5 2599.3C1195.8 2596.8 1179.3 2595 1179.9 2591.9Z" fill="none" stroke="#b04ae8" stroke-width="4.5" stroke-linejoin="round"/></g><path d="M705.8 3086.3H785.8M1352.4 3084.5H1426.2" stroke="#fff" stroke-width="6"/><text x="603.3" y="2989.7" font-size="44" textLength="174" lengthAdjust="spacingAndGlyphs" fill="#fff">Stage 14</text><text x="614.6" y="3037.5" font-size="44" textLength="167" lengthAdjust="spacingAndGlyphs" fill="#fff">(Pre-CL)</text><text x="1281.3" y="3048.7" font-size="44" textLength="147" lengthAdjust="spacingAndGlyphs" fill="#fff">Stage 9</text><text x="846.4" y="2562.6" font-size="44" textLength="270" lengthAdjust="spacingAndGlyphs" fill="#fff">surviving FCs</text><path d="M699.3 2936.5 689.4 2916 695.3 2913.2 676.2 2903.5 671.8 2924.5 677.7 2921.6 687.5 2942.1Z" fill="#fff"/><path d="M1129.3 2552.4 1151.3 2567.3 1147.6 2572.7 1169 2571.5 1162.3 2551.2 1158.6 2556.6 1136.7 2541.6Z" fill="#fff"/><path d="M1358.6 2998.9 1346.2 2986.6 1350.8 2982 1329.6 2979.2 1332.5 3000.4 1337.1 2995.8 1349.4 3008.1Z" fill="#fff"/>
<text x="488.3" y="2488.9" font-size="56" text-anchor="middle" textLength="172" lengthAdjust="spacingAndGlyphs" fill="#fff" font-style="italic">Control</text>
<text x="1135" y="2488.9" font-size="56" text-anchor="middle" textLength="224" lengthAdjust="spacingAndGlyphs" fill="#fff" font-style="italic">NICD OE</text>
<g transform="translate(138 2900) rotate(-90)"><text x="0" y="0" font-size="55" font-style="italic" fill="#00EE55" stroke="#00EE55" stroke-width="0.8" textLength="197" lengthAdjust="spacingAndGlyphs">tj<tspan font-size="33" dy="-15">TS</tspan><tspan dy="15">&gt;GFP</tspan></text></g>
<text x="1773" y="2408" font-size="35" text-anchor="middle" textLength="133" lengthAdjust="spacingAndGlyphs" fill="#1a1a1a" stroke="#1a1a1a" stroke-width="0.5">Control</text>
<text x="2169" y="2408" font-size="35" text-anchor="middle" textLength="155" lengthAdjust="spacingAndGlyphs" fill="#1a1a1a" stroke="#1a1a1a" stroke-width="0.5">NICD OE</text>
<g transform="translate(1568 2675) rotate(-90)"><text x="0" y="0" font-size="56" textLength="79" lengthAdjust="spacingAndGlyphs" fill="#000">Ilp8</text></g>
<g transform="translate(1567 3015.5) rotate(-90)"><text x="0" y="0" font-size="57" textLength="142" lengthAdjust="spacingAndGlyphs" fill="#000">Oamb</text></g>
<path d="M2376.3 2700V2585M2376.3 2881.6V2998" stroke="#B038EC" stroke-width="19" stroke-linecap="round" fill="none"/>
<path d="M2328.2 2615.5L2376.3 2573.8L2424.9 2615.5M2328.2 2967.3L2376.3 3009L2424.9 2967.3" fill="none" stroke="#B038EC" stroke-width="18" stroke-linecap="round" stroke-linejoin="miter" stroke-miterlimit="10"/></svg></body></html>
